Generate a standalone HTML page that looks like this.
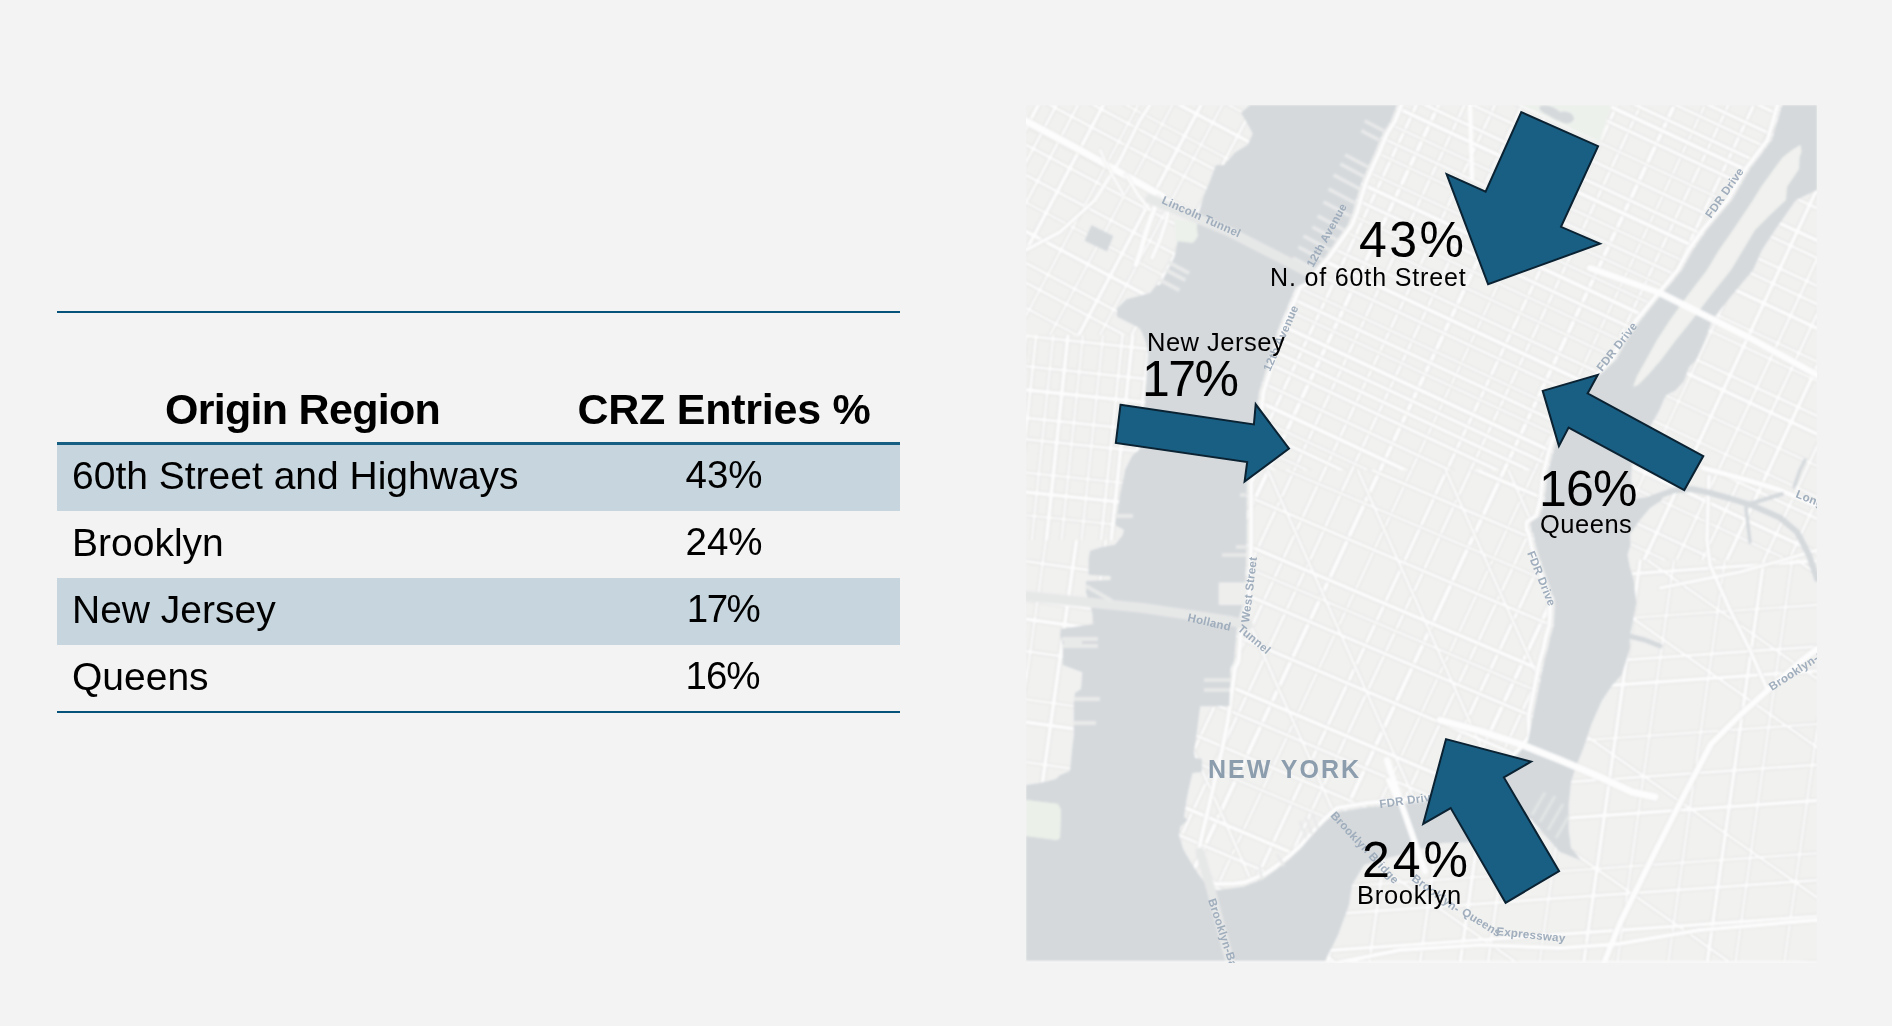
<!DOCTYPE html>
<html><head><meta charset="utf-8"><title>CRZ Entries by Origin Region</title>
<style>
html,body{margin:0;padding:0}
body{width:1892px;height:1026px;background:#f3f3f3;position:relative;overflow:hidden;-webkit-font-smoothing:antialiased;font-family:"Liberation Sans",Arial,Helvetica,sans-serif;color:#000}
.map{position:absolute;left:0;top:0;font-family:"Liberation Sans",Arial,Helvetica,sans-serif}
.rule{position:absolute;left:57px;width:843px}
.row{position:absolute;left:57px;width:843px;height:67px}
.hl{background:#c7d6de}
.c1{will-change:transform;position:absolute;left:72px;font-size:39px;letter-spacing:0px;white-space:nowrap;line-height:1}
.c2{will-change:transform;position:absolute;left:548px;width:352px;text-align:center;font-size:38.5px;white-space:nowrap;line-height:1}
.h{will-change:transform;position:absolute;font-weight:700;font-size:43px;white-space:nowrap;line-height:1;letter-spacing:-1.1px}
</style></head><body>
<div class="rule" style="top:311px;height:2px;background:#05527a"></div>
<div class="h" style="left:57px;width:491px;text-align:center;top:388px;letter-spacing:-0.7px">Origin Region</div>
<div class="h" style="left:548px;width:352px;text-align:center;top:388px;letter-spacing:-0.25px">CRZ Entries %</div>
<div class="rule" style="top:442px;height:3px;background:#165e82"></div>
<div class="row hl" style="top:445px;height:66px"></div>
<div class="row hl" style="top:578px"></div>
<div class="c1" style="top:456px">60th Street and Highways</div>
<div class="c2" style="top:456px">43%</div>
<div class="c1" style="top:523px">Brooklyn</div>
<div class="c2" style="top:523px">24%</div>
<div class="c1" style="top:590px">New Jersey</div>
<div class="c2" style="top:590px;letter-spacing:-1.5px;text-indent:-2px">17%</div>
<div class="c1" style="top:657px">Queens</div>
<div class="c2" style="top:657px;letter-spacing:-1px;text-indent:-3px">16%</div>
<div class="rule" style="top:711px;height:2px;background:#05527a"></div>
<svg class="map" width="1892" height="1026" viewBox="0 0 1892 1026">
<defs>
<clipPath id="mapclip"><rect x="1026" y="105" width="791" height="858"/></clipPath>
<clipPath id="manh"><path d="M1214.7,890.4 L1205.0,883.2 L1198.0,873.6 L1192.0,864.0 L1186.5,855.0 L1183.0,848.5 L1179.0,835.0 L1180.4,826.6 L1187.7,820.0 L1184.0,817.0 L1185.0,810.0 L1186.5,800.0 L1188.5,790.0 L1192.5,773.0 L1202.0,772.0 L1202.0,759.0 L1195.0,758.0 L1194.0,752.0 L1196.5,735.0 L1200.2,706.3 L1229.4,706.0 L1230.6,668.0 L1234.0,662.0 L1235.0,650.0 L1237.0,626.0 L1240.6,612.0 L1243.0,605.0 L1245.4,581.0 L1246.7,540.0 L1246.7,482.0 L1249.0,478.0 L1254.0,440.0 L1257.6,405.0 L1259.0,392.0 L1264.0,376.7 L1272.0,350.0 L1277.0,332.6 L1283.4,316.7 L1290.0,301.0 L1296.0,287.0 L1304.5,283.0 L1311.0,272.6 L1325.0,256.7 L1336.0,241.0 L1347.5,225.0 L1352.6,212.6 L1357.0,197.0 L1362.0,181.0 L1369.0,165.0 L1374.8,152.6 L1378.0,144.6 L1382.7,133.5 L1390.6,121.0 L1397.0,105.0 L1398.0,105.0 L1776.0,105.0 L1782.0,105.0 L1772.0,140.0 L1750.0,169.0 L1732.0,200.0 L1707.0,230.0 L1693.0,250.0 L1682.0,270.0 L1663.0,293.0 L1641.0,320.0 L1627.0,340.0 L1616.0,360.0 L1608.6,367.0 L1600.0,375.0 L1582.0,396.0 L1565.0,425.0 L1556.8,440.0 L1553.3,451.7 L1547.4,475.0 L1545.0,498.5 L1540.4,516.0 L1531.0,522.0 L1531.0,530.0 L1533.4,533.6 L1535.7,545.0 L1538.6,555.0 L1546.8,578.4 L1555.0,601.8 L1553.8,625.2 L1550.3,636.9 L1548.0,648.6 L1546.0,655.0 L1543.4,665.0 L1538.3,690.7 L1533.0,716.0 L1528.0,741.0 L1518.0,754.0 L1505.0,766.0 L1490.0,776.0 L1470.0,786.0 L1445.0,796.0 L1423.0,802.0 L1394.7,804.7 L1366.0,807.6 L1341.4,811.4 L1335.7,812.5 L1322.0,825.0 L1308.0,840.0 L1300.0,849.6 L1288.0,860.4 L1276.0,870.0 L1264.0,878.4 L1255.5,882.0 L1243.5,886.8 L1234.0,888.0 Z"/></clipPath>
<clipPath id="nj"><path d="M1026.0,105.0 L1250.0,105.0 L1241.0,113.0 L1246.0,121.0 L1252.7,133.5 L1248.0,144.6 L1235.0,152.6 L1224.0,165.0 L1216.0,165.0 L1210.0,180.9 L1203.5,196.7 L1198.8,212.6 L1197.0,225.0 L1196.0,240.0 L1177.7,241.0 L1174.5,256.7 L1166.6,272.6 L1160.0,285.0 L1156.6,285.0 L1150.0,292.9 L1126.5,299.3 L1117.0,308.8 L1117.0,316.7 L1139.0,327.8 L1142.0,332.6 L1147.0,345.0 L1148.0,354.5 L1146.6,376.7 L1145.0,405.0 L1141.0,448.0 L1132.0,456.0 L1125.0,470.0 L1124.0,476.0 L1120.0,494.3 L1118.0,510.0 L1115.0,524.7 L1124.0,530.0 L1122.7,535.0 L1115.0,544.7 L1102.0,547.0 L1090.0,550.8 L1088.6,559.0 L1088.6,575.0 L1110.5,576.0 L1110.5,580.0 L1086.0,581.0 L1086.0,592.0 L1088.6,601.0 L1092.0,612.0 L1093.5,624.0 L1060.7,629.0 L1060.0,636.0 L1062.0,641.0 L1063.0,652.0 L1062.8,665.0 L1082.3,672.3 L1081.0,689.0 L1075.0,693.0 L1073.8,701.5 L1073.8,735.0 L1072.0,750.0 L1070.0,771.0 L1060.0,775.0 L1056.0,779.0 L1040.0,783.0 L1026.0,785.0 L1026.0,800.0 L1058.0,804.0 L1061.0,810.0 L1060.0,838.0 L1057.0,840.0 L1026.0,836.0 L1026.0,963.0 Z"/></clipPath>
<clipPath id="qb"><path d="M1776.0,105.0 L1817.0,105.0 L1817.0,963.0 L1336.0,963.0 L1324.0,963.0 L1338.0,935.0 L1349.0,905.0 L1352.0,885.0 L1364.0,865.0 L1380.0,860.0 L1400.0,855.0 L1442.0,843.0 L1470.0,842.0 L1490.0,836.0 L1520.0,828.0 L1530.0,818.0 L1545.0,835.0 L1560.0,852.0 L1581.4,860.6 L1571.0,848.0 L1568.7,830.0 L1568.7,804.8 L1571.0,782.0 L1576.0,766.8 L1584.0,746.5 L1591.6,723.7 L1601.7,701.0 L1612.0,685.6 L1621.6,675.0 L1626.3,660.3 L1629.8,648.6 L1629.8,636.9 L1632.2,625.2 L1636.3,601.8 L1633.3,578.4 L1629.8,566.7 L1627.5,555.0 L1630.5,545.0 L1630.0,534.0 L1640.0,520.0 L1650.0,508.0 L1662.0,500.0 L1662.0,492.0 L1648.0,497.0 L1634.0,499.0 L1631.0,480.0 L1632.0,463.0 L1642.0,448.0 L1652.0,423.0 L1659.0,411.0 L1665.0,397.0 L1667.0,394.6 L1675.5,390.5 L1684.0,381.0 L1689.0,367.0 L1696.0,360.0 L1705.0,340.0 L1712.0,320.0 L1728.0,300.0 L1753.0,270.0 L1762.0,250.0 L1775.0,230.0 L1796.0,200.0 L1817.0,190.0 Z"/></clipPath>
</defs>
<filter id="soft" x="0" y="0" width="1" height="1"><feGaussianBlur stdDeviation="0.85"/></filter>
<g clip-path="url(#mapclip)"><g filter="url(#soft)">
<rect x="1026" y="105" width="791" height="858" fill="#f1f1f0"/>
<clipPath id="band0"><rect x="1026" y="105" width="791" height="858"/></clipPath>
<g clip-path="url(#manh)"><g clip-path="url(#band0)"><g stroke="#e4e4e3"><line x1="320.9" y1="1014.5" x2="1081.7" y2="-616.8" stroke-width="6.36"/><line x1="340.5" y1="1023.6" x2="1101.2" y2="-607.7" stroke-width="5.58"/><line x1="365.4" y1="1035.3" x2="1126.1" y2="-596.1" stroke-width="4.54"/><line x1="386.4" y1="1045.1" x2="1147.1" y2="-586.3" stroke-width="5.06"/><line x1="408.8" y1="1055.5" x2="1169.6" y2="-575.8" stroke-width="6.36"/><line x1="435.7" y1="1068.1" x2="1196.4" y2="-563.3" stroke-width="5.58"/><line x1="463.3" y1="1080.9" x2="1224.0" y2="-550.4" stroke-width="4.54"/><line x1="486.8" y1="1091.9" x2="1247.5" y2="-539.5" stroke-width="5.58"/><line x1="511.1" y1="1103.2" x2="1271.8" y2="-528.1" stroke-width="6.36"/><line x1="532.0" y1="1113.0" x2="1292.7" y2="-518.4" stroke-width="5.06"/><line x1="560.2" y1="1126.1" x2="1320.9" y2="-505.3" stroke-width="4.54"/><line x1="583.9" y1="1137.1" x2="1344.6" y2="-494.2" stroke-width="4.54"/><line x1="600.7" y1="1145.0" x2="1361.4" y2="-486.3" stroke-width="6.36"/><line x1="627.7" y1="1157.6" x2="1388.4" y2="-473.8" stroke-width="5.58"/><line x1="649.1" y1="1167.6" x2="1409.8" y2="-463.8" stroke-width="4.54"/><line x1="665.2" y1="1175.1" x2="1425.9" y2="-456.3" stroke-width="4.54"/><line x1="692.2" y1="1187.7" x2="1452.9" y2="-443.7" stroke-width="6.36"/><line x1="715.0" y1="1198.3" x2="1475.7" y2="-433.1" stroke-width="4.54"/><line x1="744.3" y1="1212.0" x2="1505.0" y2="-419.4" stroke-width="5.06"/><line x1="773.0" y1="1225.4" x2="1533.7" y2="-406.0" stroke-width="4.54"/><line x1="797.9" y1="1236.9" x2="1558.6" y2="-394.4" stroke-width="6.36"/><line x1="821.1" y1="1247.8" x2="1581.8" y2="-383.6" stroke-width="5.58"/><line x1="844.5" y1="1258.7" x2="1605.2" y2="-372.7" stroke-width="5.58"/><line x1="872.4" y1="1271.7" x2="1633.1" y2="-359.7" stroke-width="5.58"/><line x1="890.6" y1="1280.2" x2="1651.3" y2="-351.2" stroke-width="6.36"/><line x1="911.9" y1="1290.1" x2="1672.6" y2="-341.2" stroke-width="5.06"/><line x1="936.9" y1="1301.7" x2="1697.6" y2="-329.6" stroke-width="5.06"/><line x1="959.2" y1="1312.2" x2="1719.9" y2="-319.2" stroke-width="5.06"/><line x1="982.4" y1="1323.0" x2="1743.1" y2="-308.4" stroke-width="6.36"/><line x1="1008.1" y1="1335.0" x2="1768.9" y2="-296.4" stroke-width="4.54"/><line x1="1037.3" y1="1348.6" x2="1798.0" y2="-282.8" stroke-width="5.58"/><line x1="1056.7" y1="1357.6" x2="1817.4" y2="-273.7" stroke-width="5.06"/><line x1="1084.3" y1="1370.5" x2="1845.0" y2="-260.8" stroke-width="6.36"/><line x1="1109.4" y1="1382.2" x2="1870.1" y2="-249.2" stroke-width="4.54"/><line x1="1128.6" y1="1391.2" x2="1889.4" y2="-240.2" stroke-width="5.06"/><line x1="1149.4" y1="1400.9" x2="1910.2" y2="-230.5" stroke-width="5.58"/><line x1="1173.1" y1="1411.9" x2="1933.8" y2="-219.4" stroke-width="6.36"/><line x1="1191.4" y1="1420.4" x2="1952.1" y2="-210.9" stroke-width="5.06"/><line x1="1218.4" y1="1433.1" x2="1979.2" y2="-198.3" stroke-width="5.06"/><line x1="1234.7" y1="1440.7" x2="1995.5" y2="-190.7" stroke-width="4.54"/><line x1="1253.6" y1="1449.5" x2="2014.3" y2="-181.9" stroke-width="6.36"/><line x1="1270.1" y1="1457.1" x2="2030.8" y2="-174.2" stroke-width="4.54"/><line x1="1296.4" y1="1469.4" x2="2057.1" y2="-161.9" stroke-width="4.54"/><line x1="1322.5" y1="1481.6" x2="2083.2" y2="-149.8" stroke-width="4.54"/><line x1="1340.8" y1="1490.1" x2="2101.5" y2="-141.2" stroke-width="6.36"/><line x1="1360.4" y1="1499.2" x2="2121.1" y2="-132.1" stroke-width="5.06"/><line x1="1380.0" y1="1508.4" x2="2140.7" y2="-123.0" stroke-width="5.06"/><line x1="1404.1" y1="1519.6" x2="2164.8" y2="-111.7" stroke-width="5.58"/><line x1="1420.6" y1="1527.3" x2="2181.3" y2="-104.0" stroke-width="6.36"/><line x1="1441.5" y1="1537.1" x2="2202.2" y2="-94.3" stroke-width="5.06"/><line x1="1461.2" y1="1546.2" x2="2221.9" y2="-85.1" stroke-width="5.06"/><line x1="1486.5" y1="1558.1" x2="2247.2" y2="-73.3" stroke-width="5.06"/><line x1="1505.6" y1="1567.0" x2="2266.4" y2="-64.4" stroke-width="6.36"/><line x1="1527.8" y1="1577.3" x2="2288.5" y2="-54.0" stroke-width="5.58"/><line x1="1548.6" y1="1587.0" x2="2309.3" y2="-44.3" stroke-width="4.54"/><line x1="1574.9" y1="1599.3" x2="2335.6" y2="-32.1" stroke-width="4.54"/><line x1="1603.2" y1="1612.5" x2="2363.9" y2="-18.9" stroke-width="6.36"/><line x1="1631.9" y1="1625.9" x2="2392.6" y2="-5.5" stroke-width="5.06"/><line x1="1650.2" y1="1634.4" x2="2410.9" y2="3.0" stroke-width="4.54"/><line x1="1672.9" y1="1645.0" x2="2433.6" y2="13.6" stroke-width="4.54"/><line x1="1697.2" y1="1656.3" x2="2457.9" y2="24.9" stroke-width="6.36"/><line x1="1726.6" y1="1670.0" x2="2487.3" y2="38.7" stroke-width="5.58"/><line x1="1744.6" y1="1678.4" x2="2505.3" y2="47.0" stroke-width="5.06"/></g><g stroke="#fdfdfd"><line x1="320.9" y1="1014.5" x2="1081.7" y2="-616.8" stroke-width="4.16"/><line x1="340.5" y1="1023.6" x2="1101.2" y2="-607.7" stroke-width="3.38"/><line x1="365.4" y1="1035.3" x2="1126.1" y2="-596.1" stroke-width="2.34"/><line x1="386.4" y1="1045.1" x2="1147.1" y2="-586.3" stroke-width="2.86"/><line x1="408.8" y1="1055.5" x2="1169.6" y2="-575.8" stroke-width="4.16"/><line x1="435.7" y1="1068.1" x2="1196.4" y2="-563.3" stroke-width="3.38"/><line x1="463.3" y1="1080.9" x2="1224.0" y2="-550.4" stroke-width="2.34"/><line x1="486.8" y1="1091.9" x2="1247.5" y2="-539.5" stroke-width="3.38"/><line x1="511.1" y1="1103.2" x2="1271.8" y2="-528.1" stroke-width="4.16"/><line x1="532.0" y1="1113.0" x2="1292.7" y2="-518.4" stroke-width="2.86"/><line x1="560.2" y1="1126.1" x2="1320.9" y2="-505.3" stroke-width="2.34"/><line x1="583.9" y1="1137.1" x2="1344.6" y2="-494.2" stroke-width="2.34"/><line x1="600.7" y1="1145.0" x2="1361.4" y2="-486.3" stroke-width="4.16"/><line x1="627.7" y1="1157.6" x2="1388.4" y2="-473.8" stroke-width="3.38"/><line x1="649.1" y1="1167.6" x2="1409.8" y2="-463.8" stroke-width="2.34"/><line x1="665.2" y1="1175.1" x2="1425.9" y2="-456.3" stroke-width="2.34"/><line x1="692.2" y1="1187.7" x2="1452.9" y2="-443.7" stroke-width="4.16"/><line x1="715.0" y1="1198.3" x2="1475.7" y2="-433.1" stroke-width="2.34"/><line x1="744.3" y1="1212.0" x2="1505.0" y2="-419.4" stroke-width="2.86"/><line x1="773.0" y1="1225.4" x2="1533.7" y2="-406.0" stroke-width="2.34"/><line x1="797.9" y1="1236.9" x2="1558.6" y2="-394.4" stroke-width="4.16"/><line x1="821.1" y1="1247.8" x2="1581.8" y2="-383.6" stroke-width="3.38"/><line x1="844.5" y1="1258.7" x2="1605.2" y2="-372.7" stroke-width="3.38"/><line x1="872.4" y1="1271.7" x2="1633.1" y2="-359.7" stroke-width="3.38"/><line x1="890.6" y1="1280.2" x2="1651.3" y2="-351.2" stroke-width="4.16"/><line x1="911.9" y1="1290.1" x2="1672.6" y2="-341.2" stroke-width="2.86"/><line x1="936.9" y1="1301.7" x2="1697.6" y2="-329.6" stroke-width="2.86"/><line x1="959.2" y1="1312.2" x2="1719.9" y2="-319.2" stroke-width="2.86"/><line x1="982.4" y1="1323.0" x2="1743.1" y2="-308.4" stroke-width="4.16"/><line x1="1008.1" y1="1335.0" x2="1768.9" y2="-296.4" stroke-width="2.34"/><line x1="1037.3" y1="1348.6" x2="1798.0" y2="-282.8" stroke-width="3.38"/><line x1="1056.7" y1="1357.6" x2="1817.4" y2="-273.7" stroke-width="2.86"/><line x1="1084.3" y1="1370.5" x2="1845.0" y2="-260.8" stroke-width="4.16"/><line x1="1109.4" y1="1382.2" x2="1870.1" y2="-249.2" stroke-width="2.34"/><line x1="1128.6" y1="1391.2" x2="1889.4" y2="-240.2" stroke-width="2.86"/><line x1="1149.4" y1="1400.9" x2="1910.2" y2="-230.5" stroke-width="3.38"/><line x1="1173.1" y1="1411.9" x2="1933.8" y2="-219.4" stroke-width="4.16"/><line x1="1191.4" y1="1420.4" x2="1952.1" y2="-210.9" stroke-width="2.86"/><line x1="1218.4" y1="1433.1" x2="1979.2" y2="-198.3" stroke-width="2.86"/><line x1="1234.7" y1="1440.7" x2="1995.5" y2="-190.7" stroke-width="2.34"/><line x1="1253.6" y1="1449.5" x2="2014.3" y2="-181.9" stroke-width="4.16"/><line x1="1270.1" y1="1457.1" x2="2030.8" y2="-174.2" stroke-width="2.34"/><line x1="1296.4" y1="1469.4" x2="2057.1" y2="-161.9" stroke-width="2.34"/><line x1="1322.5" y1="1481.6" x2="2083.2" y2="-149.8" stroke-width="2.34"/><line x1="1340.8" y1="1490.1" x2="2101.5" y2="-141.2" stroke-width="4.16"/><line x1="1360.4" y1="1499.2" x2="2121.1" y2="-132.1" stroke-width="2.86"/><line x1="1380.0" y1="1508.4" x2="2140.7" y2="-123.0" stroke-width="2.86"/><line x1="1404.1" y1="1519.6" x2="2164.8" y2="-111.7" stroke-width="3.38"/><line x1="1420.6" y1="1527.3" x2="2181.3" y2="-104.0" stroke-width="4.16"/><line x1="1441.5" y1="1537.1" x2="2202.2" y2="-94.3" stroke-width="2.86"/><line x1="1461.2" y1="1546.2" x2="2221.9" y2="-85.1" stroke-width="2.86"/><line x1="1486.5" y1="1558.1" x2="2247.2" y2="-73.3" stroke-width="2.86"/><line x1="1505.6" y1="1567.0" x2="2266.4" y2="-64.4" stroke-width="4.16"/><line x1="1527.8" y1="1577.3" x2="2288.5" y2="-54.0" stroke-width="3.38"/><line x1="1548.6" y1="1587.0" x2="2309.3" y2="-44.3" stroke-width="2.34"/><line x1="1574.9" y1="1599.3" x2="2335.6" y2="-32.1" stroke-width="2.34"/><line x1="1603.2" y1="1612.5" x2="2363.9" y2="-18.9" stroke-width="4.16"/><line x1="1631.9" y1="1625.9" x2="2392.6" y2="-5.5" stroke-width="2.86"/><line x1="1650.2" y1="1634.4" x2="2410.9" y2="3.0" stroke-width="2.34"/><line x1="1672.9" y1="1645.0" x2="2433.6" y2="13.6" stroke-width="2.34"/><line x1="1697.2" y1="1656.3" x2="2457.9" y2="24.9" stroke-width="4.16"/><line x1="1726.6" y1="1670.0" x2="2487.3" y2="38.7" stroke-width="3.38"/><line x1="1744.6" y1="1678.4" x2="2505.3" y2="47.0" stroke-width="2.86"/></g></g></g>
<clipPath id="band1"><rect x="1026" y="105" width="791" height="365"/></clipPath>
<g clip-path="url(#manh)"><g clip-path="url(#band1)"><g stroke="#e4e4e3"><line x1="941.1" y1="-568.7" x2="2572.5" y2="192.0" stroke-width="6.10"/><line x1="932.1" y1="-549.3" x2="2563.5" y2="211.4" stroke-width="4.80"/><line x1="925.2" y1="-534.4" x2="2556.5" y2="226.3" stroke-width="5.32"/><line x1="919.6" y1="-522.4" x2="2550.9" y2="238.3" stroke-width="5.32"/><line x1="912.5" y1="-507.2" x2="2543.9" y2="253.5" stroke-width="5.32"/><line x1="903.8" y1="-488.7" x2="2535.2" y2="272.0" stroke-width="6.10"/><line x1="896.9" y1="-473.8" x2="2528.3" y2="286.9" stroke-width="4.28"/><line x1="891.8" y1="-462.8" x2="2523.2" y2="297.9" stroke-width="5.32"/><line x1="883.9" y1="-446.0" x2="2515.3" y2="314.7" stroke-width="5.32"/><line x1="874.3" y1="-425.4" x2="2505.7" y2="335.3" stroke-width="4.80"/><line x1="866.4" y1="-408.3" x2="2497.7" y2="352.4" stroke-width="6.10"/><line x1="858.4" y1="-391.3" x2="2489.8" y2="369.4" stroke-width="5.32"/><line x1="853.7" y1="-381.1" x2="2485.0" y2="379.6" stroke-width="5.32"/><line x1="848.7" y1="-370.4" x2="2480.0" y2="390.3" stroke-width="4.28"/><line x1="843.1" y1="-358.3" x2="2474.4" y2="402.4" stroke-width="4.28"/><line x1="835.4" y1="-341.9" x2="2466.7" y2="418.8" stroke-width="6.10"/><line x1="829.1" y1="-328.3" x2="2460.4" y2="432.4" stroke-width="5.32"/><line x1="820.2" y1="-309.2" x2="2451.5" y2="451.5" stroke-width="5.32"/><line x1="814.3" y1="-296.7" x2="2445.7" y2="464.0" stroke-width="4.80"/><line x1="807.1" y1="-281.3" x2="2438.5" y2="479.4" stroke-width="5.32"/><line x1="802.0" y1="-270.4" x2="2433.4" y2="490.4" stroke-width="6.10"/><line x1="796.0" y1="-257.3" x2="2427.3" y2="503.4" stroke-width="5.32"/><line x1="786.3" y1="-236.6" x2="2417.6" y2="524.1" stroke-width="4.28"/><line x1="778.1" y1="-218.9" x2="2409.4" y2="541.8" stroke-width="4.80"/><line x1="769.6" y1="-200.8" x2="2400.9" y2="560.0" stroke-width="5.32"/><line x1="763.5" y1="-187.6" x2="2394.8" y2="573.1" stroke-width="6.10"/><line x1="756.0" y1="-171.5" x2="2387.3" y2="589.2" stroke-width="4.28"/><line x1="749.3" y1="-157.2" x2="2380.6" y2="603.5" stroke-width="4.80"/><line x1="742.7" y1="-143.0" x2="2374.0" y2="617.7" stroke-width="4.28"/><line x1="733.7" y1="-123.9" x2="2365.1" y2="636.8" stroke-width="4.28"/><line x1="728.0" y1="-111.5" x2="2359.3" y2="649.2" stroke-width="6.10"/><line x1="721.0" y1="-96.5" x2="2352.3" y2="664.2" stroke-width="5.32"/><line x1="714.3" y1="-82.2" x2="2345.6" y2="678.5" stroke-width="4.28"/><line x1="706.8" y1="-66.0" x2="2338.1" y2="694.7" stroke-width="4.28"/><line x1="698.2" y1="-47.6" x2="2329.5" y2="713.1" stroke-width="4.80"/><line x1="691.8" y1="-34.0" x2="2323.2" y2="726.7" stroke-width="6.10"/><line x1="685.5" y1="-20.4" x2="2316.8" y2="740.3" stroke-width="4.80"/><line x1="677.0" y1="-2.2" x2="2308.3" y2="758.5" stroke-width="4.28"/><line x1="671.6" y1="9.3" x2="2303.0" y2="770.0" stroke-width="5.32"/><line x1="666.5" y1="20.4" x2="2297.8" y2="781.1" stroke-width="4.28"/><line x1="659.5" y1="35.4" x2="2290.8" y2="796.1" stroke-width="6.10"/><line x1="653.9" y1="47.3" x2="2285.2" y2="808.1" stroke-width="5.32"/><line x1="648.3" y1="59.4" x2="2279.6" y2="820.1" stroke-width="5.32"/><line x1="642.6" y1="71.5" x2="2274.0" y2="832.2" stroke-width="5.32"/><line x1="634.1" y1="89.8" x2="2265.5" y2="850.5" stroke-width="4.80"/><line x1="626.2" y1="106.7" x2="2257.6" y2="867.4" stroke-width="6.10"/><line x1="619.5" y1="121.0" x2="2250.9" y2="881.7" stroke-width="4.28"/><line x1="614.9" y1="131.0" x2="2246.2" y2="891.7" stroke-width="5.32"/><line x1="608.7" y1="144.3" x2="2240.0" y2="905.0" stroke-width="4.28"/><line x1="602.9" y1="156.6" x2="2234.3" y2="917.3" stroke-width="4.80"/><line x1="593.3" y1="177.4" x2="2224.6" y2="938.1" stroke-width="6.10"/><line x1="585.4" y1="194.3" x2="2216.7" y2="955.0" stroke-width="4.28"/><line x1="580.5" y1="204.8" x2="2211.8" y2="965.5" stroke-width="4.28"/><line x1="574.7" y1="217.1" x2="2206.1" y2="977.8" stroke-width="4.80"/><line x1="570.0" y1="227.2" x2="2201.4" y2="987.9" stroke-width="5.32"/><line x1="563.7" y1="240.8" x2="2195.1" y2="1001.5" stroke-width="6.10"/><line x1="557.1" y1="254.9" x2="2188.4" y2="1015.7" stroke-width="4.28"/><line x1="552.0" y1="265.9" x2="2183.3" y2="1026.6" stroke-width="5.32"/><line x1="544.1" y1="282.8" x2="2175.4" y2="1043.5" stroke-width="4.28"/><line x1="536.4" y1="299.3" x2="2167.8" y2="1060.0" stroke-width="4.80"/><line x1="528.6" y1="316.0" x2="2160.0" y2="1076.7" stroke-width="6.10"/><line x1="519.1" y1="336.4" x2="2150.5" y2="1097.1" stroke-width="4.80"/><line x1="510.3" y1="355.4" x2="2141.6" y2="1116.1" stroke-width="4.28"/><line x1="501.2" y1="374.7" x2="2132.6" y2="1135.5" stroke-width="4.28"/><line x1="493.4" y1="391.5" x2="2124.8" y2="1152.2" stroke-width="4.80"/><line x1="484.2" y1="411.3" x2="2115.5" y2="1172.0" stroke-width="6.10"/><line x1="478.2" y1="424.0" x2="2109.6" y2="1184.8" stroke-width="4.28"/><line x1="472.8" y1="435.8" x2="2104.1" y2="1196.5" stroke-width="5.32"/><line x1="463.4" y1="455.9" x2="2094.7" y2="1216.6" stroke-width="4.28"/><line x1="455.2" y1="473.3" x2="2086.6" y2="1234.1" stroke-width="4.80"/><line x1="446.1" y1="492.9" x2="2077.5" y2="1253.6" stroke-width="6.10"/><line x1="441.1" y1="503.7" x2="2072.4" y2="1264.4" stroke-width="4.28"/><line x1="435.9" y1="514.9" x2="2067.2" y2="1275.6" stroke-width="4.28"/><line x1="428.6" y1="530.4" x2="2060.0" y2="1291.1" stroke-width="4.80"/><line x1="422.8" y1="543.0" x2="2054.1" y2="1303.7" stroke-width="5.32"/><line x1="416.1" y1="557.2" x2="2047.5" y2="1317.9" stroke-width="6.10"/><line x1="407.3" y1="576.1" x2="2038.7" y2="1336.8" stroke-width="5.32"/><line x1="400.2" y1="591.4" x2="2031.5" y2="1352.2" stroke-width="5.32"/><line x1="394.6" y1="603.3" x2="2026.0" y2="1364.1" stroke-width="5.32"/><line x1="385.0" y1="623.9" x2="2016.4" y2="1384.6" stroke-width="4.28"/><line x1="379.2" y1="636.4" x2="2010.6" y2="1397.1" stroke-width="6.10"/><line x1="371.3" y1="653.4" x2="2002.6" y2="1414.2" stroke-width="5.32"/><line x1="363.5" y1="670.1" x2="1994.9" y2="1430.8" stroke-width="4.80"/><line x1="357.8" y1="682.4" x2="1989.1" y2="1443.1" stroke-width="4.28"/><line x1="349.3" y1="700.5" x2="1980.7" y2="1461.2" stroke-width="4.28"/><line x1="343.3" y1="713.4" x2="1974.7" y2="1474.1" stroke-width="6.10"/><line x1="337.4" y1="726.1" x2="1968.7" y2="1486.8" stroke-width="4.28"/><line x1="331.8" y1="738.0" x2="1963.2" y2="1498.7" stroke-width="4.80"/><line x1="324.5" y1="753.8" x2="1955.8" y2="1514.5" stroke-width="4.28"/><line x1="319.4" y1="764.8" x2="1950.7" y2="1525.5" stroke-width="4.28"/><line x1="310.2" y1="784.4" x2="1941.6" y2="1545.1" stroke-width="6.10"/><line x1="302.2" y1="801.5" x2="1933.6" y2="1562.2" stroke-width="5.32"/><line x1="294.9" y1="817.1" x2="1926.3" y2="1577.8" stroke-width="4.28"/><line x1="287.3" y1="833.5" x2="1918.7" y2="1594.2" stroke-width="4.28"/><line x1="280.2" y1="848.6" x2="1911.6" y2="1609.4" stroke-width="4.80"/><line x1="272.0" y1="866.2" x2="1903.4" y2="1626.9" stroke-width="6.10"/><line x1="267.3" y1="876.5" x2="1898.6" y2="1637.2" stroke-width="5.32"/></g><g stroke="#fdfdfd"><line x1="941.1" y1="-568.7" x2="2572.5" y2="192.0" stroke-width="3.90"/><line x1="932.1" y1="-549.3" x2="2563.5" y2="211.4" stroke-width="2.60"/><line x1="925.2" y1="-534.4" x2="2556.5" y2="226.3" stroke-width="3.12"/><line x1="919.6" y1="-522.4" x2="2550.9" y2="238.3" stroke-width="3.12"/><line x1="912.5" y1="-507.2" x2="2543.9" y2="253.5" stroke-width="3.12"/><line x1="903.8" y1="-488.7" x2="2535.2" y2="272.0" stroke-width="3.90"/><line x1="896.9" y1="-473.8" x2="2528.3" y2="286.9" stroke-width="2.08"/><line x1="891.8" y1="-462.8" x2="2523.2" y2="297.9" stroke-width="3.12"/><line x1="883.9" y1="-446.0" x2="2515.3" y2="314.7" stroke-width="3.12"/><line x1="874.3" y1="-425.4" x2="2505.7" y2="335.3" stroke-width="2.60"/><line x1="866.4" y1="-408.3" x2="2497.7" y2="352.4" stroke-width="3.90"/><line x1="858.4" y1="-391.3" x2="2489.8" y2="369.4" stroke-width="3.12"/><line x1="853.7" y1="-381.1" x2="2485.0" y2="379.6" stroke-width="3.12"/><line x1="848.7" y1="-370.4" x2="2480.0" y2="390.3" stroke-width="2.08"/><line x1="843.1" y1="-358.3" x2="2474.4" y2="402.4" stroke-width="2.08"/><line x1="835.4" y1="-341.9" x2="2466.7" y2="418.8" stroke-width="3.90"/><line x1="829.1" y1="-328.3" x2="2460.4" y2="432.4" stroke-width="3.12"/><line x1="820.2" y1="-309.2" x2="2451.5" y2="451.5" stroke-width="3.12"/><line x1="814.3" y1="-296.7" x2="2445.7" y2="464.0" stroke-width="2.60"/><line x1="807.1" y1="-281.3" x2="2438.5" y2="479.4" stroke-width="3.12"/><line x1="802.0" y1="-270.4" x2="2433.4" y2="490.4" stroke-width="3.90"/><line x1="796.0" y1="-257.3" x2="2427.3" y2="503.4" stroke-width="3.12"/><line x1="786.3" y1="-236.6" x2="2417.6" y2="524.1" stroke-width="2.08"/><line x1="778.1" y1="-218.9" x2="2409.4" y2="541.8" stroke-width="2.60"/><line x1="769.6" y1="-200.8" x2="2400.9" y2="560.0" stroke-width="3.12"/><line x1="763.5" y1="-187.6" x2="2394.8" y2="573.1" stroke-width="3.90"/><line x1="756.0" y1="-171.5" x2="2387.3" y2="589.2" stroke-width="2.08"/><line x1="749.3" y1="-157.2" x2="2380.6" y2="603.5" stroke-width="2.60"/><line x1="742.7" y1="-143.0" x2="2374.0" y2="617.7" stroke-width="2.08"/><line x1="733.7" y1="-123.9" x2="2365.1" y2="636.8" stroke-width="2.08"/><line x1="728.0" y1="-111.5" x2="2359.3" y2="649.2" stroke-width="3.90"/><line x1="721.0" y1="-96.5" x2="2352.3" y2="664.2" stroke-width="3.12"/><line x1="714.3" y1="-82.2" x2="2345.6" y2="678.5" stroke-width="2.08"/><line x1="706.8" y1="-66.0" x2="2338.1" y2="694.7" stroke-width="2.08"/><line x1="698.2" y1="-47.6" x2="2329.5" y2="713.1" stroke-width="2.60"/><line x1="691.8" y1="-34.0" x2="2323.2" y2="726.7" stroke-width="3.90"/><line x1="685.5" y1="-20.4" x2="2316.8" y2="740.3" stroke-width="2.60"/><line x1="677.0" y1="-2.2" x2="2308.3" y2="758.5" stroke-width="2.08"/><line x1="671.6" y1="9.3" x2="2303.0" y2="770.0" stroke-width="3.12"/><line x1="666.5" y1="20.4" x2="2297.8" y2="781.1" stroke-width="2.08"/><line x1="659.5" y1="35.4" x2="2290.8" y2="796.1" stroke-width="3.90"/><line x1="653.9" y1="47.3" x2="2285.2" y2="808.1" stroke-width="3.12"/><line x1="648.3" y1="59.4" x2="2279.6" y2="820.1" stroke-width="3.12"/><line x1="642.6" y1="71.5" x2="2274.0" y2="832.2" stroke-width="3.12"/><line x1="634.1" y1="89.8" x2="2265.5" y2="850.5" stroke-width="2.60"/><line x1="626.2" y1="106.7" x2="2257.6" y2="867.4" stroke-width="3.90"/><line x1="619.5" y1="121.0" x2="2250.9" y2="881.7" stroke-width="2.08"/><line x1="614.9" y1="131.0" x2="2246.2" y2="891.7" stroke-width="3.12"/><line x1="608.7" y1="144.3" x2="2240.0" y2="905.0" stroke-width="2.08"/><line x1="602.9" y1="156.6" x2="2234.3" y2="917.3" stroke-width="2.60"/><line x1="593.3" y1="177.4" x2="2224.6" y2="938.1" stroke-width="3.90"/><line x1="585.4" y1="194.3" x2="2216.7" y2="955.0" stroke-width="2.08"/><line x1="580.5" y1="204.8" x2="2211.8" y2="965.5" stroke-width="2.08"/><line x1="574.7" y1="217.1" x2="2206.1" y2="977.8" stroke-width="2.60"/><line x1="570.0" y1="227.2" x2="2201.4" y2="987.9" stroke-width="3.12"/><line x1="563.7" y1="240.8" x2="2195.1" y2="1001.5" stroke-width="3.90"/><line x1="557.1" y1="254.9" x2="2188.4" y2="1015.7" stroke-width="2.08"/><line x1="552.0" y1="265.9" x2="2183.3" y2="1026.6" stroke-width="3.12"/><line x1="544.1" y1="282.8" x2="2175.4" y2="1043.5" stroke-width="2.08"/><line x1="536.4" y1="299.3" x2="2167.8" y2="1060.0" stroke-width="2.60"/><line x1="528.6" y1="316.0" x2="2160.0" y2="1076.7" stroke-width="3.90"/><line x1="519.1" y1="336.4" x2="2150.5" y2="1097.1" stroke-width="2.60"/><line x1="510.3" y1="355.4" x2="2141.6" y2="1116.1" stroke-width="2.08"/><line x1="501.2" y1="374.7" x2="2132.6" y2="1135.5" stroke-width="2.08"/><line x1="493.4" y1="391.5" x2="2124.8" y2="1152.2" stroke-width="2.60"/><line x1="484.2" y1="411.3" x2="2115.5" y2="1172.0" stroke-width="3.90"/><line x1="478.2" y1="424.0" x2="2109.6" y2="1184.8" stroke-width="2.08"/><line x1="472.8" y1="435.8" x2="2104.1" y2="1196.5" stroke-width="3.12"/><line x1="463.4" y1="455.9" x2="2094.7" y2="1216.6" stroke-width="2.08"/><line x1="455.2" y1="473.3" x2="2086.6" y2="1234.1" stroke-width="2.60"/><line x1="446.1" y1="492.9" x2="2077.5" y2="1253.6" stroke-width="3.90"/><line x1="441.1" y1="503.7" x2="2072.4" y2="1264.4" stroke-width="2.08"/><line x1="435.9" y1="514.9" x2="2067.2" y2="1275.6" stroke-width="2.08"/><line x1="428.6" y1="530.4" x2="2060.0" y2="1291.1" stroke-width="2.60"/><line x1="422.8" y1="543.0" x2="2054.1" y2="1303.7" stroke-width="3.12"/><line x1="416.1" y1="557.2" x2="2047.5" y2="1317.9" stroke-width="3.90"/><line x1="407.3" y1="576.1" x2="2038.7" y2="1336.8" stroke-width="3.12"/><line x1="400.2" y1="591.4" x2="2031.5" y2="1352.2" stroke-width="3.12"/><line x1="394.6" y1="603.3" x2="2026.0" y2="1364.1" stroke-width="3.12"/><line x1="385.0" y1="623.9" x2="2016.4" y2="1384.6" stroke-width="2.08"/><line x1="379.2" y1="636.4" x2="2010.6" y2="1397.1" stroke-width="3.90"/><line x1="371.3" y1="653.4" x2="2002.6" y2="1414.2" stroke-width="3.12"/><line x1="363.5" y1="670.1" x2="1994.9" y2="1430.8" stroke-width="2.60"/><line x1="357.8" y1="682.4" x2="1989.1" y2="1443.1" stroke-width="2.08"/><line x1="349.3" y1="700.5" x2="1980.7" y2="1461.2" stroke-width="2.08"/><line x1="343.3" y1="713.4" x2="1974.7" y2="1474.1" stroke-width="3.90"/><line x1="337.4" y1="726.1" x2="1968.7" y2="1486.8" stroke-width="2.08"/><line x1="331.8" y1="738.0" x2="1963.2" y2="1498.7" stroke-width="2.60"/><line x1="324.5" y1="753.8" x2="1955.8" y2="1514.5" stroke-width="2.08"/><line x1="319.4" y1="764.8" x2="1950.7" y2="1525.5" stroke-width="2.08"/><line x1="310.2" y1="784.4" x2="1941.6" y2="1545.1" stroke-width="3.90"/><line x1="302.2" y1="801.5" x2="1933.6" y2="1562.2" stroke-width="3.12"/><line x1="294.9" y1="817.1" x2="1926.3" y2="1577.8" stroke-width="2.08"/><line x1="287.3" y1="833.5" x2="1918.7" y2="1594.2" stroke-width="2.08"/><line x1="280.2" y1="848.6" x2="1911.6" y2="1609.4" stroke-width="2.60"/><line x1="272.0" y1="866.2" x2="1903.4" y2="1626.9" stroke-width="3.90"/><line x1="267.3" y1="876.5" x2="1898.6" y2="1637.2" stroke-width="3.12"/></g></g></g>
<clipPath id="band2"><rect x="1026" y="470" width="791" height="493"/></clipPath>
<g clip-path="url(#manh)"><g clip-path="url(#band2)"><g stroke="#e4e4e3"><line x1="899.8" y1="-543.9" x2="2556.7" y2="159.4" stroke-width="5.84"/><line x1="887.5" y1="-514.9" x2="2544.4" y2="188.4" stroke-width="4.80"/><line x1="872.6" y1="-479.8" x2="2529.5" y2="223.5" stroke-width="4.80"/><line x1="855.2" y1="-438.9" x2="2512.1" y2="264.4" stroke-width="4.80"/><line x1="838.3" y1="-398.9" x2="2495.2" y2="304.4" stroke-width="5.84"/><line x1="828.8" y1="-376.5" x2="2485.7" y2="326.8" stroke-width="5.32"/><line x1="818.6" y1="-352.7" x2="2475.6" y2="350.6" stroke-width="4.28"/><line x1="811.2" y1="-335.1" x2="2468.1" y2="368.3" stroke-width="5.32"/><line x1="798.7" y1="-305.8" x2="2455.7" y2="397.5" stroke-width="5.84"/><line x1="781.9" y1="-266.2" x2="2438.9" y2="437.1" stroke-width="4.28"/><line x1="763.6" y1="-223.0" x2="2420.5" y2="480.3" stroke-width="5.32"/><line x1="755.8" y1="-204.6" x2="2412.7" y2="498.7" stroke-width="5.32"/><line x1="739.3" y1="-165.7" x2="2396.2" y2="537.6" stroke-width="5.84"/><line x1="724.6" y1="-131.2" x2="2381.5" y2="572.2" stroke-width="4.28"/><line x1="705.9" y1="-87.0" x2="2362.8" y2="616.3" stroke-width="5.32"/><line x1="692.6" y1="-55.8" x2="2349.5" y2="647.6" stroke-width="4.28"/><line x1="677.5" y1="-20.3" x2="2334.5" y2="683.0" stroke-width="5.84"/><line x1="670.0" y1="-2.4" x2="2326.9" y2="700.9" stroke-width="5.32"/><line x1="652.9" y1="37.8" x2="2309.8" y2="741.2" stroke-width="4.28"/><line x1="635.9" y1="77.8" x2="2292.8" y2="781.1" stroke-width="4.28"/><line x1="623.2" y1="107.8" x2="2280.1" y2="811.1" stroke-width="5.84"/><line x1="607.2" y1="145.5" x2="2264.1" y2="848.9" stroke-width="4.80"/><line x1="594.1" y1="176.4" x2="2251.0" y2="879.7" stroke-width="4.28"/><line x1="578.8" y1="212.4" x2="2235.7" y2="915.7" stroke-width="4.80"/><line x1="561.1" y1="254.0" x2="2218.1" y2="957.3" stroke-width="5.84"/><line x1="552.9" y1="273.3" x2="2209.9" y2="976.6" stroke-width="4.28"/><line x1="543.1" y1="296.4" x2="2200.1" y2="999.7" stroke-width="5.32"/><line x1="526.8" y1="334.8" x2="2183.7" y2="1038.1" stroke-width="5.32"/><line x1="507.7" y1="379.9" x2="2164.6" y2="1083.2" stroke-width="5.84"/><line x1="498.9" y1="400.6" x2="2155.8" y2="1103.9" stroke-width="4.80"/><line x1="484.9" y1="433.5" x2="2141.8" y2="1136.8" stroke-width="4.80"/><line x1="475.2" y1="456.4" x2="2132.1" y2="1159.7" stroke-width="4.28"/><line x1="457.3" y1="498.6" x2="2114.2" y2="1201.9" stroke-width="5.84"/><line x1="446.5" y1="524.0" x2="2103.4" y2="1227.4" stroke-width="4.80"/><line x1="433.2" y1="555.4" x2="2090.1" y2="1258.7" stroke-width="4.80"/><line x1="414.0" y1="600.6" x2="2070.9" y2="1303.9" stroke-width="4.80"/><line x1="403.5" y1="625.3" x2="2060.4" y2="1328.6" stroke-width="5.84"/><line x1="394.3" y1="647.0" x2="2051.2" y2="1350.3" stroke-width="5.32"/><line x1="375.1" y1="692.2" x2="2032.0" y2="1395.5" stroke-width="4.80"/><line x1="367.8" y1="709.5" x2="2024.7" y2="1412.8" stroke-width="4.28"/><line x1="353.9" y1="742.2" x2="2010.8" y2="1445.5" stroke-width="5.84"/><line x1="340.4" y1="774.1" x2="1997.3" y2="1477.4" stroke-width="5.32"/><line x1="325.8" y1="808.5" x2="1982.7" y2="1511.8" stroke-width="5.32"/><line x1="306.7" y1="853.3" x2="1963.6" y2="1556.6" stroke-width="4.28"/><line x1="297.3" y1="875.6" x2="1954.2" y2="1578.9" stroke-width="5.84"/><line x1="282.5" y1="910.5" x2="1939.4" y2="1613.8" stroke-width="4.80"/><line x1="1766.5" y1="-605.4" x2="2498.6" y2="1038.9" stroke-width="4.54"/><line x1="1676.5" y1="-565.4" x2="2408.6" y2="1079.0" stroke-width="4.54"/><line x1="1634.4" y1="-546.6" x2="2366.6" y2="1097.7" stroke-width="4.54"/><line x1="1570.1" y1="-518.0" x2="2302.2" y2="1126.4" stroke-width="4.54"/><line x1="1521.8" y1="-496.5" x2="2254.0" y2="1147.9" stroke-width="4.54"/><line x1="1466.1" y1="-471.7" x2="2198.2" y2="1172.7" stroke-width="4.54"/><line x1="1412.9" y1="-448.0" x2="2145.0" y2="1196.4" stroke-width="4.54"/><line x1="1322.3" y1="-407.7" x2="2054.4" y2="1236.7" stroke-width="4.54"/><line x1="1276.5" y1="-387.3" x2="2008.6" y2="1257.1" stroke-width="4.54"/><line x1="1212.3" y1="-358.7" x2="1944.4" y2="1285.7" stroke-width="4.54"/><line x1="1151.5" y1="-331.6" x2="1883.6" y2="1312.7" stroke-width="4.54"/><line x1="1099.1" y1="-308.3" x2="1831.3" y2="1336.1" stroke-width="4.54"/><line x1="1025.7" y1="-275.6" x2="1757.9" y2="1368.7" stroke-width="4.54"/><line x1="950.6" y1="-242.2" x2="1682.7" y2="1402.2" stroke-width="4.54"/><line x1="878.5" y1="-210.1" x2="1610.6" y2="1434.3" stroke-width="4.54"/><line x1="784.3" y1="-168.1" x2="1516.4" y2="1476.2" stroke-width="4.54"/><line x1="707.0" y1="-133.7" x2="1439.1" y2="1510.7" stroke-width="4.54"/><line x1="634.5" y1="-101.4" x2="1366.6" y2="1543.0" stroke-width="4.54"/><line x1="583.6" y1="-78.8" x2="1315.7" y2="1565.6" stroke-width="4.54"/><line x1="510.1" y1="-46.1" x2="1242.3" y2="1598.3" stroke-width="4.54"/><line x1="432.0" y1="-11.3" x2="1164.1" y2="1633.1" stroke-width="4.54"/><line x1="380.9" y1="11.5" x2="1113.0" y2="1655.9" stroke-width="4.54"/></g><g stroke="#fdfdfd"><line x1="899.8" y1="-543.9" x2="2556.7" y2="159.4" stroke-width="3.64"/><line x1="887.5" y1="-514.9" x2="2544.4" y2="188.4" stroke-width="2.60"/><line x1="872.6" y1="-479.8" x2="2529.5" y2="223.5" stroke-width="2.60"/><line x1="855.2" y1="-438.9" x2="2512.1" y2="264.4" stroke-width="2.60"/><line x1="838.3" y1="-398.9" x2="2495.2" y2="304.4" stroke-width="3.64"/><line x1="828.8" y1="-376.5" x2="2485.7" y2="326.8" stroke-width="3.12"/><line x1="818.6" y1="-352.7" x2="2475.6" y2="350.6" stroke-width="2.08"/><line x1="811.2" y1="-335.1" x2="2468.1" y2="368.3" stroke-width="3.12"/><line x1="798.7" y1="-305.8" x2="2455.7" y2="397.5" stroke-width="3.64"/><line x1="781.9" y1="-266.2" x2="2438.9" y2="437.1" stroke-width="2.08"/><line x1="763.6" y1="-223.0" x2="2420.5" y2="480.3" stroke-width="3.12"/><line x1="755.8" y1="-204.6" x2="2412.7" y2="498.7" stroke-width="3.12"/><line x1="739.3" y1="-165.7" x2="2396.2" y2="537.6" stroke-width="3.64"/><line x1="724.6" y1="-131.2" x2="2381.5" y2="572.2" stroke-width="2.08"/><line x1="705.9" y1="-87.0" x2="2362.8" y2="616.3" stroke-width="3.12"/><line x1="692.6" y1="-55.8" x2="2349.5" y2="647.6" stroke-width="2.08"/><line x1="677.5" y1="-20.3" x2="2334.5" y2="683.0" stroke-width="3.64"/><line x1="670.0" y1="-2.4" x2="2326.9" y2="700.9" stroke-width="3.12"/><line x1="652.9" y1="37.8" x2="2309.8" y2="741.2" stroke-width="2.08"/><line x1="635.9" y1="77.8" x2="2292.8" y2="781.1" stroke-width="2.08"/><line x1="623.2" y1="107.8" x2="2280.1" y2="811.1" stroke-width="3.64"/><line x1="607.2" y1="145.5" x2="2264.1" y2="848.9" stroke-width="2.60"/><line x1="594.1" y1="176.4" x2="2251.0" y2="879.7" stroke-width="2.08"/><line x1="578.8" y1="212.4" x2="2235.7" y2="915.7" stroke-width="2.60"/><line x1="561.1" y1="254.0" x2="2218.1" y2="957.3" stroke-width="3.64"/><line x1="552.9" y1="273.3" x2="2209.9" y2="976.6" stroke-width="2.08"/><line x1="543.1" y1="296.4" x2="2200.1" y2="999.7" stroke-width="3.12"/><line x1="526.8" y1="334.8" x2="2183.7" y2="1038.1" stroke-width="3.12"/><line x1="507.7" y1="379.9" x2="2164.6" y2="1083.2" stroke-width="3.64"/><line x1="498.9" y1="400.6" x2="2155.8" y2="1103.9" stroke-width="2.60"/><line x1="484.9" y1="433.5" x2="2141.8" y2="1136.8" stroke-width="2.60"/><line x1="475.2" y1="456.4" x2="2132.1" y2="1159.7" stroke-width="2.08"/><line x1="457.3" y1="498.6" x2="2114.2" y2="1201.9" stroke-width="3.64"/><line x1="446.5" y1="524.0" x2="2103.4" y2="1227.4" stroke-width="2.60"/><line x1="433.2" y1="555.4" x2="2090.1" y2="1258.7" stroke-width="2.60"/><line x1="414.0" y1="600.6" x2="2070.9" y2="1303.9" stroke-width="2.60"/><line x1="403.5" y1="625.3" x2="2060.4" y2="1328.6" stroke-width="3.64"/><line x1="394.3" y1="647.0" x2="2051.2" y2="1350.3" stroke-width="3.12"/><line x1="375.1" y1="692.2" x2="2032.0" y2="1395.5" stroke-width="2.60"/><line x1="367.8" y1="709.5" x2="2024.7" y2="1412.8" stroke-width="2.08"/><line x1="353.9" y1="742.2" x2="2010.8" y2="1445.5" stroke-width="3.64"/><line x1="340.4" y1="774.1" x2="1997.3" y2="1477.4" stroke-width="3.12"/><line x1="325.8" y1="808.5" x2="1982.7" y2="1511.8" stroke-width="3.12"/><line x1="306.7" y1="853.3" x2="1963.6" y2="1556.6" stroke-width="2.08"/><line x1="297.3" y1="875.6" x2="1954.2" y2="1578.9" stroke-width="3.64"/><line x1="282.5" y1="910.5" x2="1939.4" y2="1613.8" stroke-width="2.60"/><line x1="1766.5" y1="-605.4" x2="2498.6" y2="1038.9" stroke-width="2.34"/><line x1="1676.5" y1="-565.4" x2="2408.6" y2="1079.0" stroke-width="2.34"/><line x1="1634.4" y1="-546.6" x2="2366.6" y2="1097.7" stroke-width="2.34"/><line x1="1570.1" y1="-518.0" x2="2302.2" y2="1126.4" stroke-width="2.34"/><line x1="1521.8" y1="-496.5" x2="2254.0" y2="1147.9" stroke-width="2.34"/><line x1="1466.1" y1="-471.7" x2="2198.2" y2="1172.7" stroke-width="2.34"/><line x1="1412.9" y1="-448.0" x2="2145.0" y2="1196.4" stroke-width="2.34"/><line x1="1322.3" y1="-407.7" x2="2054.4" y2="1236.7" stroke-width="2.34"/><line x1="1276.5" y1="-387.3" x2="2008.6" y2="1257.1" stroke-width="2.34"/><line x1="1212.3" y1="-358.7" x2="1944.4" y2="1285.7" stroke-width="2.34"/><line x1="1151.5" y1="-331.6" x2="1883.6" y2="1312.7" stroke-width="2.34"/><line x1="1099.1" y1="-308.3" x2="1831.3" y2="1336.1" stroke-width="2.34"/><line x1="1025.7" y1="-275.6" x2="1757.9" y2="1368.7" stroke-width="2.34"/><line x1="950.6" y1="-242.2" x2="1682.7" y2="1402.2" stroke-width="2.34"/><line x1="878.5" y1="-210.1" x2="1610.6" y2="1434.3" stroke-width="2.34"/><line x1="784.3" y1="-168.1" x2="1516.4" y2="1476.2" stroke-width="2.34"/><line x1="707.0" y1="-133.7" x2="1439.1" y2="1510.7" stroke-width="2.34"/><line x1="634.5" y1="-101.4" x2="1366.6" y2="1543.0" stroke-width="2.34"/><line x1="583.6" y1="-78.8" x2="1315.7" y2="1565.6" stroke-width="2.34"/><line x1="510.1" y1="-46.1" x2="1242.3" y2="1598.3" stroke-width="2.34"/><line x1="432.0" y1="-11.3" x2="1164.1" y2="1633.1" stroke-width="2.34"/><line x1="380.9" y1="11.5" x2="1113.0" y2="1655.9" stroke-width="2.34"/></g></g></g>
<clipPath id="band3"><rect x="1026" y="105" width="791" height="230"/></clipPath>
<g clip-path="url(#nj)"><g clip-path="url(#band3)"><g stroke="#e4e4e3"><line x1="1000.9" y1="-594.9" x2="2590.2" y2="250.2" stroke-width="5.84"/><line x1="992.1" y1="-578.3" x2="2581.4" y2="266.7" stroke-width="4.28"/><line x1="980.7" y1="-556.8" x2="2570.0" y2="288.2" stroke-width="4.28"/><line x1="967.7" y1="-532.4" x2="2557.0" y2="312.7" stroke-width="4.28"/><line x1="960.0" y1="-518.0" x2="2549.3" y2="327.1" stroke-width="5.84"/><line x1="947.9" y1="-495.2" x2="2537.2" y2="349.8" stroke-width="4.28"/><line x1="938.1" y1="-476.7" x2="2527.4" y2="368.3" stroke-width="4.28"/><line x1="924.2" y1="-450.6" x2="2513.5" y2="394.5" stroke-width="4.28"/><line x1="916.9" y1="-436.8" x2="2506.2" y2="408.2" stroke-width="5.84"/><line x1="904.2" y1="-413.0" x2="2493.5" y2="432.1" stroke-width="4.80"/><line x1="890.6" y1="-387.4" x2="2479.9" y2="457.6" stroke-width="4.80"/><line x1="881.3" y1="-370.0" x2="2470.6" y2="475.1" stroke-width="4.28"/><line x1="871.1" y1="-350.7" x2="2460.4" y2="494.3" stroke-width="5.84"/><line x1="859.5" y1="-329.0" x2="2448.8" y2="516.1" stroke-width="4.80"/><line x1="848.2" y1="-307.7" x2="2437.5" y2="537.4" stroke-width="4.28"/><line x1="839.0" y1="-290.3" x2="2428.3" y2="554.7" stroke-width="4.80"/><line x1="827.3" y1="-268.3" x2="2416.6" y2="576.7" stroke-width="5.84"/><line x1="817.4" y1="-249.7" x2="2406.7" y2="595.4" stroke-width="4.80"/><line x1="806.8" y1="-229.8" x2="2396.1" y2="615.3" stroke-width="4.80"/><line x1="798.6" y1="-214.4" x2="2387.9" y2="630.7" stroke-width="4.80"/><line x1="790.1" y1="-198.3" x2="2379.4" y2="646.7" stroke-width="5.84"/><line x1="781.5" y1="-182.1" x2="2370.8" y2="662.9" stroke-width="4.80"/><line x1="771.9" y1="-164.1" x2="2361.2" y2="680.9" stroke-width="4.28"/><line x1="761.0" y1="-143.7" x2="2350.3" y2="701.4" stroke-width="4.28"/><line x1="750.2" y1="-123.3" x2="2339.5" y2="721.7" stroke-width="5.84"/><line x1="738.4" y1="-101.2" x2="2327.7" y2="743.9" stroke-width="4.28"/><line x1="731.2" y1="-87.6" x2="2320.5" y2="757.5" stroke-width="4.80"/><line x1="721.6" y1="-69.6" x2="2310.9" y2="775.4" stroke-width="4.80"/><line x1="708.2" y1="-44.3" x2="2297.5" y2="800.7" stroke-width="5.84"/><line x1="699.8" y1="-28.6" x2="2289.1" y2="816.4" stroke-width="4.80"/><line x1="687.3" y1="-5.0" x2="2276.6" y2="840.0" stroke-width="4.80"/><line x1="676.0" y1="16.3" x2="2265.3" y2="861.3" stroke-width="4.28"/><line x1="664.0" y1="38.9" x2="2253.3" y2="883.9" stroke-width="5.84"/><line x1="650.8" y1="63.5" x2="2240.1" y2="908.6" stroke-width="4.80"/><line x1="642.7" y1="78.9" x2="2232.0" y2="924.0" stroke-width="4.80"/><line x1="632.2" y1="98.6" x2="2221.5" y2="943.7" stroke-width="4.28"/><line x1="618.9" y1="123.5" x2="2208.3" y2="968.6" stroke-width="5.84"/><line x1="607.0" y1="146.0" x2="2196.3" y2="991.0" stroke-width="4.28"/><line x1="594.1" y1="170.3" x2="2183.4" y2="1015.4" stroke-width="4.28"/><line x1="583.2" y1="190.8" x2="2172.5" y2="1035.9" stroke-width="4.28"/><line x1="573.8" y1="208.3" x2="2163.1" y2="1053.4" stroke-width="5.84"/><line x1="565.8" y1="223.5" x2="2155.1" y2="1068.5" stroke-width="4.28"/><line x1="557.9" y1="238.3" x2="2147.2" y2="1083.4" stroke-width="4.28"/><line x1="544.7" y1="263.2" x2="2134.0" y2="1108.2" stroke-width="4.28"/><line x1="537.5" y1="276.8" x2="2126.8" y2="1121.8" stroke-width="5.84"/><line x1="523.7" y1="302.6" x2="2113.0" y2="1147.6" stroke-width="4.80"/><line x1="512.4" y1="324.0" x2="2101.7" y2="1169.0" stroke-width="4.28"/><line x1="504.7" y1="338.3" x2="2094.0" y2="1183.4" stroke-width="4.80"/><line x1="497.1" y1="352.6" x2="2086.4" y2="1197.7" stroke-width="5.84"/><line x1="483.9" y1="377.6" x2="2073.2" y2="1222.6" stroke-width="4.28"/><line x1="470.4" y1="402.9" x2="2059.7" y2="1248.0" stroke-width="4.80"/><line x1="457.5" y1="427.2" x2="2046.8" y2="1272.2" stroke-width="4.28"/><line x1="450.7" y1="439.9" x2="2040.0" y2="1284.9" stroke-width="5.84"/><line x1="442.9" y1="454.6" x2="2032.2" y2="1299.6" stroke-width="4.80"/><line x1="434.6" y1="470.2" x2="2023.9" y2="1315.3" stroke-width="4.28"/><line x1="425.7" y1="486.9" x2="2015.0" y2="1332.0" stroke-width="4.28"/><line x1="416.3" y1="504.6" x2="2005.6" y2="1349.7" stroke-width="5.84"/><line x1="404.2" y1="527.3" x2="1993.5" y2="1372.4" stroke-width="4.80"/><line x1="394.5" y1="545.7" x2="1983.8" y2="1390.8" stroke-width="4.28"/><line x1="385.9" y1="561.9" x2="1975.2" y2="1406.9" stroke-width="4.28"/><line x1="376.6" y1="579.3" x2="1965.9" y2="1424.4" stroke-width="5.84"/><line x1="365.6" y1="600.0" x2="1954.9" y2="1445.1" stroke-width="4.80"/><line x1="357.4" y1="615.4" x2="1946.7" y2="1460.5" stroke-width="4.80"/><line x1="347.6" y1="633.8" x2="1936.9" y2="1478.9" stroke-width="4.80"/><line x1="338.0" y1="651.8" x2="1927.3" y2="1496.9" stroke-width="5.84"/><line x1="330.8" y1="665.4" x2="1920.1" y2="1510.5" stroke-width="4.28"/><line x1="319.8" y1="686.2" x2="1909.1" y2="1531.2" stroke-width="4.28"/><line x1="308.3" y1="707.7" x2="1897.6" y2="1552.7" stroke-width="4.80"/><line x1="300.2" y1="722.9" x2="1889.5" y2="1568.0" stroke-width="5.84"/><line x1="286.4" y1="749.0" x2="1875.7" y2="1594.1" stroke-width="4.80"/><line x1="277.2" y1="766.2" x2="1866.5" y2="1611.2" stroke-width="4.80"/><line x1="266.7" y1="786.0" x2="1856.0" y2="1631.0" stroke-width="4.28"/><line x1="258.9" y1="800.6" x2="1848.2" y2="1645.7" stroke-width="5.84"/><line x1="251.4" y1="814.8" x2="1840.7" y2="1659.8" stroke-width="4.28"/><line x1="295.5" y1="955.4" x2="1140.6" y2="-633.9" stroke-width="5.84"/><line x1="318.4" y1="967.6" x2="1163.5" y2="-621.7" stroke-width="4.28"/><line x1="336.2" y1="977.1" x2="1181.3" y2="-612.2" stroke-width="4.80"/><line x1="354.3" y1="986.7" x2="1199.4" y2="-602.6" stroke-width="5.84"/><line x1="377.9" y1="999.2" x2="1222.9" y2="-590.1" stroke-width="4.80"/><line x1="398.6" y1="1010.2" x2="1243.6" y2="-579.1" stroke-width="4.80"/><line x1="418.2" y1="1020.6" x2="1263.2" y2="-568.7" stroke-width="5.84"/><line x1="435.9" y1="1030.0" x2="1280.9" y2="-559.3" stroke-width="4.80"/><line x1="454.9" y1="1040.2" x2="1300.0" y2="-549.1" stroke-width="4.80"/><line x1="474.1" y1="1050.4" x2="1319.1" y2="-539.0" stroke-width="5.84"/><line x1="490.2" y1="1058.9" x2="1335.3" y2="-530.4" stroke-width="4.80"/><line x1="506.5" y1="1067.6" x2="1351.5" y2="-521.7" stroke-width="4.28"/><line x1="522.1" y1="1075.9" x2="1367.1" y2="-513.4" stroke-width="5.84"/><line x1="536.2" y1="1083.4" x2="1381.3" y2="-505.9" stroke-width="4.80"/><line x1="553.0" y1="1092.3" x2="1398.1" y2="-497.0" stroke-width="4.80"/><line x1="572.8" y1="1102.9" x2="1417.9" y2="-486.5" stroke-width="5.84"/><line x1="599.9" y1="1117.2" x2="1444.9" y2="-472.1" stroke-width="4.28"/><line x1="626.6" y1="1131.5" x2="1471.6" y2="-457.9" stroke-width="4.28"/><line x1="649.0" y1="1143.3" x2="1494.0" y2="-446.0" stroke-width="5.84"/><line x1="665.4" y1="1152.1" x2="1510.5" y2="-437.2" stroke-width="4.28"/><line x1="690.3" y1="1165.3" x2="1535.3" y2="-424.0" stroke-width="4.80"/><line x1="711.7" y1="1176.7" x2="1556.7" y2="-412.6" stroke-width="5.84"/><line x1="729.5" y1="1186.1" x2="1574.5" y2="-403.2" stroke-width="4.28"/><line x1="750.4" y1="1197.3" x2="1595.5" y2="-392.0" stroke-width="4.80"/><line x1="771.6" y1="1208.6" x2="1616.7" y2="-380.7" stroke-width="5.84"/><line x1="787.2" y1="1216.8" x2="1632.2" y2="-372.5" stroke-width="4.28"/><line x1="805.1" y1="1226.4" x2="1650.1" y2="-362.9" stroke-width="4.28"/><line x1="819.3" y1="1233.9" x2="1664.3" y2="-355.4" stroke-width="5.84"/><line x1="834.8" y1="1242.1" x2="1679.8" y2="-347.2" stroke-width="4.28"/><line x1="854.8" y1="1252.8" x2="1699.9" y2="-336.5" stroke-width="4.28"/><line x1="876.5" y1="1264.4" x2="1721.6" y2="-325.0" stroke-width="5.84"/><line x1="894.9" y1="1274.1" x2="1740.0" y2="-315.2" stroke-width="4.80"/><line x1="915.2" y1="1284.9" x2="1760.2" y2="-304.4" stroke-width="4.28"/><line x1="932.7" y1="1294.2" x2="1777.8" y2="-295.1" stroke-width="5.84"/><line x1="950.0" y1="1303.4" x2="1795.1" y2="-285.9" stroke-width="4.80"/><line x1="964.8" y1="1311.3" x2="1809.8" y2="-278.0" stroke-width="4.28"/><line x1="985.8" y1="1322.4" x2="1830.9" y2="-266.9" stroke-width="5.84"/><line x1="1008.1" y1="1334.3" x2="1853.1" y2="-255.0" stroke-width="4.28"/><line x1="1034.1" y1="1348.1" x2="1879.1" y2="-241.2" stroke-width="4.80"/><line x1="1061.9" y1="1362.9" x2="1906.9" y2="-226.4" stroke-width="5.84"/><line x1="1075.9" y1="1370.4" x2="1921.0" y2="-218.9" stroke-width="4.80"/><line x1="1103.6" y1="1385.1" x2="1948.7" y2="-204.2" stroke-width="4.80"/><line x1="1122.7" y1="1395.2" x2="1967.7" y2="-194.1" stroke-width="5.84"/><line x1="1137.1" y1="1402.9" x2="1982.1" y2="-186.4" stroke-width="4.80"/><line x1="1162.7" y1="1416.5" x2="2007.8" y2="-172.8" stroke-width="4.28"/><line x1="1182.2" y1="1426.9" x2="2027.3" y2="-162.4" stroke-width="5.84"/><line x1="1198.9" y1="1435.7" x2="2043.9" y2="-153.6" stroke-width="4.28"/><line x1="1227.2" y1="1450.8" x2="2072.3" y2="-138.5" stroke-width="4.80"/><line x1="1248.7" y1="1462.2" x2="2093.8" y2="-127.1" stroke-width="5.84"/><line x1="1277.2" y1="1477.4" x2="2122.2" y2="-111.9" stroke-width="4.28"/><line x1="1291.5" y1="1485.0" x2="2136.5" y2="-104.3" stroke-width="4.28"/><line x1="1316.7" y1="1498.4" x2="2161.8" y2="-90.9" stroke-width="5.84"/><line x1="1333.9" y1="1507.5" x2="2179.0" y2="-81.8" stroke-width="4.80"/><line x1="1350.4" y1="1516.3" x2="2195.5" y2="-73.0" stroke-width="4.28"/><line x1="1373.1" y1="1528.4" x2="2218.2" y2="-60.9" stroke-width="5.84"/><line x1="1391.2" y1="1538.0" x2="2236.3" y2="-51.3" stroke-width="4.80"/><line x1="1405.5" y1="1545.6" x2="2250.5" y2="-43.7" stroke-width="4.28"/><line x1="1426.8" y1="1556.9" x2="2271.8" y2="-32.4" stroke-width="5.84"/><line x1="1446.0" y1="1567.1" x2="2291.0" y2="-22.2" stroke-width="4.80"/><line x1="1463.4" y1="1576.4" x2="2308.5" y2="-12.9" stroke-width="4.80"/><line x1="1485.3" y1="1588.0" x2="2330.3" y2="-1.3" stroke-width="5.84"/><line x1="1506.3" y1="1599.2" x2="2351.3" y2="9.9" stroke-width="4.28"/><line x1="1523.7" y1="1608.5" x2="2368.8" y2="19.2" stroke-width="4.80"/><line x1="1544.5" y1="1619.5" x2="2389.5" y2="30.2" stroke-width="5.84"/><line x1="1559.6" y1="1627.5" x2="2404.6" y2="38.2" stroke-width="4.28"/><line x1="1575.3" y1="1635.9" x2="2420.3" y2="46.6" stroke-width="4.28"/><line x1="1599.3" y1="1648.7" x2="2444.4" y2="59.3" stroke-width="5.84"/><line x1="1616.2" y1="1657.6" x2="2461.3" y2="68.3" stroke-width="4.80"/><line x1="1636.6" y1="1668.5" x2="2481.7" y2="79.2" stroke-width="4.80"/><line x1="1651.2" y1="1676.2" x2="2496.2" y2="86.9" stroke-width="5.84"/><line x1="1668.7" y1="1685.6" x2="2513.8" y2="96.3" stroke-width="4.80"/><line x1="1690.5" y1="1697.2" x2="2535.6" y2="107.9" stroke-width="4.80"/></g><g stroke="#fdfdfd"><line x1="1000.9" y1="-594.9" x2="2590.2" y2="250.2" stroke-width="3.64"/><line x1="992.1" y1="-578.3" x2="2581.4" y2="266.7" stroke-width="2.08"/><line x1="980.7" y1="-556.8" x2="2570.0" y2="288.2" stroke-width="2.08"/><line x1="967.7" y1="-532.4" x2="2557.0" y2="312.7" stroke-width="2.08"/><line x1="960.0" y1="-518.0" x2="2549.3" y2="327.1" stroke-width="3.64"/><line x1="947.9" y1="-495.2" x2="2537.2" y2="349.8" stroke-width="2.08"/><line x1="938.1" y1="-476.7" x2="2527.4" y2="368.3" stroke-width="2.08"/><line x1="924.2" y1="-450.6" x2="2513.5" y2="394.5" stroke-width="2.08"/><line x1="916.9" y1="-436.8" x2="2506.2" y2="408.2" stroke-width="3.64"/><line x1="904.2" y1="-413.0" x2="2493.5" y2="432.1" stroke-width="2.60"/><line x1="890.6" y1="-387.4" x2="2479.9" y2="457.6" stroke-width="2.60"/><line x1="881.3" y1="-370.0" x2="2470.6" y2="475.1" stroke-width="2.08"/><line x1="871.1" y1="-350.7" x2="2460.4" y2="494.3" stroke-width="3.64"/><line x1="859.5" y1="-329.0" x2="2448.8" y2="516.1" stroke-width="2.60"/><line x1="848.2" y1="-307.7" x2="2437.5" y2="537.4" stroke-width="2.08"/><line x1="839.0" y1="-290.3" x2="2428.3" y2="554.7" stroke-width="2.60"/><line x1="827.3" y1="-268.3" x2="2416.6" y2="576.7" stroke-width="3.64"/><line x1="817.4" y1="-249.7" x2="2406.7" y2="595.4" stroke-width="2.60"/><line x1="806.8" y1="-229.8" x2="2396.1" y2="615.3" stroke-width="2.60"/><line x1="798.6" y1="-214.4" x2="2387.9" y2="630.7" stroke-width="2.60"/><line x1="790.1" y1="-198.3" x2="2379.4" y2="646.7" stroke-width="3.64"/><line x1="781.5" y1="-182.1" x2="2370.8" y2="662.9" stroke-width="2.60"/><line x1="771.9" y1="-164.1" x2="2361.2" y2="680.9" stroke-width="2.08"/><line x1="761.0" y1="-143.7" x2="2350.3" y2="701.4" stroke-width="2.08"/><line x1="750.2" y1="-123.3" x2="2339.5" y2="721.7" stroke-width="3.64"/><line x1="738.4" y1="-101.2" x2="2327.7" y2="743.9" stroke-width="2.08"/><line x1="731.2" y1="-87.6" x2="2320.5" y2="757.5" stroke-width="2.60"/><line x1="721.6" y1="-69.6" x2="2310.9" y2="775.4" stroke-width="2.60"/><line x1="708.2" y1="-44.3" x2="2297.5" y2="800.7" stroke-width="3.64"/><line x1="699.8" y1="-28.6" x2="2289.1" y2="816.4" stroke-width="2.60"/><line x1="687.3" y1="-5.0" x2="2276.6" y2="840.0" stroke-width="2.60"/><line x1="676.0" y1="16.3" x2="2265.3" y2="861.3" stroke-width="2.08"/><line x1="664.0" y1="38.9" x2="2253.3" y2="883.9" stroke-width="3.64"/><line x1="650.8" y1="63.5" x2="2240.1" y2="908.6" stroke-width="2.60"/><line x1="642.7" y1="78.9" x2="2232.0" y2="924.0" stroke-width="2.60"/><line x1="632.2" y1="98.6" x2="2221.5" y2="943.7" stroke-width="2.08"/><line x1="618.9" y1="123.5" x2="2208.3" y2="968.6" stroke-width="3.64"/><line x1="607.0" y1="146.0" x2="2196.3" y2="991.0" stroke-width="2.08"/><line x1="594.1" y1="170.3" x2="2183.4" y2="1015.4" stroke-width="2.08"/><line x1="583.2" y1="190.8" x2="2172.5" y2="1035.9" stroke-width="2.08"/><line x1="573.8" y1="208.3" x2="2163.1" y2="1053.4" stroke-width="3.64"/><line x1="565.8" y1="223.5" x2="2155.1" y2="1068.5" stroke-width="2.08"/><line x1="557.9" y1="238.3" x2="2147.2" y2="1083.4" stroke-width="2.08"/><line x1="544.7" y1="263.2" x2="2134.0" y2="1108.2" stroke-width="2.08"/><line x1="537.5" y1="276.8" x2="2126.8" y2="1121.8" stroke-width="3.64"/><line x1="523.7" y1="302.6" x2="2113.0" y2="1147.6" stroke-width="2.60"/><line x1="512.4" y1="324.0" x2="2101.7" y2="1169.0" stroke-width="2.08"/><line x1="504.7" y1="338.3" x2="2094.0" y2="1183.4" stroke-width="2.60"/><line x1="497.1" y1="352.6" x2="2086.4" y2="1197.7" stroke-width="3.64"/><line x1="483.9" y1="377.6" x2="2073.2" y2="1222.6" stroke-width="2.08"/><line x1="470.4" y1="402.9" x2="2059.7" y2="1248.0" stroke-width="2.60"/><line x1="457.5" y1="427.2" x2="2046.8" y2="1272.2" stroke-width="2.08"/><line x1="450.7" y1="439.9" x2="2040.0" y2="1284.9" stroke-width="3.64"/><line x1="442.9" y1="454.6" x2="2032.2" y2="1299.6" stroke-width="2.60"/><line x1="434.6" y1="470.2" x2="2023.9" y2="1315.3" stroke-width="2.08"/><line x1="425.7" y1="486.9" x2="2015.0" y2="1332.0" stroke-width="2.08"/><line x1="416.3" y1="504.6" x2="2005.6" y2="1349.7" stroke-width="3.64"/><line x1="404.2" y1="527.3" x2="1993.5" y2="1372.4" stroke-width="2.60"/><line x1="394.5" y1="545.7" x2="1983.8" y2="1390.8" stroke-width="2.08"/><line x1="385.9" y1="561.9" x2="1975.2" y2="1406.9" stroke-width="2.08"/><line x1="376.6" y1="579.3" x2="1965.9" y2="1424.4" stroke-width="3.64"/><line x1="365.6" y1="600.0" x2="1954.9" y2="1445.1" stroke-width="2.60"/><line x1="357.4" y1="615.4" x2="1946.7" y2="1460.5" stroke-width="2.60"/><line x1="347.6" y1="633.8" x2="1936.9" y2="1478.9" stroke-width="2.60"/><line x1="338.0" y1="651.8" x2="1927.3" y2="1496.9" stroke-width="3.64"/><line x1="330.8" y1="665.4" x2="1920.1" y2="1510.5" stroke-width="2.08"/><line x1="319.8" y1="686.2" x2="1909.1" y2="1531.2" stroke-width="2.08"/><line x1="308.3" y1="707.7" x2="1897.6" y2="1552.7" stroke-width="2.60"/><line x1="300.2" y1="722.9" x2="1889.5" y2="1568.0" stroke-width="3.64"/><line x1="286.4" y1="749.0" x2="1875.7" y2="1594.1" stroke-width="2.60"/><line x1="277.2" y1="766.2" x2="1866.5" y2="1611.2" stroke-width="2.60"/><line x1="266.7" y1="786.0" x2="1856.0" y2="1631.0" stroke-width="2.08"/><line x1="258.9" y1="800.6" x2="1848.2" y2="1645.7" stroke-width="3.64"/><line x1="251.4" y1="814.8" x2="1840.7" y2="1659.8" stroke-width="2.08"/><line x1="295.5" y1="955.4" x2="1140.6" y2="-633.9" stroke-width="3.64"/><line x1="318.4" y1="967.6" x2="1163.5" y2="-621.7" stroke-width="2.08"/><line x1="336.2" y1="977.1" x2="1181.3" y2="-612.2" stroke-width="2.60"/><line x1="354.3" y1="986.7" x2="1199.4" y2="-602.6" stroke-width="3.64"/><line x1="377.9" y1="999.2" x2="1222.9" y2="-590.1" stroke-width="2.60"/><line x1="398.6" y1="1010.2" x2="1243.6" y2="-579.1" stroke-width="2.60"/><line x1="418.2" y1="1020.6" x2="1263.2" y2="-568.7" stroke-width="3.64"/><line x1="435.9" y1="1030.0" x2="1280.9" y2="-559.3" stroke-width="2.60"/><line x1="454.9" y1="1040.2" x2="1300.0" y2="-549.1" stroke-width="2.60"/><line x1="474.1" y1="1050.4" x2="1319.1" y2="-539.0" stroke-width="3.64"/><line x1="490.2" y1="1058.9" x2="1335.3" y2="-530.4" stroke-width="2.60"/><line x1="506.5" y1="1067.6" x2="1351.5" y2="-521.7" stroke-width="2.08"/><line x1="522.1" y1="1075.9" x2="1367.1" y2="-513.4" stroke-width="3.64"/><line x1="536.2" y1="1083.4" x2="1381.3" y2="-505.9" stroke-width="2.60"/><line x1="553.0" y1="1092.3" x2="1398.1" y2="-497.0" stroke-width="2.60"/><line x1="572.8" y1="1102.9" x2="1417.9" y2="-486.5" stroke-width="3.64"/><line x1="599.9" y1="1117.2" x2="1444.9" y2="-472.1" stroke-width="2.08"/><line x1="626.6" y1="1131.5" x2="1471.6" y2="-457.9" stroke-width="2.08"/><line x1="649.0" y1="1143.3" x2="1494.0" y2="-446.0" stroke-width="3.64"/><line x1="665.4" y1="1152.1" x2="1510.5" y2="-437.2" stroke-width="2.08"/><line x1="690.3" y1="1165.3" x2="1535.3" y2="-424.0" stroke-width="2.60"/><line x1="711.7" y1="1176.7" x2="1556.7" y2="-412.6" stroke-width="3.64"/><line x1="729.5" y1="1186.1" x2="1574.5" y2="-403.2" stroke-width="2.08"/><line x1="750.4" y1="1197.3" x2="1595.5" y2="-392.0" stroke-width="2.60"/><line x1="771.6" y1="1208.6" x2="1616.7" y2="-380.7" stroke-width="3.64"/><line x1="787.2" y1="1216.8" x2="1632.2" y2="-372.5" stroke-width="2.08"/><line x1="805.1" y1="1226.4" x2="1650.1" y2="-362.9" stroke-width="2.08"/><line x1="819.3" y1="1233.9" x2="1664.3" y2="-355.4" stroke-width="3.64"/><line x1="834.8" y1="1242.1" x2="1679.8" y2="-347.2" stroke-width="2.08"/><line x1="854.8" y1="1252.8" x2="1699.9" y2="-336.5" stroke-width="2.08"/><line x1="876.5" y1="1264.4" x2="1721.6" y2="-325.0" stroke-width="3.64"/><line x1="894.9" y1="1274.1" x2="1740.0" y2="-315.2" stroke-width="2.60"/><line x1="915.2" y1="1284.9" x2="1760.2" y2="-304.4" stroke-width="2.08"/><line x1="932.7" y1="1294.2" x2="1777.8" y2="-295.1" stroke-width="3.64"/><line x1="950.0" y1="1303.4" x2="1795.1" y2="-285.9" stroke-width="2.60"/><line x1="964.8" y1="1311.3" x2="1809.8" y2="-278.0" stroke-width="2.08"/><line x1="985.8" y1="1322.4" x2="1830.9" y2="-266.9" stroke-width="3.64"/><line x1="1008.1" y1="1334.3" x2="1853.1" y2="-255.0" stroke-width="2.08"/><line x1="1034.1" y1="1348.1" x2="1879.1" y2="-241.2" stroke-width="2.60"/><line x1="1061.9" y1="1362.9" x2="1906.9" y2="-226.4" stroke-width="3.64"/><line x1="1075.9" y1="1370.4" x2="1921.0" y2="-218.9" stroke-width="2.60"/><line x1="1103.6" y1="1385.1" x2="1948.7" y2="-204.2" stroke-width="2.60"/><line x1="1122.7" y1="1395.2" x2="1967.7" y2="-194.1" stroke-width="3.64"/><line x1="1137.1" y1="1402.9" x2="1982.1" y2="-186.4" stroke-width="2.60"/><line x1="1162.7" y1="1416.5" x2="2007.8" y2="-172.8" stroke-width="2.08"/><line x1="1182.2" y1="1426.9" x2="2027.3" y2="-162.4" stroke-width="3.64"/><line x1="1198.9" y1="1435.7" x2="2043.9" y2="-153.6" stroke-width="2.08"/><line x1="1227.2" y1="1450.8" x2="2072.3" y2="-138.5" stroke-width="2.60"/><line x1="1248.7" y1="1462.2" x2="2093.8" y2="-127.1" stroke-width="3.64"/><line x1="1277.2" y1="1477.4" x2="2122.2" y2="-111.9" stroke-width="2.08"/><line x1="1291.5" y1="1485.0" x2="2136.5" y2="-104.3" stroke-width="2.08"/><line x1="1316.7" y1="1498.4" x2="2161.8" y2="-90.9" stroke-width="3.64"/><line x1="1333.9" y1="1507.5" x2="2179.0" y2="-81.8" stroke-width="2.60"/><line x1="1350.4" y1="1516.3" x2="2195.5" y2="-73.0" stroke-width="2.08"/><line x1="1373.1" y1="1528.4" x2="2218.2" y2="-60.9" stroke-width="3.64"/><line x1="1391.2" y1="1538.0" x2="2236.3" y2="-51.3" stroke-width="2.60"/><line x1="1405.5" y1="1545.6" x2="2250.5" y2="-43.7" stroke-width="2.08"/><line x1="1426.8" y1="1556.9" x2="2271.8" y2="-32.4" stroke-width="3.64"/><line x1="1446.0" y1="1567.1" x2="2291.0" y2="-22.2" stroke-width="2.60"/><line x1="1463.4" y1="1576.4" x2="2308.5" y2="-12.9" stroke-width="2.60"/><line x1="1485.3" y1="1588.0" x2="2330.3" y2="-1.3" stroke-width="3.64"/><line x1="1506.3" y1="1599.2" x2="2351.3" y2="9.9" stroke-width="2.08"/><line x1="1523.7" y1="1608.5" x2="2368.8" y2="19.2" stroke-width="2.60"/><line x1="1544.5" y1="1619.5" x2="2389.5" y2="30.2" stroke-width="3.64"/><line x1="1559.6" y1="1627.5" x2="2404.6" y2="38.2" stroke-width="2.08"/><line x1="1575.3" y1="1635.9" x2="2420.3" y2="46.6" stroke-width="2.08"/><line x1="1599.3" y1="1648.7" x2="2444.4" y2="59.3" stroke-width="3.64"/><line x1="1616.2" y1="1657.6" x2="2461.3" y2="68.3" stroke-width="2.60"/><line x1="1636.6" y1="1668.5" x2="2481.7" y2="79.2" stroke-width="2.60"/><line x1="1651.2" y1="1676.2" x2="2496.2" y2="86.9" stroke-width="3.64"/><line x1="1668.7" y1="1685.6" x2="2513.8" y2="96.3" stroke-width="2.60"/><line x1="1690.5" y1="1697.2" x2="2535.6" y2="107.9" stroke-width="2.60"/></g></g></g>
<clipPath id="band4"><rect x="1026" y="335" width="791" height="205"/></clipPath>
<g clip-path="url(#nj)"><g clip-path="url(#band4)"><g stroke="#e4e4e3"><line x1="608.6" y1="-355.7" x2="2398.7" y2="-167.5" stroke-width="5.84"/><line x1="607.1" y1="-342.3" x2="2397.3" y2="-154.2" stroke-width="4.28"/><line x1="605.4" y1="-325.8" x2="2395.5" y2="-137.6" stroke-width="4.28"/><line x1="604.0" y1="-312.3" x2="2394.1" y2="-124.2" stroke-width="4.28"/><line x1="600.7" y1="-280.8" x2="2390.8" y2="-92.6" stroke-width="5.84"/><line x1="598.8" y1="-262.5" x2="2388.9" y2="-74.3" stroke-width="4.80"/><line x1="596.3" y1="-239.3" x2="2386.5" y2="-51.2" stroke-width="4.80"/><line x1="594.3" y1="-220.2" x2="2384.4" y2="-32.0" stroke-width="4.80"/><line x1="592.2" y1="-199.7" x2="2382.3" y2="-11.5" stroke-width="5.84"/><line x1="588.8" y1="-167.7" x2="2378.9" y2="20.4" stroke-width="4.80"/><line x1="586.9" y1="-149.8" x2="2377.1" y2="38.3" stroke-width="4.80"/><line x1="585.0" y1="-131.7" x2="2375.2" y2="56.4" stroke-width="4.80"/><line x1="581.7" y1="-100.5" x2="2371.9" y2="87.6" stroke-width="5.84"/><line x1="580.2" y1="-85.7" x2="2370.3" y2="102.4" stroke-width="4.80"/><line x1="577.8" y1="-63.1" x2="2367.9" y2="125.0" stroke-width="4.80"/><line x1="574.3" y1="-30.0" x2="2364.5" y2="158.1" stroke-width="4.80"/><line x1="572.0" y1="-8.2" x2="2362.2" y2="179.9" stroke-width="5.84"/><line x1="569.5" y1="15.5" x2="2359.7" y2="203.6" stroke-width="4.28"/><line x1="567.7" y1="32.8" x2="2357.9" y2="220.9" stroke-width="4.28"/><line x1="565.0" y1="59.1" x2="2355.1" y2="247.3" stroke-width="4.28"/><line x1="562.9" y1="78.4" x2="2353.1" y2="266.5" stroke-width="5.84"/><line x1="561.2" y1="94.8" x2="2351.3" y2="282.9" stroke-width="4.28"/><line x1="557.8" y1="127.1" x2="2348.0" y2="315.2" stroke-width="4.80"/><line x1="556.3" y1="141.2" x2="2346.5" y2="329.4" stroke-width="4.80"/><line x1="553.3" y1="169.9" x2="2343.4" y2="358.1" stroke-width="5.84"/><line x1="551.0" y1="191.7" x2="2341.2" y2="379.8" stroke-width="4.28"/><line x1="549.2" y1="208.7" x2="2339.4" y2="396.8" stroke-width="4.80"/><line x1="547.7" y1="223.5" x2="2337.8" y2="411.6" stroke-width="4.80"/><line x1="545.6" y1="243.3" x2="2335.7" y2="431.4" stroke-width="5.84"/><line x1="543.3" y1="264.7" x2="2333.5" y2="452.9" stroke-width="4.80"/><line x1="541.2" y1="285.1" x2="2331.3" y2="473.2" stroke-width="4.80"/><line x1="538.1" y1="315.0" x2="2328.2" y2="503.1" stroke-width="4.80"/><line x1="535.6" y1="338.3" x2="2325.8" y2="526.5" stroke-width="5.84"/><line x1="532.7" y1="366.0" x2="2322.8" y2="554.1" stroke-width="4.80"/><line x1="530.5" y1="387.2" x2="2320.6" y2="575.3" stroke-width="4.80"/><line x1="527.0" y1="420.2" x2="2317.1" y2="608.4" stroke-width="4.28"/><line x1="525.0" y1="439.5" x2="2315.1" y2="627.7" stroke-width="5.84"/><line x1="522.6" y1="462.3" x2="2312.7" y2="650.5" stroke-width="4.28"/><line x1="519.1" y1="495.8" x2="2309.2" y2="683.9" stroke-width="4.28"/><line x1="515.8" y1="526.6" x2="2306.0" y2="714.7" stroke-width="4.80"/><line x1="512.5" y1="558.4" x2="2302.6" y2="746.6" stroke-width="5.84"/><line x1="511.0" y1="572.5" x2="2301.1" y2="760.6" stroke-width="4.28"/><line x1="508.5" y1="595.8" x2="2298.7" y2="784.0" stroke-width="4.28"/><line x1="505.9" y1="621.2" x2="2296.0" y2="809.3" stroke-width="4.80"/><line x1="504.0" y1="639.3" x2="2294.1" y2="827.4" stroke-width="5.84"/><line x1="501.0" y1="667.3" x2="2291.2" y2="855.4" stroke-width="4.80"/><line x1="498.1" y1="695.0" x2="2288.3" y2="883.1" stroke-width="4.28"/><line x1="496.6" y1="709.3" x2="2286.8" y2="897.5" stroke-width="4.80"/><line x1="494.3" y1="731.8" x2="2284.4" y2="919.9" stroke-width="5.84"/><line x1="491.5" y1="758.2" x2="2281.6" y2="946.3" stroke-width="4.80"/><line x1="488.8" y1="784.1" x2="2278.9" y2="972.2" stroke-width="4.80"/><line x1="486.1" y1="809.0" x2="2276.3" y2="997.2" stroke-width="4.28"/><line x1="483.0" y1="839.3" x2="2273.1" y2="1027.5" stroke-width="5.84"/><line x1="481.5" y1="852.8" x2="2271.7" y2="1040.9" stroke-width="4.80"/><line x1="478.8" y1="879.1" x2="2268.9" y2="1067.3" stroke-width="4.28"/><line x1="477.1" y1="895.4" x2="2267.2" y2="1083.5" stroke-width="4.28"/><line x1="474.6" y1="919.2" x2="2264.7" y2="1107.4" stroke-width="5.84"/><line x1="472.4" y1="939.3" x2="2262.6" y2="1127.5" stroke-width="4.28"/><line x1="469.5" y1="967.2" x2="2259.7" y2="1155.3" stroke-width="4.80"/><line x1="467.0" y1="990.8" x2="2257.2" y2="1179.0" stroke-width="4.28"/><line x1="464.3" y1="1017.0" x2="2254.4" y2="1205.1" stroke-width="5.84"/><line x1="462.1" y1="1037.4" x2="2252.3" y2="1225.6" stroke-width="4.28"/><line x1="458.8" y1="1068.9" x2="2249.0" y2="1257.1" stroke-width="4.28"/><line x1="455.2" y1="1103.2" x2="2245.4" y2="1291.4" stroke-width="4.80"/><line x1="453.1" y1="1123.6" x2="2243.2" y2="1311.7" stroke-width="5.84"/><line x1="450.9" y1="1143.9" x2="2241.1" y2="1332.0" stroke-width="4.80"/><line x1="448.8" y1="1164.4" x2="2238.9" y2="1352.6" stroke-width="4.80"/><line x1="446.1" y1="1189.8" x2="2236.3" y2="1378.0" stroke-width="4.28"/><line x1="443.8" y1="1211.4" x2="2234.0" y2="1399.6" stroke-width="5.84"/><line x1="442.2" y1="1226.7" x2="2232.4" y2="1414.8" stroke-width="4.28"/><line x1="535.3" y1="1346.0" x2="723.4" y2="-444.2" stroke-width="5.84"/><line x1="549.9" y1="1347.5" x2="738.0" y2="-442.6" stroke-width="4.80"/><line x1="563.9" y1="1349.0" x2="752.1" y2="-441.2" stroke-width="4.80"/><line x1="573.7" y1="1350.0" x2="761.8" y2="-440.1" stroke-width="4.80"/><line x1="585.9" y1="1351.3" x2="774.0" y2="-438.9" stroke-width="5.84"/><line x1="595.7" y1="1352.3" x2="783.8" y2="-437.8" stroke-width="4.80"/><line x1="613.9" y1="1354.2" x2="802.0" y2="-435.9" stroke-width="4.28"/><line x1="633.5" y1="1356.3" x2="821.7" y2="-433.8" stroke-width="4.80"/><line x1="643.4" y1="1357.3" x2="831.6" y2="-432.8" stroke-width="5.84"/><line x1="663.1" y1="1359.4" x2="851.3" y2="-430.7" stroke-width="4.80"/><line x1="673.0" y1="1360.4" x2="861.2" y2="-429.7" stroke-width="4.28"/><line x1="691.2" y1="1362.4" x2="879.3" y2="-427.8" stroke-width="4.28"/><line x1="705.7" y1="1363.9" x2="893.9" y2="-426.3" stroke-width="5.84"/><line x1="725.7" y1="1366.0" x2="913.8" y2="-424.2" stroke-width="4.80"/><line x1="739.2" y1="1367.4" x2="927.3" y2="-422.7" stroke-width="4.80"/><line x1="757.1" y1="1369.3" x2="945.2" y2="-420.9" stroke-width="4.80"/><line x1="772.0" y1="1370.8" x2="960.1" y2="-419.3" stroke-width="5.84"/><line x1="791.6" y1="1372.9" x2="979.7" y2="-417.2" stroke-width="4.80"/><line x1="807.3" y1="1374.6" x2="995.4" y2="-415.6" stroke-width="4.80"/><line x1="827.2" y1="1376.6" x2="1015.3" y2="-413.5" stroke-width="4.28"/><line x1="842.3" y1="1378.2" x2="1030.5" y2="-411.9" stroke-width="5.84"/><line x1="857.1" y1="1379.8" x2="1045.3" y2="-410.3" stroke-width="4.80"/><line x1="870.0" y1="1381.2" x2="1058.2" y2="-409.0" stroke-width="4.80"/><line x1="884.4" y1="1382.7" x2="1072.6" y2="-407.5" stroke-width="4.28"/><line x1="901.4" y1="1384.5" x2="1089.6" y2="-405.7" stroke-width="5.84"/><line x1="915.8" y1="1386.0" x2="1103.9" y2="-404.2" stroke-width="4.80"/><line x1="925.6" y1="1387.0" x2="1113.8" y2="-403.1" stroke-width="4.80"/><line x1="942.6" y1="1388.8" x2="1130.8" y2="-401.4" stroke-width="4.28"/><line x1="957.1" y1="1390.3" x2="1145.2" y2="-399.8" stroke-width="5.84"/><line x1="972.0" y1="1391.9" x2="1160.1" y2="-398.3" stroke-width="4.28"/><line x1="991.8" y1="1393.9" x2="1179.9" y2="-396.2" stroke-width="4.28"/><line x1="1011.1" y1="1396.0" x2="1199.2" y2="-394.2" stroke-width="4.80"/><line x1="1021.1" y1="1397.0" x2="1209.3" y2="-393.1" stroke-width="5.84"/><line x1="1037.7" y1="1398.8" x2="1225.8" y2="-391.4" stroke-width="4.80"/><line x1="1053.7" y1="1400.5" x2="1241.9" y2="-389.7" stroke-width="4.80"/><line x1="1068.7" y1="1402.0" x2="1256.9" y2="-388.1" stroke-width="4.28"/><line x1="1080.8" y1="1403.3" x2="1269.0" y2="-386.8" stroke-width="5.84"/><line x1="1097.9" y1="1405.1" x2="1286.0" y2="-385.0" stroke-width="4.28"/><line x1="1110.1" y1="1406.4" x2="1298.3" y2="-383.8" stroke-width="4.80"/><line x1="1126.4" y1="1408.1" x2="1314.5" y2="-382.0" stroke-width="4.28"/><line x1="1143.8" y1="1409.9" x2="1331.9" y2="-380.2" stroke-width="5.84"/><line x1="1163.3" y1="1412.0" x2="1351.4" y2="-378.2" stroke-width="4.80"/><line x1="1174.6" y1="1413.2" x2="1362.7" y2="-377.0" stroke-width="4.80"/><line x1="1186.8" y1="1414.4" x2="1374.9" y2="-375.7" stroke-width="4.28"/><line x1="1199.0" y1="1415.7" x2="1387.1" y2="-374.4" stroke-width="5.84"/><line x1="1218.3" y1="1417.8" x2="1406.4" y2="-372.4" stroke-width="4.28"/><line x1="1234.6" y1="1419.5" x2="1422.8" y2="-370.7" stroke-width="4.80"/><line x1="1248.4" y1="1420.9" x2="1436.6" y2="-369.2" stroke-width="4.28"/><line x1="1262.3" y1="1422.4" x2="1450.5" y2="-367.8" stroke-width="5.84"/><line x1="1276.8" y1="1423.9" x2="1465.0" y2="-366.2" stroke-width="4.28"/><line x1="1287.1" y1="1425.0" x2="1475.3" y2="-365.1" stroke-width="4.28"/><line x1="1301.3" y1="1426.5" x2="1489.5" y2="-363.7" stroke-width="4.80"/><line x1="1320.7" y1="1428.5" x2="1508.8" y2="-361.6" stroke-width="5.84"/><line x1="1331.4" y1="1429.6" x2="1519.6" y2="-360.5" stroke-width="4.28"/><line x1="1342.3" y1="1430.8" x2="1530.5" y2="-359.3" stroke-width="4.28"/><line x1="1355.0" y1="1432.1" x2="1543.1" y2="-358.0" stroke-width="4.80"/><line x1="1369.2" y1="1433.6" x2="1557.4" y2="-356.5" stroke-width="5.84"/><line x1="1381.4" y1="1434.9" x2="1569.5" y2="-355.2" stroke-width="4.28"/><line x1="1400.2" y1="1436.9" x2="1588.4" y2="-353.3" stroke-width="4.80"/><line x1="1415.2" y1="1438.4" x2="1603.3" y2="-351.7" stroke-width="4.80"/><line x1="1426.8" y1="1439.7" x2="1614.9" y2="-350.5" stroke-width="5.84"/><line x1="1445.1" y1="1441.6" x2="1633.3" y2="-348.5" stroke-width="4.80"/><line x1="1457.0" y1="1442.8" x2="1645.1" y2="-347.3" stroke-width="4.80"/><line x1="1475.5" y1="1444.8" x2="1663.7" y2="-345.3" stroke-width="4.80"/><line x1="1488.4" y1="1446.1" x2="1676.6" y2="-344.0" stroke-width="5.84"/><line x1="1508.3" y1="1448.2" x2="1696.4" y2="-341.9" stroke-width="4.28"/><line x1="1525.8" y1="1450.1" x2="1714.0" y2="-340.1" stroke-width="4.80"/><line x1="1543.2" y1="1451.9" x2="1731.4" y2="-338.2" stroke-width="4.28"/><line x1="1558.5" y1="1453.5" x2="1746.6" y2="-336.6" stroke-width="5.84"/><line x1="1570.4" y1="1454.8" x2="1758.5" y2="-335.4" stroke-width="4.80"/><line x1="1585.3" y1="1456.3" x2="1773.5" y2="-333.8" stroke-width="4.80"/><line x1="1600.8" y1="1458.0" x2="1788.9" y2="-332.2" stroke-width="4.28"/><line x1="1618.0" y1="1459.8" x2="1806.2" y2="-330.4" stroke-width="5.84"/><line x1="1628.3" y1="1460.9" x2="1816.5" y2="-329.3" stroke-width="4.28"/><line x1="1646.5" y1="1462.8" x2="1834.6" y2="-327.4" stroke-width="4.28"/><line x1="1661.5" y1="1464.3" x2="1849.7" y2="-325.8" stroke-width="4.28"/><line x1="1672.3" y1="1465.5" x2="1860.4" y2="-324.7" stroke-width="5.84"/><line x1="1686.2" y1="1466.9" x2="1874.3" y2="-323.2" stroke-width="4.80"/><line x1="1696.5" y1="1468.0" x2="1884.7" y2="-322.1" stroke-width="4.28"/><line x1="1711.0" y1="1469.5" x2="1899.1" y2="-320.6" stroke-width="4.28"/><line x1="1727.3" y1="1471.3" x2="1915.4" y2="-318.9" stroke-width="5.84"/><line x1="1740.4" y1="1472.6" x2="1928.6" y2="-317.5" stroke-width="4.28"/><line x1="1750.7" y1="1473.7" x2="1938.9" y2="-316.4" stroke-width="4.28"/><line x1="1764.4" y1="1475.2" x2="1952.6" y2="-315.0" stroke-width="4.28"/><line x1="1775.7" y1="1476.3" x2="1963.8" y2="-313.8" stroke-width="5.84"/><line x1="1787.5" y1="1477.6" x2="1975.7" y2="-312.6" stroke-width="4.80"/><line x1="1802.6" y1="1479.2" x2="1990.7" y2="-311.0" stroke-width="4.28"/><line x1="1817.2" y1="1480.7" x2="2005.4" y2="-309.4" stroke-width="4.80"/><line x1="1830.6" y1="1482.1" x2="2018.7" y2="-308.0" stroke-width="5.84"/><line x1="1848.1" y1="1483.9" x2="2036.2" y2="-306.2" stroke-width="4.28"/><line x1="1858.9" y1="1485.1" x2="2047.0" y2="-305.1" stroke-width="4.28"/><line x1="1869.6" y1="1486.2" x2="2057.7" y2="-303.9" stroke-width="4.80"/><line x1="1886.9" y1="1488.0" x2="2075.0" y2="-302.1" stroke-width="5.84"/><line x1="1898.2" y1="1489.2" x2="2086.3" y2="-300.9" stroke-width="4.28"/><line x1="1917.6" y1="1491.3" x2="2105.8" y2="-298.9" stroke-width="4.28"/><line x1="1934.8" y1="1493.1" x2="2123.0" y2="-297.1" stroke-width="4.28"/><line x1="1948.1" y1="1494.5" x2="2136.3" y2="-295.7" stroke-width="5.84"/><line x1="1958.8" y1="1495.6" x2="2146.9" y2="-294.6" stroke-width="4.28"/><line x1="1973.3" y1="1497.1" x2="2161.4" y2="-293.0" stroke-width="4.28"/><line x1="1989.0" y1="1498.8" x2="2177.1" y2="-291.4" stroke-width="4.28"/><line x1="2005.8" y1="1500.5" x2="2193.9" y2="-289.6" stroke-width="5.84"/><line x1="2023.5" y1="1502.4" x2="2211.7" y2="-287.7" stroke-width="4.80"/><line x1="2033.7" y1="1503.5" x2="2221.8" y2="-286.7" stroke-width="4.80"/><line x1="2044.6" y1="1504.6" x2="2232.7" y2="-285.5" stroke-width="4.80"/><line x1="2058.5" y1="1506.1" x2="2246.7" y2="-284.1" stroke-width="5.84"/><line x1="2074.6" y1="1507.8" x2="2262.8" y2="-282.4" stroke-width="4.28"/><line x1="2088.0" y1="1509.2" x2="2276.2" y2="-281.0" stroke-width="4.80"/><line x1="2101.6" y1="1510.6" x2="2289.8" y2="-279.5" stroke-width="4.28"/><line x1="2114.9" y1="1512.0" x2="2303.1" y2="-278.1" stroke-width="5.84"/></g><g stroke="#fdfdfd"><line x1="608.6" y1="-355.7" x2="2398.7" y2="-167.5" stroke-width="3.64"/><line x1="607.1" y1="-342.3" x2="2397.3" y2="-154.2" stroke-width="2.08"/><line x1="605.4" y1="-325.8" x2="2395.5" y2="-137.6" stroke-width="2.08"/><line x1="604.0" y1="-312.3" x2="2394.1" y2="-124.2" stroke-width="2.08"/><line x1="600.7" y1="-280.8" x2="2390.8" y2="-92.6" stroke-width="3.64"/><line x1="598.8" y1="-262.5" x2="2388.9" y2="-74.3" stroke-width="2.60"/><line x1="596.3" y1="-239.3" x2="2386.5" y2="-51.2" stroke-width="2.60"/><line x1="594.3" y1="-220.2" x2="2384.4" y2="-32.0" stroke-width="2.60"/><line x1="592.2" y1="-199.7" x2="2382.3" y2="-11.5" stroke-width="3.64"/><line x1="588.8" y1="-167.7" x2="2378.9" y2="20.4" stroke-width="2.60"/><line x1="586.9" y1="-149.8" x2="2377.1" y2="38.3" stroke-width="2.60"/><line x1="585.0" y1="-131.7" x2="2375.2" y2="56.4" stroke-width="2.60"/><line x1="581.7" y1="-100.5" x2="2371.9" y2="87.6" stroke-width="3.64"/><line x1="580.2" y1="-85.7" x2="2370.3" y2="102.4" stroke-width="2.60"/><line x1="577.8" y1="-63.1" x2="2367.9" y2="125.0" stroke-width="2.60"/><line x1="574.3" y1="-30.0" x2="2364.5" y2="158.1" stroke-width="2.60"/><line x1="572.0" y1="-8.2" x2="2362.2" y2="179.9" stroke-width="3.64"/><line x1="569.5" y1="15.5" x2="2359.7" y2="203.6" stroke-width="2.08"/><line x1="567.7" y1="32.8" x2="2357.9" y2="220.9" stroke-width="2.08"/><line x1="565.0" y1="59.1" x2="2355.1" y2="247.3" stroke-width="2.08"/><line x1="562.9" y1="78.4" x2="2353.1" y2="266.5" stroke-width="3.64"/><line x1="561.2" y1="94.8" x2="2351.3" y2="282.9" stroke-width="2.08"/><line x1="557.8" y1="127.1" x2="2348.0" y2="315.2" stroke-width="2.60"/><line x1="556.3" y1="141.2" x2="2346.5" y2="329.4" stroke-width="2.60"/><line x1="553.3" y1="169.9" x2="2343.4" y2="358.1" stroke-width="3.64"/><line x1="551.0" y1="191.7" x2="2341.2" y2="379.8" stroke-width="2.08"/><line x1="549.2" y1="208.7" x2="2339.4" y2="396.8" stroke-width="2.60"/><line x1="547.7" y1="223.5" x2="2337.8" y2="411.6" stroke-width="2.60"/><line x1="545.6" y1="243.3" x2="2335.7" y2="431.4" stroke-width="3.64"/><line x1="543.3" y1="264.7" x2="2333.5" y2="452.9" stroke-width="2.60"/><line x1="541.2" y1="285.1" x2="2331.3" y2="473.2" stroke-width="2.60"/><line x1="538.1" y1="315.0" x2="2328.2" y2="503.1" stroke-width="2.60"/><line x1="535.6" y1="338.3" x2="2325.8" y2="526.5" stroke-width="3.64"/><line x1="532.7" y1="366.0" x2="2322.8" y2="554.1" stroke-width="2.60"/><line x1="530.5" y1="387.2" x2="2320.6" y2="575.3" stroke-width="2.60"/><line x1="527.0" y1="420.2" x2="2317.1" y2="608.4" stroke-width="2.08"/><line x1="525.0" y1="439.5" x2="2315.1" y2="627.7" stroke-width="3.64"/><line x1="522.6" y1="462.3" x2="2312.7" y2="650.5" stroke-width="2.08"/><line x1="519.1" y1="495.8" x2="2309.2" y2="683.9" stroke-width="2.08"/><line x1="515.8" y1="526.6" x2="2306.0" y2="714.7" stroke-width="2.60"/><line x1="512.5" y1="558.4" x2="2302.6" y2="746.6" stroke-width="3.64"/><line x1="511.0" y1="572.5" x2="2301.1" y2="760.6" stroke-width="2.08"/><line x1="508.5" y1="595.8" x2="2298.7" y2="784.0" stroke-width="2.08"/><line x1="505.9" y1="621.2" x2="2296.0" y2="809.3" stroke-width="2.60"/><line x1="504.0" y1="639.3" x2="2294.1" y2="827.4" stroke-width="3.64"/><line x1="501.0" y1="667.3" x2="2291.2" y2="855.4" stroke-width="2.60"/><line x1="498.1" y1="695.0" x2="2288.3" y2="883.1" stroke-width="2.08"/><line x1="496.6" y1="709.3" x2="2286.8" y2="897.5" stroke-width="2.60"/><line x1="494.3" y1="731.8" x2="2284.4" y2="919.9" stroke-width="3.64"/><line x1="491.5" y1="758.2" x2="2281.6" y2="946.3" stroke-width="2.60"/><line x1="488.8" y1="784.1" x2="2278.9" y2="972.2" stroke-width="2.60"/><line x1="486.1" y1="809.0" x2="2276.3" y2="997.2" stroke-width="2.08"/><line x1="483.0" y1="839.3" x2="2273.1" y2="1027.5" stroke-width="3.64"/><line x1="481.5" y1="852.8" x2="2271.7" y2="1040.9" stroke-width="2.60"/><line x1="478.8" y1="879.1" x2="2268.9" y2="1067.3" stroke-width="2.08"/><line x1="477.1" y1="895.4" x2="2267.2" y2="1083.5" stroke-width="2.08"/><line x1="474.6" y1="919.2" x2="2264.7" y2="1107.4" stroke-width="3.64"/><line x1="472.4" y1="939.3" x2="2262.6" y2="1127.5" stroke-width="2.08"/><line x1="469.5" y1="967.2" x2="2259.7" y2="1155.3" stroke-width="2.60"/><line x1="467.0" y1="990.8" x2="2257.2" y2="1179.0" stroke-width="2.08"/><line x1="464.3" y1="1017.0" x2="2254.4" y2="1205.1" stroke-width="3.64"/><line x1="462.1" y1="1037.4" x2="2252.3" y2="1225.6" stroke-width="2.08"/><line x1="458.8" y1="1068.9" x2="2249.0" y2="1257.1" stroke-width="2.08"/><line x1="455.2" y1="1103.2" x2="2245.4" y2="1291.4" stroke-width="2.60"/><line x1="453.1" y1="1123.6" x2="2243.2" y2="1311.7" stroke-width="3.64"/><line x1="450.9" y1="1143.9" x2="2241.1" y2="1332.0" stroke-width="2.60"/><line x1="448.8" y1="1164.4" x2="2238.9" y2="1352.6" stroke-width="2.60"/><line x1="446.1" y1="1189.8" x2="2236.3" y2="1378.0" stroke-width="2.08"/><line x1="443.8" y1="1211.4" x2="2234.0" y2="1399.6" stroke-width="3.64"/><line x1="442.2" y1="1226.7" x2="2232.4" y2="1414.8" stroke-width="2.08"/><line x1="535.3" y1="1346.0" x2="723.4" y2="-444.2" stroke-width="3.64"/><line x1="549.9" y1="1347.5" x2="738.0" y2="-442.6" stroke-width="2.60"/><line x1="563.9" y1="1349.0" x2="752.1" y2="-441.2" stroke-width="2.60"/><line x1="573.7" y1="1350.0" x2="761.8" y2="-440.1" stroke-width="2.60"/><line x1="585.9" y1="1351.3" x2="774.0" y2="-438.9" stroke-width="3.64"/><line x1="595.7" y1="1352.3" x2="783.8" y2="-437.8" stroke-width="2.60"/><line x1="613.9" y1="1354.2" x2="802.0" y2="-435.9" stroke-width="2.08"/><line x1="633.5" y1="1356.3" x2="821.7" y2="-433.8" stroke-width="2.60"/><line x1="643.4" y1="1357.3" x2="831.6" y2="-432.8" stroke-width="3.64"/><line x1="663.1" y1="1359.4" x2="851.3" y2="-430.7" stroke-width="2.60"/><line x1="673.0" y1="1360.4" x2="861.2" y2="-429.7" stroke-width="2.08"/><line x1="691.2" y1="1362.4" x2="879.3" y2="-427.8" stroke-width="2.08"/><line x1="705.7" y1="1363.9" x2="893.9" y2="-426.3" stroke-width="3.64"/><line x1="725.7" y1="1366.0" x2="913.8" y2="-424.2" stroke-width="2.60"/><line x1="739.2" y1="1367.4" x2="927.3" y2="-422.7" stroke-width="2.60"/><line x1="757.1" y1="1369.3" x2="945.2" y2="-420.9" stroke-width="2.60"/><line x1="772.0" y1="1370.8" x2="960.1" y2="-419.3" stroke-width="3.64"/><line x1="791.6" y1="1372.9" x2="979.7" y2="-417.2" stroke-width="2.60"/><line x1="807.3" y1="1374.6" x2="995.4" y2="-415.6" stroke-width="2.60"/><line x1="827.2" y1="1376.6" x2="1015.3" y2="-413.5" stroke-width="2.08"/><line x1="842.3" y1="1378.2" x2="1030.5" y2="-411.9" stroke-width="3.64"/><line x1="857.1" y1="1379.8" x2="1045.3" y2="-410.3" stroke-width="2.60"/><line x1="870.0" y1="1381.2" x2="1058.2" y2="-409.0" stroke-width="2.60"/><line x1="884.4" y1="1382.7" x2="1072.6" y2="-407.5" stroke-width="2.08"/><line x1="901.4" y1="1384.5" x2="1089.6" y2="-405.7" stroke-width="3.64"/><line x1="915.8" y1="1386.0" x2="1103.9" y2="-404.2" stroke-width="2.60"/><line x1="925.6" y1="1387.0" x2="1113.8" y2="-403.1" stroke-width="2.60"/><line x1="942.6" y1="1388.8" x2="1130.8" y2="-401.4" stroke-width="2.08"/><line x1="957.1" y1="1390.3" x2="1145.2" y2="-399.8" stroke-width="3.64"/><line x1="972.0" y1="1391.9" x2="1160.1" y2="-398.3" stroke-width="2.08"/><line x1="991.8" y1="1393.9" x2="1179.9" y2="-396.2" stroke-width="2.08"/><line x1="1011.1" y1="1396.0" x2="1199.2" y2="-394.2" stroke-width="2.60"/><line x1="1021.1" y1="1397.0" x2="1209.3" y2="-393.1" stroke-width="3.64"/><line x1="1037.7" y1="1398.8" x2="1225.8" y2="-391.4" stroke-width="2.60"/><line x1="1053.7" y1="1400.5" x2="1241.9" y2="-389.7" stroke-width="2.60"/><line x1="1068.7" y1="1402.0" x2="1256.9" y2="-388.1" stroke-width="2.08"/><line x1="1080.8" y1="1403.3" x2="1269.0" y2="-386.8" stroke-width="3.64"/><line x1="1097.9" y1="1405.1" x2="1286.0" y2="-385.0" stroke-width="2.08"/><line x1="1110.1" y1="1406.4" x2="1298.3" y2="-383.8" stroke-width="2.60"/><line x1="1126.4" y1="1408.1" x2="1314.5" y2="-382.0" stroke-width="2.08"/><line x1="1143.8" y1="1409.9" x2="1331.9" y2="-380.2" stroke-width="3.64"/><line x1="1163.3" y1="1412.0" x2="1351.4" y2="-378.2" stroke-width="2.60"/><line x1="1174.6" y1="1413.2" x2="1362.7" y2="-377.0" stroke-width="2.60"/><line x1="1186.8" y1="1414.4" x2="1374.9" y2="-375.7" stroke-width="2.08"/><line x1="1199.0" y1="1415.7" x2="1387.1" y2="-374.4" stroke-width="3.64"/><line x1="1218.3" y1="1417.8" x2="1406.4" y2="-372.4" stroke-width="2.08"/><line x1="1234.6" y1="1419.5" x2="1422.8" y2="-370.7" stroke-width="2.60"/><line x1="1248.4" y1="1420.9" x2="1436.6" y2="-369.2" stroke-width="2.08"/><line x1="1262.3" y1="1422.4" x2="1450.5" y2="-367.8" stroke-width="3.64"/><line x1="1276.8" y1="1423.9" x2="1465.0" y2="-366.2" stroke-width="2.08"/><line x1="1287.1" y1="1425.0" x2="1475.3" y2="-365.1" stroke-width="2.08"/><line x1="1301.3" y1="1426.5" x2="1489.5" y2="-363.7" stroke-width="2.60"/><line x1="1320.7" y1="1428.5" x2="1508.8" y2="-361.6" stroke-width="3.64"/><line x1="1331.4" y1="1429.6" x2="1519.6" y2="-360.5" stroke-width="2.08"/><line x1="1342.3" y1="1430.8" x2="1530.5" y2="-359.3" stroke-width="2.08"/><line x1="1355.0" y1="1432.1" x2="1543.1" y2="-358.0" stroke-width="2.60"/><line x1="1369.2" y1="1433.6" x2="1557.4" y2="-356.5" stroke-width="3.64"/><line x1="1381.4" y1="1434.9" x2="1569.5" y2="-355.2" stroke-width="2.08"/><line x1="1400.2" y1="1436.9" x2="1588.4" y2="-353.3" stroke-width="2.60"/><line x1="1415.2" y1="1438.4" x2="1603.3" y2="-351.7" stroke-width="2.60"/><line x1="1426.8" y1="1439.7" x2="1614.9" y2="-350.5" stroke-width="3.64"/><line x1="1445.1" y1="1441.6" x2="1633.3" y2="-348.5" stroke-width="2.60"/><line x1="1457.0" y1="1442.8" x2="1645.1" y2="-347.3" stroke-width="2.60"/><line x1="1475.5" y1="1444.8" x2="1663.7" y2="-345.3" stroke-width="2.60"/><line x1="1488.4" y1="1446.1" x2="1676.6" y2="-344.0" stroke-width="3.64"/><line x1="1508.3" y1="1448.2" x2="1696.4" y2="-341.9" stroke-width="2.08"/><line x1="1525.8" y1="1450.1" x2="1714.0" y2="-340.1" stroke-width="2.60"/><line x1="1543.2" y1="1451.9" x2="1731.4" y2="-338.2" stroke-width="2.08"/><line x1="1558.5" y1="1453.5" x2="1746.6" y2="-336.6" stroke-width="3.64"/><line x1="1570.4" y1="1454.8" x2="1758.5" y2="-335.4" stroke-width="2.60"/><line x1="1585.3" y1="1456.3" x2="1773.5" y2="-333.8" stroke-width="2.60"/><line x1="1600.8" y1="1458.0" x2="1788.9" y2="-332.2" stroke-width="2.08"/><line x1="1618.0" y1="1459.8" x2="1806.2" y2="-330.4" stroke-width="3.64"/><line x1="1628.3" y1="1460.9" x2="1816.5" y2="-329.3" stroke-width="2.08"/><line x1="1646.5" y1="1462.8" x2="1834.6" y2="-327.4" stroke-width="2.08"/><line x1="1661.5" y1="1464.3" x2="1849.7" y2="-325.8" stroke-width="2.08"/><line x1="1672.3" y1="1465.5" x2="1860.4" y2="-324.7" stroke-width="3.64"/><line x1="1686.2" y1="1466.9" x2="1874.3" y2="-323.2" stroke-width="2.60"/><line x1="1696.5" y1="1468.0" x2="1884.7" y2="-322.1" stroke-width="2.08"/><line x1="1711.0" y1="1469.5" x2="1899.1" y2="-320.6" stroke-width="2.08"/><line x1="1727.3" y1="1471.3" x2="1915.4" y2="-318.9" stroke-width="3.64"/><line x1="1740.4" y1="1472.6" x2="1928.6" y2="-317.5" stroke-width="2.08"/><line x1="1750.7" y1="1473.7" x2="1938.9" y2="-316.4" stroke-width="2.08"/><line x1="1764.4" y1="1475.2" x2="1952.6" y2="-315.0" stroke-width="2.08"/><line x1="1775.7" y1="1476.3" x2="1963.8" y2="-313.8" stroke-width="3.64"/><line x1="1787.5" y1="1477.6" x2="1975.7" y2="-312.6" stroke-width="2.60"/><line x1="1802.6" y1="1479.2" x2="1990.7" y2="-311.0" stroke-width="2.08"/><line x1="1817.2" y1="1480.7" x2="2005.4" y2="-309.4" stroke-width="2.60"/><line x1="1830.6" y1="1482.1" x2="2018.7" y2="-308.0" stroke-width="3.64"/><line x1="1848.1" y1="1483.9" x2="2036.2" y2="-306.2" stroke-width="2.08"/><line x1="1858.9" y1="1485.1" x2="2047.0" y2="-305.1" stroke-width="2.08"/><line x1="1869.6" y1="1486.2" x2="2057.7" y2="-303.9" stroke-width="2.60"/><line x1="1886.9" y1="1488.0" x2="2075.0" y2="-302.1" stroke-width="3.64"/><line x1="1898.2" y1="1489.2" x2="2086.3" y2="-300.9" stroke-width="2.08"/><line x1="1917.6" y1="1491.3" x2="2105.8" y2="-298.9" stroke-width="2.08"/><line x1="1934.8" y1="1493.1" x2="2123.0" y2="-297.1" stroke-width="2.08"/><line x1="1948.1" y1="1494.5" x2="2136.3" y2="-295.7" stroke-width="3.64"/><line x1="1958.8" y1="1495.6" x2="2146.9" y2="-294.6" stroke-width="2.08"/><line x1="1973.3" y1="1497.1" x2="2161.4" y2="-293.0" stroke-width="2.08"/><line x1="1989.0" y1="1498.8" x2="2177.1" y2="-291.4" stroke-width="2.08"/><line x1="2005.8" y1="1500.5" x2="2193.9" y2="-289.6" stroke-width="3.64"/><line x1="2023.5" y1="1502.4" x2="2211.7" y2="-287.7" stroke-width="2.60"/><line x1="2033.7" y1="1503.5" x2="2221.8" y2="-286.7" stroke-width="2.60"/><line x1="2044.6" y1="1504.6" x2="2232.7" y2="-285.5" stroke-width="2.60"/><line x1="2058.5" y1="1506.1" x2="2246.7" y2="-284.1" stroke-width="3.64"/><line x1="2074.6" y1="1507.8" x2="2262.8" y2="-282.4" stroke-width="2.08"/><line x1="2088.0" y1="1509.2" x2="2276.2" y2="-281.0" stroke-width="2.60"/><line x1="2101.6" y1="1510.6" x2="2289.8" y2="-279.5" stroke-width="2.08"/><line x1="2114.9" y1="1512.0" x2="2303.1" y2="-278.1" stroke-width="3.64"/></g></g></g>
<clipPath id="band5"><rect x="1026" y="540" width="791" height="423"/></clipPath>
<g clip-path="url(#nj)"><g clip-path="url(#band5)"><g stroke="#e4e4e3"><line x1="640.1" y1="-383.5" x2="2422.6" y2="-133.0" stroke-width="5.84"/><line x1="634.2" y1="-341.7" x2="2416.7" y2="-91.2" stroke-width="4.28"/><line x1="630.7" y1="-316.7" x2="2413.2" y2="-66.1" stroke-width="4.80"/><line x1="625.4" y1="-278.9" x2="2407.9" y2="-28.3" stroke-width="5.84"/><line x1="619.1" y1="-234.3" x2="2401.6" y2="16.2" stroke-width="4.80"/><line x1="616.4" y1="-214.8" x2="2398.9" y2="35.7" stroke-width="4.80"/><line x1="613.4" y1="-193.3" x2="2395.9" y2="57.2" stroke-width="5.84"/><line x1="608.3" y1="-157.4" x2="2390.8" y2="93.1" stroke-width="4.28"/><line x1="603.5" y1="-123.3" x2="2386.0" y2="127.2" stroke-width="4.80"/><line x1="597.4" y1="-79.8" x2="2379.9" y2="170.7" stroke-width="5.84"/><line x1="592.5" y1="-44.7" x2="2375.0" y2="205.8" stroke-width="4.80"/><line x1="587.6" y1="-10.3" x2="2370.1" y2="240.3" stroke-width="4.28"/><line x1="582.5" y1="26.5" x2="2365.0" y2="277.0" stroke-width="5.84"/><line x1="578.1" y1="57.5" x2="2360.6" y2="308.1" stroke-width="4.28"/><line x1="572.6" y1="96.5" x2="2355.1" y2="347.1" stroke-width="4.80"/><line x1="569.7" y1="117.3" x2="2352.2" y2="367.8" stroke-width="5.84"/><line x1="564.7" y1="152.8" x2="2347.2" y2="403.4" stroke-width="4.28"/><line x1="559.0" y1="193.5" x2="2341.5" y2="444.0" stroke-width="4.28"/><line x1="554.1" y1="228.4" x2="2336.6" y2="478.9" stroke-width="5.84"/><line x1="548.0" y1="271.7" x2="2330.5" y2="522.2" stroke-width="4.28"/><line x1="542.1" y1="313.6" x2="2324.6" y2="564.1" stroke-width="4.80"/><line x1="537.7" y1="345.3" x2="2320.2" y2="595.8" stroke-width="5.84"/><line x1="532.5" y1="382.4" x2="2314.9" y2="632.9" stroke-width="4.80"/><line x1="528.0" y1="414.3" x2="2310.5" y2="664.8" stroke-width="4.80"/><line x1="524.2" y1="441.4" x2="2306.7" y2="691.9" stroke-width="5.84"/><line x1="517.4" y1="489.8" x2="2299.8" y2="740.3" stroke-width="4.80"/><line x1="512.1" y1="527.4" x2="2294.6" y2="777.9" stroke-width="4.80"/><line x1="509.4" y1="546.5" x2="2291.9" y2="797.0" stroke-width="5.84"/><line x1="505.0" y1="578.0" x2="2287.5" y2="828.5" stroke-width="4.80"/><line x1="498.3" y1="625.2" x2="2280.8" y2="875.7" stroke-width="4.28"/><line x1="495.2" y1="647.5" x2="2277.7" y2="898.0" stroke-width="5.84"/><line x1="489.7" y1="686.8" x2="2272.2" y2="937.3" stroke-width="4.28"/><line x1="486.1" y1="711.9" x2="2268.6" y2="962.5" stroke-width="4.28"/><line x1="479.8" y1="757.2" x2="2262.3" y2="1007.8" stroke-width="5.84"/><line x1="476.3" y1="782.2" x2="2258.8" y2="1032.7" stroke-width="4.80"/><line x1="472.1" y1="811.9" x2="2254.6" y2="1062.4" stroke-width="4.80"/><line x1="467.4" y1="845.4" x2="2249.9" y2="1095.9" stroke-width="5.84"/><line x1="462.8" y1="878.0" x2="2245.3" y2="1128.5" stroke-width="4.80"/><line x1="458.3" y1="910.1" x2="2240.8" y2="1160.6" stroke-width="4.80"/><line x1="453.6" y1="943.9" x2="2236.0" y2="1194.4" stroke-width="5.84"/><line x1="447.3" y1="988.7" x2="2229.7" y2="1239.2" stroke-width="4.80"/><line x1="442.9" y1="1019.9" x2="2225.4" y2="1270.4" stroke-width="4.28"/><line x1="437.3" y1="1059.8" x2="2219.7" y2="1310.3" stroke-width="5.84"/><line x1="432.2" y1="1095.7" x2="2214.7" y2="1346.2" stroke-width="4.28"/><line x1="426.4" y1="1136.8" x2="2208.9" y2="1387.3" stroke-width="4.80"/><line x1="421.6" y1="1171.0" x2="2204.1" y2="1421.5" stroke-width="5.84"/><line x1="507.5" y1="1314.6" x2="758.0" y2="-467.9" stroke-width="5.84"/><line x1="541.5" y1="1319.4" x2="792.0" y2="-463.1" stroke-width="4.80"/><line x1="573.9" y1="1323.9" x2="824.4" y2="-458.6" stroke-width="4.28"/><line x1="593.6" y1="1326.7" x2="844.1" y2="-455.8" stroke-width="5.84"/><line x1="611.1" y1="1329.2" x2="861.6" y2="-453.3" stroke-width="4.28"/><line x1="644.4" y1="1333.8" x2="894.9" y2="-448.6" stroke-width="4.28"/><line x1="687.1" y1="1339.8" x2="937.6" y2="-442.6" stroke-width="5.84"/><line x1="722.6" y1="1344.8" x2="973.1" y2="-437.6" stroke-width="4.28"/><line x1="760.0" y1="1350.1" x2="1010.5" y2="-432.4" stroke-width="4.28"/><line x1="794.2" y1="1354.9" x2="1044.7" y2="-427.6" stroke-width="5.84"/><line x1="814.4" y1="1357.7" x2="1064.9" y2="-424.8" stroke-width="4.28"/><line x1="846.7" y1="1362.3" x2="1097.2" y2="-420.2" stroke-width="4.80"/><line x1="872.8" y1="1365.9" x2="1123.3" y2="-416.5" stroke-width="5.84"/><line x1="889.9" y1="1368.3" x2="1140.4" y2="-414.1" stroke-width="4.80"/><line x1="928.8" y1="1373.8" x2="1179.3" y2="-408.7" stroke-width="4.28"/><line x1="958.8" y1="1378.0" x2="1209.3" y2="-404.5" stroke-width="5.84"/><line x1="987.5" y1="1382.1" x2="1238.1" y2="-400.4" stroke-width="4.80"/><line x1="1025.7" y1="1387.4" x2="1276.2" y2="-395.1" stroke-width="4.80"/><line x1="1053.6" y1="1391.3" x2="1304.1" y2="-391.1" stroke-width="5.84"/><line x1="1071.4" y1="1393.9" x2="1321.9" y2="-388.6" stroke-width="4.80"/><line x1="1093.0" y1="1396.9" x2="1343.6" y2="-385.6" stroke-width="4.80"/><line x1="1132.6" y1="1402.4" x2="1383.1" y2="-380.0" stroke-width="5.84"/><line x1="1150.5" y1="1405.0" x2="1401.0" y2="-377.5" stroke-width="4.28"/><line x1="1170.2" y1="1407.7" x2="1420.7" y2="-374.7" stroke-width="4.28"/><line x1="1187.8" y1="1410.2" x2="1438.3" y2="-372.3" stroke-width="5.84"/><line x1="1214.0" y1="1413.9" x2="1464.5" y2="-368.6" stroke-width="4.28"/><line x1="1253.2" y1="1419.4" x2="1503.7" y2="-363.1" stroke-width="4.80"/><line x1="1272.3" y1="1422.1" x2="1522.8" y2="-360.4" stroke-width="5.84"/><line x1="1313.9" y1="1427.9" x2="1564.4" y2="-354.6" stroke-width="4.80"/><line x1="1345.7" y1="1432.4" x2="1596.3" y2="-350.1" stroke-width="4.28"/><line x1="1371.5" y1="1436.0" x2="1622.0" y2="-346.5" stroke-width="5.84"/><line x1="1409.0" y1="1441.3" x2="1659.6" y2="-341.2" stroke-width="4.28"/><line x1="1443.5" y1="1446.2" x2="1694.0" y2="-336.3" stroke-width="4.80"/><line x1="1469.2" y1="1449.8" x2="1719.7" y2="-332.7" stroke-width="5.84"/><line x1="1494.8" y1="1453.4" x2="1745.3" y2="-329.1" stroke-width="4.80"/><line x1="1527.3" y1="1457.9" x2="1777.8" y2="-324.6" stroke-width="4.28"/><line x1="1569.5" y1="1463.8" x2="1820.0" y2="-318.6" stroke-width="5.84"/><line x1="1601.0" y1="1468.3" x2="1851.5" y2="-314.2" stroke-width="4.28"/><line x1="1643.3" y1="1474.2" x2="1893.8" y2="-308.3" stroke-width="4.80"/><line x1="1660.5" y1="1476.7" x2="1911.1" y2="-305.8" stroke-width="5.84"/><line x1="1698.7" y1="1482.0" x2="1949.2" y2="-300.5" stroke-width="4.28"/><line x1="1733.6" y1="1486.9" x2="1984.1" y2="-295.6" stroke-width="4.80"/><line x1="1751.2" y1="1489.4" x2="2001.8" y2="-293.1" stroke-width="5.84"/><line x1="1772.0" y1="1492.3" x2="2022.5" y2="-290.2" stroke-width="4.80"/><line x1="1792.8" y1="1495.2" x2="2043.3" y2="-287.2" stroke-width="4.28"/><line x1="1810.9" y1="1497.8" x2="2061.5" y2="-284.7" stroke-width="5.84"/><line x1="1850.8" y1="1503.4" x2="2101.3" y2="-279.1" stroke-width="4.80"/><line x1="1881.7" y1="1507.7" x2="2132.2" y2="-274.7" stroke-width="4.80"/><line x1="1911.2" y1="1511.9" x2="2161.7" y2="-270.6" stroke-width="5.84"/><line x1="1944.9" y1="1516.6" x2="2195.4" y2="-265.9" stroke-width="4.80"/><line x1="1962.0" y1="1519.0" x2="2212.5" y2="-263.5" stroke-width="4.28"/><line x1="2004.1" y1="1524.9" x2="2254.7" y2="-257.5" stroke-width="5.84"/><line x1="2026.8" y1="1528.1" x2="2277.4" y2="-254.4" stroke-width="4.28"/><line x1="2047.1" y1="1531.0" x2="2297.6" y2="-251.5" stroke-width="4.80"/><line x1="2074.2" y1="1534.8" x2="2324.7" y2="-247.7" stroke-width="5.84"/></g><g stroke="#fdfdfd"><line x1="640.1" y1="-383.5" x2="2422.6" y2="-133.0" stroke-width="3.64"/><line x1="634.2" y1="-341.7" x2="2416.7" y2="-91.2" stroke-width="2.08"/><line x1="630.7" y1="-316.7" x2="2413.2" y2="-66.1" stroke-width="2.60"/><line x1="625.4" y1="-278.9" x2="2407.9" y2="-28.3" stroke-width="3.64"/><line x1="619.1" y1="-234.3" x2="2401.6" y2="16.2" stroke-width="2.60"/><line x1="616.4" y1="-214.8" x2="2398.9" y2="35.7" stroke-width="2.60"/><line x1="613.4" y1="-193.3" x2="2395.9" y2="57.2" stroke-width="3.64"/><line x1="608.3" y1="-157.4" x2="2390.8" y2="93.1" stroke-width="2.08"/><line x1="603.5" y1="-123.3" x2="2386.0" y2="127.2" stroke-width="2.60"/><line x1="597.4" y1="-79.8" x2="2379.9" y2="170.7" stroke-width="3.64"/><line x1="592.5" y1="-44.7" x2="2375.0" y2="205.8" stroke-width="2.60"/><line x1="587.6" y1="-10.3" x2="2370.1" y2="240.3" stroke-width="2.08"/><line x1="582.5" y1="26.5" x2="2365.0" y2="277.0" stroke-width="3.64"/><line x1="578.1" y1="57.5" x2="2360.6" y2="308.1" stroke-width="2.08"/><line x1="572.6" y1="96.5" x2="2355.1" y2="347.1" stroke-width="2.60"/><line x1="569.7" y1="117.3" x2="2352.2" y2="367.8" stroke-width="3.64"/><line x1="564.7" y1="152.8" x2="2347.2" y2="403.4" stroke-width="2.08"/><line x1="559.0" y1="193.5" x2="2341.5" y2="444.0" stroke-width="2.08"/><line x1="554.1" y1="228.4" x2="2336.6" y2="478.9" stroke-width="3.64"/><line x1="548.0" y1="271.7" x2="2330.5" y2="522.2" stroke-width="2.08"/><line x1="542.1" y1="313.6" x2="2324.6" y2="564.1" stroke-width="2.60"/><line x1="537.7" y1="345.3" x2="2320.2" y2="595.8" stroke-width="3.64"/><line x1="532.5" y1="382.4" x2="2314.9" y2="632.9" stroke-width="2.60"/><line x1="528.0" y1="414.3" x2="2310.5" y2="664.8" stroke-width="2.60"/><line x1="524.2" y1="441.4" x2="2306.7" y2="691.9" stroke-width="3.64"/><line x1="517.4" y1="489.8" x2="2299.8" y2="740.3" stroke-width="2.60"/><line x1="512.1" y1="527.4" x2="2294.6" y2="777.9" stroke-width="2.60"/><line x1="509.4" y1="546.5" x2="2291.9" y2="797.0" stroke-width="3.64"/><line x1="505.0" y1="578.0" x2="2287.5" y2="828.5" stroke-width="2.60"/><line x1="498.3" y1="625.2" x2="2280.8" y2="875.7" stroke-width="2.08"/><line x1="495.2" y1="647.5" x2="2277.7" y2="898.0" stroke-width="3.64"/><line x1="489.7" y1="686.8" x2="2272.2" y2="937.3" stroke-width="2.08"/><line x1="486.1" y1="711.9" x2="2268.6" y2="962.5" stroke-width="2.08"/><line x1="479.8" y1="757.2" x2="2262.3" y2="1007.8" stroke-width="3.64"/><line x1="476.3" y1="782.2" x2="2258.8" y2="1032.7" stroke-width="2.60"/><line x1="472.1" y1="811.9" x2="2254.6" y2="1062.4" stroke-width="2.60"/><line x1="467.4" y1="845.4" x2="2249.9" y2="1095.9" stroke-width="3.64"/><line x1="462.8" y1="878.0" x2="2245.3" y2="1128.5" stroke-width="2.60"/><line x1="458.3" y1="910.1" x2="2240.8" y2="1160.6" stroke-width="2.60"/><line x1="453.6" y1="943.9" x2="2236.0" y2="1194.4" stroke-width="3.64"/><line x1="447.3" y1="988.7" x2="2229.7" y2="1239.2" stroke-width="2.60"/><line x1="442.9" y1="1019.9" x2="2225.4" y2="1270.4" stroke-width="2.08"/><line x1="437.3" y1="1059.8" x2="2219.7" y2="1310.3" stroke-width="3.64"/><line x1="432.2" y1="1095.7" x2="2214.7" y2="1346.2" stroke-width="2.08"/><line x1="426.4" y1="1136.8" x2="2208.9" y2="1387.3" stroke-width="2.60"/><line x1="421.6" y1="1171.0" x2="2204.1" y2="1421.5" stroke-width="3.64"/><line x1="507.5" y1="1314.6" x2="758.0" y2="-467.9" stroke-width="3.64"/><line x1="541.5" y1="1319.4" x2="792.0" y2="-463.1" stroke-width="2.60"/><line x1="573.9" y1="1323.9" x2="824.4" y2="-458.6" stroke-width="2.08"/><line x1="593.6" y1="1326.7" x2="844.1" y2="-455.8" stroke-width="3.64"/><line x1="611.1" y1="1329.2" x2="861.6" y2="-453.3" stroke-width="2.08"/><line x1="644.4" y1="1333.8" x2="894.9" y2="-448.6" stroke-width="2.08"/><line x1="687.1" y1="1339.8" x2="937.6" y2="-442.6" stroke-width="3.64"/><line x1="722.6" y1="1344.8" x2="973.1" y2="-437.6" stroke-width="2.08"/><line x1="760.0" y1="1350.1" x2="1010.5" y2="-432.4" stroke-width="2.08"/><line x1="794.2" y1="1354.9" x2="1044.7" y2="-427.6" stroke-width="3.64"/><line x1="814.4" y1="1357.7" x2="1064.9" y2="-424.8" stroke-width="2.08"/><line x1="846.7" y1="1362.3" x2="1097.2" y2="-420.2" stroke-width="2.60"/><line x1="872.8" y1="1365.9" x2="1123.3" y2="-416.5" stroke-width="3.64"/><line x1="889.9" y1="1368.3" x2="1140.4" y2="-414.1" stroke-width="2.60"/><line x1="928.8" y1="1373.8" x2="1179.3" y2="-408.7" stroke-width="2.08"/><line x1="958.8" y1="1378.0" x2="1209.3" y2="-404.5" stroke-width="3.64"/><line x1="987.5" y1="1382.1" x2="1238.1" y2="-400.4" stroke-width="2.60"/><line x1="1025.7" y1="1387.4" x2="1276.2" y2="-395.1" stroke-width="2.60"/><line x1="1053.6" y1="1391.3" x2="1304.1" y2="-391.1" stroke-width="3.64"/><line x1="1071.4" y1="1393.9" x2="1321.9" y2="-388.6" stroke-width="2.60"/><line x1="1093.0" y1="1396.9" x2="1343.6" y2="-385.6" stroke-width="2.60"/><line x1="1132.6" y1="1402.4" x2="1383.1" y2="-380.0" stroke-width="3.64"/><line x1="1150.5" y1="1405.0" x2="1401.0" y2="-377.5" stroke-width="2.08"/><line x1="1170.2" y1="1407.7" x2="1420.7" y2="-374.7" stroke-width="2.08"/><line x1="1187.8" y1="1410.2" x2="1438.3" y2="-372.3" stroke-width="3.64"/><line x1="1214.0" y1="1413.9" x2="1464.5" y2="-368.6" stroke-width="2.08"/><line x1="1253.2" y1="1419.4" x2="1503.7" y2="-363.1" stroke-width="2.60"/><line x1="1272.3" y1="1422.1" x2="1522.8" y2="-360.4" stroke-width="3.64"/><line x1="1313.9" y1="1427.9" x2="1564.4" y2="-354.6" stroke-width="2.60"/><line x1="1345.7" y1="1432.4" x2="1596.3" y2="-350.1" stroke-width="2.08"/><line x1="1371.5" y1="1436.0" x2="1622.0" y2="-346.5" stroke-width="3.64"/><line x1="1409.0" y1="1441.3" x2="1659.6" y2="-341.2" stroke-width="2.08"/><line x1="1443.5" y1="1446.2" x2="1694.0" y2="-336.3" stroke-width="2.60"/><line x1="1469.2" y1="1449.8" x2="1719.7" y2="-332.7" stroke-width="3.64"/><line x1="1494.8" y1="1453.4" x2="1745.3" y2="-329.1" stroke-width="2.60"/><line x1="1527.3" y1="1457.9" x2="1777.8" y2="-324.6" stroke-width="2.08"/><line x1="1569.5" y1="1463.8" x2="1820.0" y2="-318.6" stroke-width="3.64"/><line x1="1601.0" y1="1468.3" x2="1851.5" y2="-314.2" stroke-width="2.08"/><line x1="1643.3" y1="1474.2" x2="1893.8" y2="-308.3" stroke-width="2.60"/><line x1="1660.5" y1="1476.7" x2="1911.1" y2="-305.8" stroke-width="3.64"/><line x1="1698.7" y1="1482.0" x2="1949.2" y2="-300.5" stroke-width="2.08"/><line x1="1733.6" y1="1486.9" x2="1984.1" y2="-295.6" stroke-width="2.60"/><line x1="1751.2" y1="1489.4" x2="2001.8" y2="-293.1" stroke-width="3.64"/><line x1="1772.0" y1="1492.3" x2="2022.5" y2="-290.2" stroke-width="2.60"/><line x1="1792.8" y1="1495.2" x2="2043.3" y2="-287.2" stroke-width="2.08"/><line x1="1810.9" y1="1497.8" x2="2061.5" y2="-284.7" stroke-width="3.64"/><line x1="1850.8" y1="1503.4" x2="2101.3" y2="-279.1" stroke-width="2.60"/><line x1="1881.7" y1="1507.7" x2="2132.2" y2="-274.7" stroke-width="2.60"/><line x1="1911.2" y1="1511.9" x2="2161.7" y2="-270.6" stroke-width="3.64"/><line x1="1944.9" y1="1516.6" x2="2195.4" y2="-265.9" stroke-width="2.60"/><line x1="1962.0" y1="1519.0" x2="2212.5" y2="-263.5" stroke-width="2.08"/><line x1="2004.1" y1="1524.9" x2="2254.7" y2="-257.5" stroke-width="3.64"/><line x1="2026.8" y1="1528.1" x2="2277.4" y2="-254.4" stroke-width="2.08"/><line x1="2047.1" y1="1531.0" x2="2297.6" y2="-251.5" stroke-width="2.60"/><line x1="2074.2" y1="1534.8" x2="2324.7" y2="-247.7" stroke-width="3.64"/></g></g></g>
<clipPath id="band6"><rect x="1026" y="105" width="791" height="455"/></clipPath>
<g clip-path="url(#qb)"><g clip-path="url(#band6)"><g stroke="#e4e4e3"><line x1="942.4" y1="-571.4" x2="2573.8" y2="189.3" stroke-width="5.84"/><line x1="930.1" y1="-545.0" x2="2561.5" y2="215.7" stroke-width="4.80"/><line x1="921.4" y1="-526.4" x2="2552.8" y2="234.3" stroke-width="4.80"/><line x1="914.1" y1="-510.6" x2="2545.4" y2="250.1" stroke-width="4.28"/><line x1="905.7" y1="-492.7" x2="2537.1" y2="268.0" stroke-width="5.84"/><line x1="897.3" y1="-474.7" x2="2528.7" y2="286.0" stroke-width="4.80"/><line x1="886.2" y1="-450.8" x2="2517.5" y2="309.9" stroke-width="4.80"/><line x1="878.6" y1="-434.6" x2="2510.0" y2="326.1" stroke-width="4.28"/><line x1="871.0" y1="-418.3" x2="2502.4" y2="342.4" stroke-width="5.84"/><line x1="863.4" y1="-401.9" x2="2494.7" y2="358.8" stroke-width="4.28"/><line x1="854.4" y1="-382.7" x2="2485.8" y2="378.0" stroke-width="4.28"/><line x1="841.6" y1="-355.1" x2="2472.9" y2="405.6" stroke-width="4.28"/><line x1="832.8" y1="-336.3" x2="2464.1" y2="424.4" stroke-width="5.84"/><line x1="822.6" y1="-314.4" x2="2453.9" y2="446.3" stroke-width="4.80"/><line x1="811.4" y1="-290.5" x2="2442.8" y2="470.2" stroke-width="4.28"/><line x1="800.0" y1="-266.0" x2="2431.4" y2="494.7" stroke-width="4.80"/><line x1="787.6" y1="-239.5" x2="2419.0" y2="521.2" stroke-width="5.84"/><line x1="780.9" y1="-225.1" x2="2412.3" y2="535.6" stroke-width="4.80"/><line x1="770.3" y1="-202.2" x2="2401.6" y2="558.5" stroke-width="4.80"/><line x1="763.3" y1="-187.3" x2="2394.7" y2="573.4" stroke-width="4.80"/><line x1="754.1" y1="-167.5" x2="2385.4" y2="593.2" stroke-width="5.84"/><line x1="741.3" y1="-140.1" x2="2372.7" y2="620.6" stroke-width="4.28"/><line x1="733.9" y1="-124.2" x2="2365.2" y2="636.5" stroke-width="4.28"/><line x1="720.5" y1="-95.5" x2="2351.8" y2="665.2" stroke-width="4.80"/><line x1="713.5" y1="-80.5" x2="2344.8" y2="680.2" stroke-width="5.84"/><line x1="701.3" y1="-54.4" x2="2332.7" y2="706.4" stroke-width="4.28"/><line x1="689.4" y1="-28.8" x2="2320.8" y2="731.9" stroke-width="4.28"/><line x1="681.0" y1="-10.9" x2="2312.4" y2="749.8" stroke-width="4.80"/><line x1="667.9" y1="17.2" x2="2299.3" y2="777.9" stroke-width="5.84"/><line x1="660.1" y1="33.9" x2="2291.5" y2="794.7" stroke-width="4.28"/><line x1="647.1" y1="61.9" x2="2278.4" y2="822.6" stroke-width="4.80"/><line x1="638.1" y1="81.2" x2="2269.5" y2="841.9" stroke-width="4.28"/><line x1="626.2" y1="106.8" x2="2257.5" y2="867.5" stroke-width="5.84"/><line x1="619.4" y1="121.2" x2="2250.8" y2="881.9" stroke-width="4.80"/><line x1="609.5" y1="142.6" x2="2240.8" y2="903.3" stroke-width="4.28"/><line x1="597.7" y1="167.8" x2="2229.1" y2="928.5" stroke-width="4.80"/><line x1="589.3" y1="185.9" x2="2220.7" y2="946.6" stroke-width="5.84"/><line x1="582.6" y1="200.3" x2="2213.9" y2="961.0" stroke-width="4.28"/><line x1="573.1" y1="220.6" x2="2204.5" y2="981.3" stroke-width="4.80"/><line x1="565.2" y1="237.5" x2="2196.6" y2="998.2" stroke-width="4.80"/><line x1="551.8" y1="266.3" x2="2183.1" y2="1027.0" stroke-width="5.84"/><line x1="538.8" y1="294.2" x2="2170.1" y2="1055.0" stroke-width="4.28"/><line x1="526.2" y1="321.2" x2="2157.5" y2="1081.9" stroke-width="4.80"/><line x1="513.9" y1="347.6" x2="2145.2" y2="1108.3" stroke-width="4.80"/><line x1="501.5" y1="374.1" x2="2132.9" y2="1134.8" stroke-width="5.84"/><line x1="493.8" y1="390.7" x2="2125.1" y2="1151.4" stroke-width="4.80"/><line x1="486.5" y1="406.2" x2="2117.9" y2="1166.9" stroke-width="4.80"/><line x1="474.0" y1="433.1" x2="2105.3" y2="1193.9" stroke-width="4.80"/><line x1="464.0" y1="454.6" x2="2095.3" y2="1215.3" stroke-width="5.84"/><line x1="453.5" y1="477.0" x2="2084.9" y2="1237.7" stroke-width="4.28"/><line x1="445.3" y1="494.6" x2="2076.7" y2="1255.3" stroke-width="4.80"/><line x1="434.7" y1="517.5" x2="2066.0" y2="1278.2" stroke-width="4.80"/><line x1="427.7" y1="532.4" x2="2059.1" y2="1293.1" stroke-width="5.84"/><line x1="417.0" y1="555.4" x2="2048.3" y2="1316.1" stroke-width="4.80"/><line x1="408.8" y1="573.0" x2="2040.2" y2="1333.7" stroke-width="4.80"/><line x1="398.5" y1="594.9" x2="2029.9" y2="1355.7" stroke-width="4.80"/><line x1="391.4" y1="610.3" x2="2022.8" y2="1371.0" stroke-width="5.84"/><line x1="379.5" y1="635.8" x2="2010.8" y2="1396.6" stroke-width="4.28"/><line x1="369.4" y1="657.3" x2="2000.8" y2="1418.0" stroke-width="4.28"/><line x1="356.0" y1="686.2" x2="1987.3" y2="1447.0" stroke-width="4.28"/><line x1="342.6" y1="715.0" x2="1973.9" y2="1475.7" stroke-width="5.84"/><line x1="335.6" y1="730.0" x2="1966.9" y2="1490.7" stroke-width="4.80"/><line x1="322.1" y1="758.8" x2="1953.5" y2="1519.5" stroke-width="4.28"/><line x1="308.9" y1="787.1" x2="1940.3" y2="1547.8" stroke-width="4.28"/><line x1="298.0" y1="810.6" x2="1929.4" y2="1571.3" stroke-width="5.84"/><line x1="290.2" y1="827.3" x2="1921.5" y2="1588.0" stroke-width="4.28"/><line x1="281.4" y1="846.1" x2="1912.8" y2="1606.8" stroke-width="4.80"/><line x1="271.7" y1="867.1" x2="1903.0" y2="1627.8" stroke-width="4.28"/><line x1="322.8" y1="1015.4" x2="1083.5" y2="-616.0" stroke-width="5.84"/><line x1="342.8" y1="1024.7" x2="1103.5" y2="-606.6" stroke-width="4.80"/><line x1="366.8" y1="1035.9" x2="1127.5" y2="-595.4" stroke-width="4.28"/><line x1="402.6" y1="1052.6" x2="1163.3" y2="-578.7" stroke-width="5.84"/><line x1="423.8" y1="1062.5" x2="1184.5" y2="-568.9" stroke-width="4.80"/><line x1="450.1" y1="1074.8" x2="1210.9" y2="-556.6" stroke-width="4.80"/><line x1="471.6" y1="1084.8" x2="1232.3" y2="-546.6" stroke-width="5.84"/><line x1="495.4" y1="1095.9" x2="1256.1" y2="-535.5" stroke-width="4.28"/><line x1="529.6" y1="1111.8" x2="1290.3" y2="-519.5" stroke-width="4.28"/><line x1="550.4" y1="1121.6" x2="1311.2" y2="-509.8" stroke-width="5.84"/><line x1="582.1" y1="1136.3" x2="1342.8" y2="-495.0" stroke-width="4.28"/><line x1="615.2" y1="1151.8" x2="1375.9" y2="-479.6" stroke-width="4.80"/><line x1="637.0" y1="1161.9" x2="1397.7" y2="-469.4" stroke-width="5.84"/><line x1="659.7" y1="1172.5" x2="1420.4" y2="-458.8" stroke-width="4.80"/><line x1="695.9" y1="1189.4" x2="1456.7" y2="-441.9" stroke-width="4.28"/><line x1="728.3" y1="1204.5" x2="1489.0" y2="-426.9" stroke-width="5.84"/><line x1="756.2" y1="1217.5" x2="1516.9" y2="-413.8" stroke-width="4.80"/><line x1="789.6" y1="1233.1" x2="1550.3" y2="-398.3" stroke-width="4.80"/><line x1="817.8" y1="1246.2" x2="1578.5" y2="-385.1" stroke-width="5.84"/><line x1="844.5" y1="1258.7" x2="1605.3" y2="-372.7" stroke-width="4.28"/><line x1="871.7" y1="1271.3" x2="1632.4" y2="-360.0" stroke-width="4.28"/><line x1="892.9" y1="1281.3" x2="1653.7" y2="-350.1" stroke-width="5.84"/><line x1="913.1" y1="1290.7" x2="1673.8" y2="-340.7" stroke-width="4.80"/><line x1="941.7" y1="1304.0" x2="1702.4" y2="-327.3" stroke-width="4.28"/><line x1="970.6" y1="1317.5" x2="1731.3" y2="-313.9" stroke-width="5.84"/><line x1="1003.3" y1="1332.7" x2="1764.0" y2="-298.6" stroke-width="4.80"/><line x1="1022.7" y1="1341.8" x2="1783.4" y2="-289.6" stroke-width="4.28"/><line x1="1049.4" y1="1354.2" x2="1810.1" y2="-277.1" stroke-width="5.84"/><line x1="1068.6" y1="1363.2" x2="1829.3" y2="-268.2" stroke-width="4.28"/><line x1="1096.6" y1="1376.2" x2="1857.3" y2="-255.1" stroke-width="4.28"/><line x1="1132.0" y1="1392.8" x2="1892.7" y2="-238.6" stroke-width="5.84"/><line x1="1164.8" y1="1408.0" x2="1925.5" y2="-223.3" stroke-width="4.28"/><line x1="1201.2" y1="1425.0" x2="1961.9" y2="-206.3" stroke-width="4.28"/><line x1="1233.6" y1="1440.1" x2="1994.3" y2="-191.2" stroke-width="5.84"/><line x1="1260.4" y1="1452.6" x2="2021.1" y2="-178.8" stroke-width="4.80"/><line x1="1281.5" y1="1462.4" x2="2042.2" y2="-168.9" stroke-width="4.80"/><line x1="1301.6" y1="1471.8" x2="2062.3" y2="-159.5" stroke-width="5.84"/><line x1="1332.2" y1="1486.1" x2="2092.9" y2="-145.2" stroke-width="4.80"/><line x1="1352.6" y1="1495.6" x2="2113.3" y2="-135.7" stroke-width="4.80"/><line x1="1384.2" y1="1510.4" x2="2144.9" y2="-121.0" stroke-width="5.84"/><line x1="1419.2" y1="1526.7" x2="2180.0" y2="-104.7" stroke-width="4.80"/><line x1="1455.8" y1="1543.8" x2="2216.6" y2="-87.6" stroke-width="4.28"/><line x1="1490.6" y1="1560.0" x2="2251.3" y2="-71.4" stroke-width="5.84"/><line x1="1511.1" y1="1569.5" x2="2271.8" y2="-61.8" stroke-width="4.28"/><line x1="1540.5" y1="1583.2" x2="2301.2" y2="-48.1" stroke-width="4.80"/><line x1="1558.2" y1="1591.5" x2="2319.0" y2="-39.9" stroke-width="5.84"/><line x1="1586.4" y1="1604.6" x2="2347.1" y2="-26.7" stroke-width="4.28"/><line x1="1618.7" y1="1619.7" x2="2379.4" y2="-11.7" stroke-width="4.80"/><line x1="1644.4" y1="1631.7" x2="2405.1" y2="0.3" stroke-width="5.84"/><line x1="1671.2" y1="1644.2" x2="2431.9" y2="12.8" stroke-width="4.80"/><line x1="1705.4" y1="1660.1" x2="2466.1" y2="28.8" stroke-width="4.28"/><line x1="1727.3" y1="1670.3" x2="2488.0" y2="39.0" stroke-width="5.84"/><line x1="1763.2" y1="1687.1" x2="2523.9" y2="55.7" stroke-width="4.80"/></g><g stroke="#fdfdfd"><line x1="942.4" y1="-571.4" x2="2573.8" y2="189.3" stroke-width="3.64"/><line x1="930.1" y1="-545.0" x2="2561.5" y2="215.7" stroke-width="2.60"/><line x1="921.4" y1="-526.4" x2="2552.8" y2="234.3" stroke-width="2.60"/><line x1="914.1" y1="-510.6" x2="2545.4" y2="250.1" stroke-width="2.08"/><line x1="905.7" y1="-492.7" x2="2537.1" y2="268.0" stroke-width="3.64"/><line x1="897.3" y1="-474.7" x2="2528.7" y2="286.0" stroke-width="2.60"/><line x1="886.2" y1="-450.8" x2="2517.5" y2="309.9" stroke-width="2.60"/><line x1="878.6" y1="-434.6" x2="2510.0" y2="326.1" stroke-width="2.08"/><line x1="871.0" y1="-418.3" x2="2502.4" y2="342.4" stroke-width="3.64"/><line x1="863.4" y1="-401.9" x2="2494.7" y2="358.8" stroke-width="2.08"/><line x1="854.4" y1="-382.7" x2="2485.8" y2="378.0" stroke-width="2.08"/><line x1="841.6" y1="-355.1" x2="2472.9" y2="405.6" stroke-width="2.08"/><line x1="832.8" y1="-336.3" x2="2464.1" y2="424.4" stroke-width="3.64"/><line x1="822.6" y1="-314.4" x2="2453.9" y2="446.3" stroke-width="2.60"/><line x1="811.4" y1="-290.5" x2="2442.8" y2="470.2" stroke-width="2.08"/><line x1="800.0" y1="-266.0" x2="2431.4" y2="494.7" stroke-width="2.60"/><line x1="787.6" y1="-239.5" x2="2419.0" y2="521.2" stroke-width="3.64"/><line x1="780.9" y1="-225.1" x2="2412.3" y2="535.6" stroke-width="2.60"/><line x1="770.3" y1="-202.2" x2="2401.6" y2="558.5" stroke-width="2.60"/><line x1="763.3" y1="-187.3" x2="2394.7" y2="573.4" stroke-width="2.60"/><line x1="754.1" y1="-167.5" x2="2385.4" y2="593.2" stroke-width="3.64"/><line x1="741.3" y1="-140.1" x2="2372.7" y2="620.6" stroke-width="2.08"/><line x1="733.9" y1="-124.2" x2="2365.2" y2="636.5" stroke-width="2.08"/><line x1="720.5" y1="-95.5" x2="2351.8" y2="665.2" stroke-width="2.60"/><line x1="713.5" y1="-80.5" x2="2344.8" y2="680.2" stroke-width="3.64"/><line x1="701.3" y1="-54.4" x2="2332.7" y2="706.4" stroke-width="2.08"/><line x1="689.4" y1="-28.8" x2="2320.8" y2="731.9" stroke-width="2.08"/><line x1="681.0" y1="-10.9" x2="2312.4" y2="749.8" stroke-width="2.60"/><line x1="667.9" y1="17.2" x2="2299.3" y2="777.9" stroke-width="3.64"/><line x1="660.1" y1="33.9" x2="2291.5" y2="794.7" stroke-width="2.08"/><line x1="647.1" y1="61.9" x2="2278.4" y2="822.6" stroke-width="2.60"/><line x1="638.1" y1="81.2" x2="2269.5" y2="841.9" stroke-width="2.08"/><line x1="626.2" y1="106.8" x2="2257.5" y2="867.5" stroke-width="3.64"/><line x1="619.4" y1="121.2" x2="2250.8" y2="881.9" stroke-width="2.60"/><line x1="609.5" y1="142.6" x2="2240.8" y2="903.3" stroke-width="2.08"/><line x1="597.7" y1="167.8" x2="2229.1" y2="928.5" stroke-width="2.60"/><line x1="589.3" y1="185.9" x2="2220.7" y2="946.6" stroke-width="3.64"/><line x1="582.6" y1="200.3" x2="2213.9" y2="961.0" stroke-width="2.08"/><line x1="573.1" y1="220.6" x2="2204.5" y2="981.3" stroke-width="2.60"/><line x1="565.2" y1="237.5" x2="2196.6" y2="998.2" stroke-width="2.60"/><line x1="551.8" y1="266.3" x2="2183.1" y2="1027.0" stroke-width="3.64"/><line x1="538.8" y1="294.2" x2="2170.1" y2="1055.0" stroke-width="2.08"/><line x1="526.2" y1="321.2" x2="2157.5" y2="1081.9" stroke-width="2.60"/><line x1="513.9" y1="347.6" x2="2145.2" y2="1108.3" stroke-width="2.60"/><line x1="501.5" y1="374.1" x2="2132.9" y2="1134.8" stroke-width="3.64"/><line x1="493.8" y1="390.7" x2="2125.1" y2="1151.4" stroke-width="2.60"/><line x1="486.5" y1="406.2" x2="2117.9" y2="1166.9" stroke-width="2.60"/><line x1="474.0" y1="433.1" x2="2105.3" y2="1193.9" stroke-width="2.60"/><line x1="464.0" y1="454.6" x2="2095.3" y2="1215.3" stroke-width="3.64"/><line x1="453.5" y1="477.0" x2="2084.9" y2="1237.7" stroke-width="2.08"/><line x1="445.3" y1="494.6" x2="2076.7" y2="1255.3" stroke-width="2.60"/><line x1="434.7" y1="517.5" x2="2066.0" y2="1278.2" stroke-width="2.60"/><line x1="427.7" y1="532.4" x2="2059.1" y2="1293.1" stroke-width="3.64"/><line x1="417.0" y1="555.4" x2="2048.3" y2="1316.1" stroke-width="2.60"/><line x1="408.8" y1="573.0" x2="2040.2" y2="1333.7" stroke-width="2.60"/><line x1="398.5" y1="594.9" x2="2029.9" y2="1355.7" stroke-width="2.60"/><line x1="391.4" y1="610.3" x2="2022.8" y2="1371.0" stroke-width="3.64"/><line x1="379.5" y1="635.8" x2="2010.8" y2="1396.6" stroke-width="2.08"/><line x1="369.4" y1="657.3" x2="2000.8" y2="1418.0" stroke-width="2.08"/><line x1="356.0" y1="686.2" x2="1987.3" y2="1447.0" stroke-width="2.08"/><line x1="342.6" y1="715.0" x2="1973.9" y2="1475.7" stroke-width="3.64"/><line x1="335.6" y1="730.0" x2="1966.9" y2="1490.7" stroke-width="2.60"/><line x1="322.1" y1="758.8" x2="1953.5" y2="1519.5" stroke-width="2.08"/><line x1="308.9" y1="787.1" x2="1940.3" y2="1547.8" stroke-width="2.08"/><line x1="298.0" y1="810.6" x2="1929.4" y2="1571.3" stroke-width="3.64"/><line x1="290.2" y1="827.3" x2="1921.5" y2="1588.0" stroke-width="2.08"/><line x1="281.4" y1="846.1" x2="1912.8" y2="1606.8" stroke-width="2.60"/><line x1="271.7" y1="867.1" x2="1903.0" y2="1627.8" stroke-width="2.08"/><line x1="322.8" y1="1015.4" x2="1083.5" y2="-616.0" stroke-width="3.64"/><line x1="342.8" y1="1024.7" x2="1103.5" y2="-606.6" stroke-width="2.60"/><line x1="366.8" y1="1035.9" x2="1127.5" y2="-595.4" stroke-width="2.08"/><line x1="402.6" y1="1052.6" x2="1163.3" y2="-578.7" stroke-width="3.64"/><line x1="423.8" y1="1062.5" x2="1184.5" y2="-568.9" stroke-width="2.60"/><line x1="450.1" y1="1074.8" x2="1210.9" y2="-556.6" stroke-width="2.60"/><line x1="471.6" y1="1084.8" x2="1232.3" y2="-546.6" stroke-width="3.64"/><line x1="495.4" y1="1095.9" x2="1256.1" y2="-535.5" stroke-width="2.08"/><line x1="529.6" y1="1111.8" x2="1290.3" y2="-519.5" stroke-width="2.08"/><line x1="550.4" y1="1121.6" x2="1311.2" y2="-509.8" stroke-width="3.64"/><line x1="582.1" y1="1136.3" x2="1342.8" y2="-495.0" stroke-width="2.08"/><line x1="615.2" y1="1151.8" x2="1375.9" y2="-479.6" stroke-width="2.60"/><line x1="637.0" y1="1161.9" x2="1397.7" y2="-469.4" stroke-width="3.64"/><line x1="659.7" y1="1172.5" x2="1420.4" y2="-458.8" stroke-width="2.60"/><line x1="695.9" y1="1189.4" x2="1456.7" y2="-441.9" stroke-width="2.08"/><line x1="728.3" y1="1204.5" x2="1489.0" y2="-426.9" stroke-width="3.64"/><line x1="756.2" y1="1217.5" x2="1516.9" y2="-413.8" stroke-width="2.60"/><line x1="789.6" y1="1233.1" x2="1550.3" y2="-398.3" stroke-width="2.60"/><line x1="817.8" y1="1246.2" x2="1578.5" y2="-385.1" stroke-width="3.64"/><line x1="844.5" y1="1258.7" x2="1605.3" y2="-372.7" stroke-width="2.08"/><line x1="871.7" y1="1271.3" x2="1632.4" y2="-360.0" stroke-width="2.08"/><line x1="892.9" y1="1281.3" x2="1653.7" y2="-350.1" stroke-width="3.64"/><line x1="913.1" y1="1290.7" x2="1673.8" y2="-340.7" stroke-width="2.60"/><line x1="941.7" y1="1304.0" x2="1702.4" y2="-327.3" stroke-width="2.08"/><line x1="970.6" y1="1317.5" x2="1731.3" y2="-313.9" stroke-width="3.64"/><line x1="1003.3" y1="1332.7" x2="1764.0" y2="-298.6" stroke-width="2.60"/><line x1="1022.7" y1="1341.8" x2="1783.4" y2="-289.6" stroke-width="2.08"/><line x1="1049.4" y1="1354.2" x2="1810.1" y2="-277.1" stroke-width="3.64"/><line x1="1068.6" y1="1363.2" x2="1829.3" y2="-268.2" stroke-width="2.08"/><line x1="1096.6" y1="1376.2" x2="1857.3" y2="-255.1" stroke-width="2.08"/><line x1="1132.0" y1="1392.8" x2="1892.7" y2="-238.6" stroke-width="3.64"/><line x1="1164.8" y1="1408.0" x2="1925.5" y2="-223.3" stroke-width="2.08"/><line x1="1201.2" y1="1425.0" x2="1961.9" y2="-206.3" stroke-width="2.08"/><line x1="1233.6" y1="1440.1" x2="1994.3" y2="-191.2" stroke-width="3.64"/><line x1="1260.4" y1="1452.6" x2="2021.1" y2="-178.8" stroke-width="2.60"/><line x1="1281.5" y1="1462.4" x2="2042.2" y2="-168.9" stroke-width="2.60"/><line x1="1301.6" y1="1471.8" x2="2062.3" y2="-159.5" stroke-width="3.64"/><line x1="1332.2" y1="1486.1" x2="2092.9" y2="-145.2" stroke-width="2.60"/><line x1="1352.6" y1="1495.6" x2="2113.3" y2="-135.7" stroke-width="2.60"/><line x1="1384.2" y1="1510.4" x2="2144.9" y2="-121.0" stroke-width="3.64"/><line x1="1419.2" y1="1526.7" x2="2180.0" y2="-104.7" stroke-width="2.60"/><line x1="1455.8" y1="1543.8" x2="2216.6" y2="-87.6" stroke-width="2.08"/><line x1="1490.6" y1="1560.0" x2="2251.3" y2="-71.4" stroke-width="3.64"/><line x1="1511.1" y1="1569.5" x2="2271.8" y2="-61.8" stroke-width="2.08"/><line x1="1540.5" y1="1583.2" x2="2301.2" y2="-48.1" stroke-width="2.60"/><line x1="1558.2" y1="1591.5" x2="2319.0" y2="-39.9" stroke-width="3.64"/><line x1="1586.4" y1="1604.6" x2="2347.1" y2="-26.7" stroke-width="2.08"/><line x1="1618.7" y1="1619.7" x2="2379.4" y2="-11.7" stroke-width="2.60"/><line x1="1644.4" y1="1631.7" x2="2405.1" y2="0.3" stroke-width="3.64"/><line x1="1671.2" y1="1644.2" x2="2431.9" y2="12.8" stroke-width="2.60"/><line x1="1705.4" y1="1660.1" x2="2466.1" y2="28.8" stroke-width="2.08"/><line x1="1727.3" y1="1670.3" x2="2488.0" y2="39.0" stroke-width="3.64"/><line x1="1763.2" y1="1687.1" x2="2523.9" y2="55.7" stroke-width="2.60"/></g></g></g>
<clipPath id="band7"><rect x="1026" y="560" width="791" height="403"/></clipPath>
<g clip-path="url(#qb)"><g clip-path="url(#band7)"><g stroke="#e4e4e3"><line x1="466.4" y1="-201.3" x2="2262.0" y2="-326.8" stroke-width="5.58"/><line x1="469.8" y1="-152.3" x2="2265.4" y2="-277.8" stroke-width="4.28"/><line x1="472.6" y1="-112.0" x2="2268.2" y2="-237.6" stroke-width="4.80"/><line x1="475.1" y1="-77.0" x2="2270.7" y2="-202.5" stroke-width="5.58"/><line x1="478.1" y1="-34.4" x2="2273.7" y2="-159.9" stroke-width="4.80"/><line x1="480.0" y1="-7.0" x2="2275.6" y2="-132.6" stroke-width="4.80"/><line x1="482.4" y1="27.4" x2="2278.0" y2="-98.2" stroke-width="5.58"/><line x1="485.9" y1="78.0" x2="2281.5" y2="-47.6" stroke-width="4.80"/><line x1="489.6" y1="130.6" x2="2285.2" y2="5.0" stroke-width="4.28"/><line x1="492.5" y1="172.7" x2="2288.2" y2="47.1" stroke-width="5.58"/><line x1="496.2" y1="224.7" x2="2291.8" y2="99.1" stroke-width="4.28"/><line x1="498.1" y1="252.3" x2="2293.7" y2="126.7" stroke-width="4.80"/><line x1="500.6" y1="288.6" x2="2296.3" y2="163.0" stroke-width="5.58"/><line x1="504.1" y1="338.2" x2="2299.7" y2="212.6" stroke-width="4.80"/><line x1="505.8" y1="362.7" x2="2301.4" y2="237.1" stroke-width="4.80"/><line x1="509.2" y1="410.7" x2="2304.8" y2="285.2" stroke-width="5.58"/><line x1="511.8" y1="448.7" x2="2307.5" y2="323.2" stroke-width="4.80"/><line x1="514.8" y1="490.9" x2="2310.4" y2="365.3" stroke-width="4.28"/><line x1="518.2" y1="540.1" x2="2313.8" y2="414.5" stroke-width="5.58"/><line x1="520.4" y1="571.5" x2="2316.0" y2="445.9" stroke-width="4.28"/><line x1="523.9" y1="621.0" x2="2319.5" y2="495.4" stroke-width="4.80"/><line x1="526.0" y1="651.1" x2="2321.6" y2="525.5" stroke-width="5.58"/><line x1="529.1" y1="695.0" x2="2324.7" y2="569.4" stroke-width="4.28"/><line x1="532.0" y1="736.4" x2="2327.6" y2="610.8" stroke-width="4.80"/><line x1="533.6" y1="760.6" x2="2329.3" y2="635.0" stroke-width="5.58"/><line x1="537.3" y1="813.4" x2="2333.0" y2="687.9" stroke-width="4.28"/><line x1="540.2" y1="854.0" x2="2335.8" y2="728.4" stroke-width="4.80"/><line x1="542.7" y1="889.7" x2="2338.3" y2="764.1" stroke-width="5.58"/><line x1="546.3" y1="942.1" x2="2342.0" y2="816.5" stroke-width="4.28"/><line x1="548.2" y1="968.9" x2="2343.8" y2="843.4" stroke-width="4.80"/><line x1="550.7" y1="1004.9" x2="2346.3" y2="879.3" stroke-width="5.58"/><line x1="553.9" y1="1050.4" x2="2349.5" y2="924.8" stroke-width="4.80"/><line x1="557.7" y1="1104.2" x2="2353.3" y2="978.6" stroke-width="4.80"/><line x1="560.0" y1="1137.2" x2="2355.6" y2="1011.6" stroke-width="5.58"/><line x1="562.3" y1="1170.5" x2="2357.9" y2="1044.9" stroke-width="4.28"/><line x1="565.0" y1="1209.2" x2="2360.6" y2="1083.6" stroke-width="4.80"/><line x1="567.4" y1="1242.9" x2="2363.0" y2="1117.4" stroke-width="5.58"/><line x1="569.2" y1="1269.4" x2="2364.8" y2="1143.8" stroke-width="4.80"/><line x1="572.4" y1="1315.2" x2="2368.0" y2="1189.7" stroke-width="4.80"/><line x1="574.3" y1="1342.4" x2="2369.9" y2="1216.9" stroke-width="5.58"/><line x1="577.1" y1="1381.3" x2="2372.7" y2="1255.8" stroke-width="4.80"/><line x1="511.4" y1="1315.2" x2="762.0" y2="-467.3" stroke-width="5.58"/><line x1="541.8" y1="1319.4" x2="792.4" y2="-463.1" stroke-width="4.28"/><line x1="590.7" y1="1326.3" x2="841.2" y2="-456.2" stroke-width="4.28"/><line x1="614.1" y1="1329.6" x2="864.6" y2="-452.9" stroke-width="5.58"/><line x1="666.6" y1="1337.0" x2="917.1" y2="-445.5" stroke-width="4.28"/><line x1="692.9" y1="1340.7" x2="943.4" y2="-441.8" stroke-width="4.80"/><line x1="744.1" y1="1347.9" x2="994.6" y2="-434.6" stroke-width="5.58"/><line x1="779.1" y1="1352.8" x2="1029.6" y2="-429.7" stroke-width="4.28"/><line x1="811.2" y1="1357.3" x2="1061.7" y2="-425.2" stroke-width="4.80"/><line x1="843.7" y1="1361.8" x2="1094.2" y2="-420.6" stroke-width="5.58"/><line x1="885.1" y1="1367.7" x2="1135.6" y2="-414.8" stroke-width="4.80"/><line x1="919.9" y1="1372.6" x2="1170.4" y2="-409.9" stroke-width="4.28"/><line x1="959.7" y1="1378.2" x2="1210.2" y2="-404.3" stroke-width="5.58"/><line x1="988.4" y1="1382.2" x2="1238.9" y2="-400.3" stroke-width="4.28"/><line x1="1016.7" y1="1386.2" x2="1267.2" y2="-396.3" stroke-width="4.80"/><line x1="1048.5" y1="1390.6" x2="1299.0" y2="-391.9" stroke-width="5.58"/><line x1="1076.0" y1="1394.5" x2="1326.5" y2="-388.0" stroke-width="4.28"/><line x1="1125.8" y1="1401.5" x2="1376.3" y2="-381.0" stroke-width="4.80"/><line x1="1169.6" y1="1407.7" x2="1420.1" y2="-374.8" stroke-width="5.58"/><line x1="1209.5" y1="1413.3" x2="1460.0" y2="-369.2" stroke-width="4.28"/><line x1="1232.4" y1="1416.5" x2="1483.0" y2="-366.0" stroke-width="4.80"/><line x1="1263.4" y1="1420.8" x2="1513.9" y2="-361.6" stroke-width="5.58"/><line x1="1304.1" y1="1426.6" x2="1554.6" y2="-355.9" stroke-width="4.80"/><line x1="1353.9" y1="1433.6" x2="1604.4" y2="-348.9" stroke-width="4.80"/><line x1="1393.2" y1="1439.1" x2="1643.8" y2="-343.4" stroke-width="5.58"/><line x1="1420.5" y1="1442.9" x2="1671.0" y2="-339.6" stroke-width="4.80"/><line x1="1471.1" y1="1450.0" x2="1721.6" y2="-332.5" stroke-width="4.28"/><line x1="1514.4" y1="1456.1" x2="1764.9" y2="-326.4" stroke-width="5.58"/><line x1="1547.4" y1="1460.7" x2="1797.9" y2="-321.7" stroke-width="4.28"/><line x1="1597.3" y1="1467.8" x2="1847.8" y2="-314.7" stroke-width="4.28"/><line x1="1635.5" y1="1473.1" x2="1886.0" y2="-309.4" stroke-width="5.58"/><line x1="1663.2" y1="1477.0" x2="1913.8" y2="-305.5" stroke-width="4.28"/><line x1="1711.1" y1="1483.8" x2="1961.6" y2="-298.7" stroke-width="4.28"/><line x1="1757.3" y1="1490.2" x2="2007.8" y2="-292.2" stroke-width="5.58"/><line x1="1779.9" y1="1493.4" x2="2030.4" y2="-289.1" stroke-width="4.80"/><line x1="1822.7" y1="1499.4" x2="2073.2" y2="-283.0" stroke-width="4.80"/><line x1="1874.0" y1="1506.6" x2="2124.5" y2="-275.8" stroke-width="5.58"/><line x1="1921.7" y1="1513.4" x2="2172.2" y2="-269.1" stroke-width="4.28"/><line x1="1947.8" y1="1517.0" x2="2198.3" y2="-265.5" stroke-width="4.80"/><line x1="1987.2" y1="1522.6" x2="2237.7" y2="-259.9" stroke-width="5.58"/><line x1="2012.0" y1="1526.0" x2="2262.5" y2="-256.4" stroke-width="4.28"/><line x1="2037.3" y1="1529.6" x2="2287.9" y2="-252.9" stroke-width="4.80"/><line x1="2079.3" y1="1535.5" x2="2329.8" y2="-247.0" stroke-width="5.58"/><line x1="1124.4" y1="-613.0" x2="2598.9" y2="419.5" stroke-width="4.54"/><line x1="1058.8" y1="-519.2" x2="2533.2" y2="513.2" stroke-width="4.54"/><line x1="1018.8" y1="-462.1" x2="2493.2" y2="570.3" stroke-width="4.54"/><line x1="979.8" y1="-406.4" x2="2454.3" y2="626.0" stroke-width="4.54"/><line x1="919.7" y1="-320.5" x2="2394.1" y2="711.9" stroke-width="4.54"/><line x1="855.4" y1="-228.8" x2="2329.9" y2="803.7" stroke-width="4.54"/><line x1="794.5" y1="-141.8" x2="2269.0" y2="890.6" stroke-width="4.54"/><line x1="745.3" y1="-71.5" x2="2219.8" y2="960.9" stroke-width="4.54"/><line x1="713.2" y1="-25.6" x2="2187.6" y2="1006.8" stroke-width="4.54"/><line x1="642.6" y1="75.1" x2="2117.1" y2="1107.6" stroke-width="4.54"/><line x1="583.5" y1="159.6" x2="2058.0" y2="1192.0" stroke-width="4.54"/><line x1="513.2" y1="260.0" x2="1987.6" y2="1292.4" stroke-width="4.54"/><line x1="453.8" y1="344.8" x2="1928.3" y2="1377.2" stroke-width="4.54"/><line x1="388.0" y1="438.7" x2="1862.5" y2="1471.2" stroke-width="4.54"/><line x1="328.9" y1="523.2" x2="1803.4" y2="1555.6" stroke-width="4.54"/><line x1="294.8" y1="571.8" x2="1769.3" y2="1604.2" stroke-width="4.54"/><line x1="236.6" y1="655.0" x2="1711.1" y2="1687.4" stroke-width="4.54"/></g><g stroke="#fdfdfd"><line x1="466.4" y1="-201.3" x2="2262.0" y2="-326.8" stroke-width="3.38"/><line x1="469.8" y1="-152.3" x2="2265.4" y2="-277.8" stroke-width="2.08"/><line x1="472.6" y1="-112.0" x2="2268.2" y2="-237.6" stroke-width="2.60"/><line x1="475.1" y1="-77.0" x2="2270.7" y2="-202.5" stroke-width="3.38"/><line x1="478.1" y1="-34.4" x2="2273.7" y2="-159.9" stroke-width="2.60"/><line x1="480.0" y1="-7.0" x2="2275.6" y2="-132.6" stroke-width="2.60"/><line x1="482.4" y1="27.4" x2="2278.0" y2="-98.2" stroke-width="3.38"/><line x1="485.9" y1="78.0" x2="2281.5" y2="-47.6" stroke-width="2.60"/><line x1="489.6" y1="130.6" x2="2285.2" y2="5.0" stroke-width="2.08"/><line x1="492.5" y1="172.7" x2="2288.2" y2="47.1" stroke-width="3.38"/><line x1="496.2" y1="224.7" x2="2291.8" y2="99.1" stroke-width="2.08"/><line x1="498.1" y1="252.3" x2="2293.7" y2="126.7" stroke-width="2.60"/><line x1="500.6" y1="288.6" x2="2296.3" y2="163.0" stroke-width="3.38"/><line x1="504.1" y1="338.2" x2="2299.7" y2="212.6" stroke-width="2.60"/><line x1="505.8" y1="362.7" x2="2301.4" y2="237.1" stroke-width="2.60"/><line x1="509.2" y1="410.7" x2="2304.8" y2="285.2" stroke-width="3.38"/><line x1="511.8" y1="448.7" x2="2307.5" y2="323.2" stroke-width="2.60"/><line x1="514.8" y1="490.9" x2="2310.4" y2="365.3" stroke-width="2.08"/><line x1="518.2" y1="540.1" x2="2313.8" y2="414.5" stroke-width="3.38"/><line x1="520.4" y1="571.5" x2="2316.0" y2="445.9" stroke-width="2.08"/><line x1="523.9" y1="621.0" x2="2319.5" y2="495.4" stroke-width="2.60"/><line x1="526.0" y1="651.1" x2="2321.6" y2="525.5" stroke-width="3.38"/><line x1="529.1" y1="695.0" x2="2324.7" y2="569.4" stroke-width="2.08"/><line x1="532.0" y1="736.4" x2="2327.6" y2="610.8" stroke-width="2.60"/><line x1="533.6" y1="760.6" x2="2329.3" y2="635.0" stroke-width="3.38"/><line x1="537.3" y1="813.4" x2="2333.0" y2="687.9" stroke-width="2.08"/><line x1="540.2" y1="854.0" x2="2335.8" y2="728.4" stroke-width="2.60"/><line x1="542.7" y1="889.7" x2="2338.3" y2="764.1" stroke-width="3.38"/><line x1="546.3" y1="942.1" x2="2342.0" y2="816.5" stroke-width="2.08"/><line x1="548.2" y1="968.9" x2="2343.8" y2="843.4" stroke-width="2.60"/><line x1="550.7" y1="1004.9" x2="2346.3" y2="879.3" stroke-width="3.38"/><line x1="553.9" y1="1050.4" x2="2349.5" y2="924.8" stroke-width="2.60"/><line x1="557.7" y1="1104.2" x2="2353.3" y2="978.6" stroke-width="2.60"/><line x1="560.0" y1="1137.2" x2="2355.6" y2="1011.6" stroke-width="3.38"/><line x1="562.3" y1="1170.5" x2="2357.9" y2="1044.9" stroke-width="2.08"/><line x1="565.0" y1="1209.2" x2="2360.6" y2="1083.6" stroke-width="2.60"/><line x1="567.4" y1="1242.9" x2="2363.0" y2="1117.4" stroke-width="3.38"/><line x1="569.2" y1="1269.4" x2="2364.8" y2="1143.8" stroke-width="2.60"/><line x1="572.4" y1="1315.2" x2="2368.0" y2="1189.7" stroke-width="2.60"/><line x1="574.3" y1="1342.4" x2="2369.9" y2="1216.9" stroke-width="3.38"/><line x1="577.1" y1="1381.3" x2="2372.7" y2="1255.8" stroke-width="2.60"/><line x1="511.4" y1="1315.2" x2="762.0" y2="-467.3" stroke-width="3.38"/><line x1="541.8" y1="1319.4" x2="792.4" y2="-463.1" stroke-width="2.08"/><line x1="590.7" y1="1326.3" x2="841.2" y2="-456.2" stroke-width="2.08"/><line x1="614.1" y1="1329.6" x2="864.6" y2="-452.9" stroke-width="3.38"/><line x1="666.6" y1="1337.0" x2="917.1" y2="-445.5" stroke-width="2.08"/><line x1="692.9" y1="1340.7" x2="943.4" y2="-441.8" stroke-width="2.60"/><line x1="744.1" y1="1347.9" x2="994.6" y2="-434.6" stroke-width="3.38"/><line x1="779.1" y1="1352.8" x2="1029.6" y2="-429.7" stroke-width="2.08"/><line x1="811.2" y1="1357.3" x2="1061.7" y2="-425.2" stroke-width="2.60"/><line x1="843.7" y1="1361.8" x2="1094.2" y2="-420.6" stroke-width="3.38"/><line x1="885.1" y1="1367.7" x2="1135.6" y2="-414.8" stroke-width="2.60"/><line x1="919.9" y1="1372.6" x2="1170.4" y2="-409.9" stroke-width="2.08"/><line x1="959.7" y1="1378.2" x2="1210.2" y2="-404.3" stroke-width="3.38"/><line x1="988.4" y1="1382.2" x2="1238.9" y2="-400.3" stroke-width="2.08"/><line x1="1016.7" y1="1386.2" x2="1267.2" y2="-396.3" stroke-width="2.60"/><line x1="1048.5" y1="1390.6" x2="1299.0" y2="-391.9" stroke-width="3.38"/><line x1="1076.0" y1="1394.5" x2="1326.5" y2="-388.0" stroke-width="2.08"/><line x1="1125.8" y1="1401.5" x2="1376.3" y2="-381.0" stroke-width="2.60"/><line x1="1169.6" y1="1407.7" x2="1420.1" y2="-374.8" stroke-width="3.38"/><line x1="1209.5" y1="1413.3" x2="1460.0" y2="-369.2" stroke-width="2.08"/><line x1="1232.4" y1="1416.5" x2="1483.0" y2="-366.0" stroke-width="2.60"/><line x1="1263.4" y1="1420.8" x2="1513.9" y2="-361.6" stroke-width="3.38"/><line x1="1304.1" y1="1426.6" x2="1554.6" y2="-355.9" stroke-width="2.60"/><line x1="1353.9" y1="1433.6" x2="1604.4" y2="-348.9" stroke-width="2.60"/><line x1="1393.2" y1="1439.1" x2="1643.8" y2="-343.4" stroke-width="3.38"/><line x1="1420.5" y1="1442.9" x2="1671.0" y2="-339.6" stroke-width="2.60"/><line x1="1471.1" y1="1450.0" x2="1721.6" y2="-332.5" stroke-width="2.08"/><line x1="1514.4" y1="1456.1" x2="1764.9" y2="-326.4" stroke-width="3.38"/><line x1="1547.4" y1="1460.7" x2="1797.9" y2="-321.7" stroke-width="2.08"/><line x1="1597.3" y1="1467.8" x2="1847.8" y2="-314.7" stroke-width="2.08"/><line x1="1635.5" y1="1473.1" x2="1886.0" y2="-309.4" stroke-width="3.38"/><line x1="1663.2" y1="1477.0" x2="1913.8" y2="-305.5" stroke-width="2.08"/><line x1="1711.1" y1="1483.8" x2="1961.6" y2="-298.7" stroke-width="2.08"/><line x1="1757.3" y1="1490.2" x2="2007.8" y2="-292.2" stroke-width="3.38"/><line x1="1779.9" y1="1493.4" x2="2030.4" y2="-289.1" stroke-width="2.60"/><line x1="1822.7" y1="1499.4" x2="2073.2" y2="-283.0" stroke-width="2.60"/><line x1="1874.0" y1="1506.6" x2="2124.5" y2="-275.8" stroke-width="3.38"/><line x1="1921.7" y1="1513.4" x2="2172.2" y2="-269.1" stroke-width="2.08"/><line x1="1947.8" y1="1517.0" x2="2198.3" y2="-265.5" stroke-width="2.60"/><line x1="1987.2" y1="1522.6" x2="2237.7" y2="-259.9" stroke-width="3.38"/><line x1="2012.0" y1="1526.0" x2="2262.5" y2="-256.4" stroke-width="2.08"/><line x1="2037.3" y1="1529.6" x2="2287.9" y2="-252.9" stroke-width="2.60"/><line x1="2079.3" y1="1535.5" x2="2329.8" y2="-247.0" stroke-width="3.38"/><line x1="1124.4" y1="-613.0" x2="2598.9" y2="419.5" stroke-width="2.34"/><line x1="1058.8" y1="-519.2" x2="2533.2" y2="513.2" stroke-width="2.34"/><line x1="1018.8" y1="-462.1" x2="2493.2" y2="570.3" stroke-width="2.34"/><line x1="979.8" y1="-406.4" x2="2454.3" y2="626.0" stroke-width="2.34"/><line x1="919.7" y1="-320.5" x2="2394.1" y2="711.9" stroke-width="2.34"/><line x1="855.4" y1="-228.8" x2="2329.9" y2="803.7" stroke-width="2.34"/><line x1="794.5" y1="-141.8" x2="2269.0" y2="890.6" stroke-width="2.34"/><line x1="745.3" y1="-71.5" x2="2219.8" y2="960.9" stroke-width="2.34"/><line x1="713.2" y1="-25.6" x2="2187.6" y2="1006.8" stroke-width="2.34"/><line x1="642.6" y1="75.1" x2="2117.1" y2="1107.6" stroke-width="2.34"/><line x1="583.5" y1="159.6" x2="2058.0" y2="1192.0" stroke-width="2.34"/><line x1="513.2" y1="260.0" x2="1987.6" y2="1292.4" stroke-width="2.34"/><line x1="453.8" y1="344.8" x2="1928.3" y2="1377.2" stroke-width="2.34"/><line x1="388.0" y1="438.7" x2="1862.5" y2="1471.2" stroke-width="2.34"/><line x1="328.9" y1="523.2" x2="1803.4" y2="1555.6" stroke-width="2.34"/><line x1="294.8" y1="571.8" x2="1769.3" y2="1604.2" stroke-width="2.34"/><line x1="236.6" y1="655.0" x2="1711.1" y2="1687.4" stroke-width="2.34"/></g></g></g>
<polyline points="1026.0,121.0 1080.0,150.0 1130.0,178.0 1162.0,196.0" fill="none" stroke="#e4e4e3" stroke-width="9.1" stroke-linejoin="round" stroke-linecap="round" />
<polyline points="1026.0,250.0 1060.0,232.0 1095.0,200.0 1120.0,160.0 1140.0,120.0 1150.0,105.0" fill="none" stroke="#e4e4e3" stroke-width="5.1" stroke-linejoin="round" stroke-linecap="round" />
<polyline points="1401.5,105.0 1395.1,121.0 1387.2,133.5 1382.5,144.6 1379.3,152.6 1373.5,165.0 1366.5,181.0 1361.5,197.0 1357.1,212.6 1352.0,225.0 1340.5,241.0 1329.5,256.7 1315.5,272.6 1309.0,283.0 1300.5,287.0 1294.5,301.0 1287.9,316.7 1281.5,332.6 1276.5,350.0 1268.5,376.7 1263.5,392.0 1262.1,405.0 1258.5,440.0 1253.5,478.0 1251.2,482.0 1251.2,540.0 1249.9,581.0 1247.5,605.0 1245.1,612.0 1241.5,626.0 1239.5,650.0 1238.5,662.0 1235.1,668.0 1228.0,720.0 1222.0,750.0 1215.0,780.0 1208.0,810.0 1202.0,835.0 1199.0,850.0" fill="none" stroke="#e4e4e3" stroke-width="5.6" stroke-linejoin="round" stroke-linecap="round" />
<polyline points="1205.0,872.0 1214.0,884.0 1235.0,883.5 1244.5,882.3 1256.5,877.5 1265.0,873.9 1277.0,865.5 1289.0,855.9 1301.0,845.1 1309.0,835.5 1323.0,820.5 1336.7,808.0 1342.4,806.9 1367.0,803.1 1395.7,800.2 1424.0,797.5 1446.0,791.5 1471.0,781.5 1491.0,771.5 1506.0,761.5 1519.0,749.5 1529.0,736.5 1528.5,716.0 1533.8,690.7 1538.9,665.0 1541.5,655.0 1543.5,648.6 1545.8,636.9 1549.3,625.2 1550.5,601.8 1542.3,578.4 1534.1,555.0 1531.2,545.0 1528.9,533.6 1526.5,530.0 1526.5,522.0 1535.9,516.0 1540.5,498.5 1542.9,475.0 1548.8,451.7 1552.3,440.0 1560.5,425.0 1577.5,396.0 1595.5,375.0 1604.1,367.0 1611.5,360.0 1622.5,340.0 1636.5,320.0 1658.5,293.0 1677.5,270.0 1688.5,250.0 1702.5,230.0 1727.5,200.0 1745.5,169.0 1767.5,140.0 1777.5,105.0" fill="none" stroke="#e4e4e3" stroke-width="5.6" stroke-linejoin="round" stroke-linecap="round" />
<polyline points="1440.0,720.0 1480.0,731.0 1520.0,744.0 1560.0,760.0 1600.0,777.0 1632.0,792.0 1655.0,797.0" fill="none" stroke="#e4e4e3" stroke-width="8.6" stroke-linejoin="round" stroke-linecap="round" />
<polyline points="1590.0,268.0 1660.0,293.0 1700.0,313.0 1750.0,338.0 1817.0,375.0" fill="none" stroke="#e4e4e3" stroke-width="8.1" stroke-linejoin="round" stroke-linecap="round" />
<polyline points="1388.0,780.0 1400.0,806.0 1414.0,840.0 1425.0,870.0" fill="none" stroke="#e4e4e3" stroke-width="6.6" stroke-linejoin="round" stroke-linecap="round" />
<polyline points="1604.0,963.0 1620.0,923.0 1650.0,862.0 1683.0,797.0 1711.0,744.0 1740.0,715.0 1768.0,690.0 1800.0,662.0 1817.0,649.0" fill="none" stroke="#e4e4e3" stroke-width="7.6" stroke-linejoin="round" stroke-linecap="round" />
<polyline points="1703.0,468.0 1740.0,478.0 1780.0,490.0 1817.0,506.0" fill="none" stroke="#e4e4e3" stroke-width="6.6" stroke-linejoin="round" stroke-linecap="round" />
<polyline points="1709.0,476.0 1707.0,540.0 1710.0,565.0 1730.0,610.0 1750.0,650.0 1767.0,689.0" fill="none" stroke="#e4e4e3" stroke-width="5.1" stroke-linejoin="round" stroke-linecap="round" />
<polyline points="1660.0,588.0 1700.0,580.0 1740.0,572.0 1790.0,558.0 1817.0,550.0" fill="none" stroke="#e4e4e3" stroke-width="4.6" stroke-linejoin="round" stroke-linecap="round" />
<polyline points="1336.0,963.0 1400.0,950.0 1480.0,945.0 1560.0,948.0 1618.0,944.0 1700.0,930.0 1817.0,920.0" fill="none" stroke="#e4e4e3" stroke-width="5.6" stroke-linejoin="round" stroke-linecap="round" />
<polyline points="1026.0,121.0 1080.0,150.0 1130.0,178.0 1162.0,196.0" fill="none" stroke="#fdfdfd" stroke-width="7.5" stroke-linejoin="round" stroke-linecap="round" />
<polyline points="1026.0,250.0 1060.0,232.0 1095.0,200.0 1120.0,160.0 1140.0,120.0 1150.0,105.0" fill="none" stroke="#fdfdfd" stroke-width="3.5" stroke-linejoin="round" stroke-linecap="round" />
<polyline points="1401.5,105.0 1395.1,121.0 1387.2,133.5 1382.5,144.6 1379.3,152.6 1373.5,165.0 1366.5,181.0 1361.5,197.0 1357.1,212.6 1352.0,225.0 1340.5,241.0 1329.5,256.7 1315.5,272.6 1309.0,283.0 1300.5,287.0 1294.5,301.0 1287.9,316.7 1281.5,332.6 1276.5,350.0 1268.5,376.7 1263.5,392.0 1262.1,405.0 1258.5,440.0 1253.5,478.0 1251.2,482.0 1251.2,540.0 1249.9,581.0 1247.5,605.0 1245.1,612.0 1241.5,626.0 1239.5,650.0 1238.5,662.0 1235.1,668.0 1228.0,720.0 1222.0,750.0 1215.0,780.0 1208.0,810.0 1202.0,835.0 1199.0,850.0" fill="none" stroke="#fdfdfd" stroke-width="4" stroke-linejoin="round" stroke-linecap="round" />
<polyline points="1205.0,872.0 1214.0,884.0 1235.0,883.5 1244.5,882.3 1256.5,877.5 1265.0,873.9 1277.0,865.5 1289.0,855.9 1301.0,845.1 1309.0,835.5 1323.0,820.5 1336.7,808.0 1342.4,806.9 1367.0,803.1 1395.7,800.2 1424.0,797.5 1446.0,791.5 1471.0,781.5 1491.0,771.5 1506.0,761.5 1519.0,749.5 1529.0,736.5 1528.5,716.0 1533.8,690.7 1538.9,665.0 1541.5,655.0 1543.5,648.6 1545.8,636.9 1549.3,625.2 1550.5,601.8 1542.3,578.4 1534.1,555.0 1531.2,545.0 1528.9,533.6 1526.5,530.0 1526.5,522.0 1535.9,516.0 1540.5,498.5 1542.9,475.0 1548.8,451.7 1552.3,440.0 1560.5,425.0 1577.5,396.0 1595.5,375.0 1604.1,367.0 1611.5,360.0 1622.5,340.0 1636.5,320.0 1658.5,293.0 1677.5,270.0 1688.5,250.0 1702.5,230.0 1727.5,200.0 1745.5,169.0 1767.5,140.0 1777.5,105.0" fill="none" stroke="#fdfdfd" stroke-width="4" stroke-linejoin="round" stroke-linecap="round" />
<polyline points="1440.0,720.0 1480.0,731.0 1520.0,744.0 1560.0,760.0 1600.0,777.0 1632.0,792.0 1655.0,797.0" fill="none" stroke="#fdfdfd" stroke-width="7" stroke-linejoin="round" stroke-linecap="round" />
<polyline points="1590.0,268.0 1660.0,293.0 1700.0,313.0 1750.0,338.0 1817.0,375.0" fill="none" stroke="#fdfdfd" stroke-width="6.5" stroke-linejoin="round" stroke-linecap="round" />
<polyline points="1388.0,780.0 1400.0,806.0 1414.0,840.0 1425.0,870.0" fill="none" stroke="#fdfdfd" stroke-width="5" stroke-linejoin="round" stroke-linecap="round" />
<polyline points="1604.0,963.0 1620.0,923.0 1650.0,862.0 1683.0,797.0 1711.0,744.0 1740.0,715.0 1768.0,690.0 1800.0,662.0 1817.0,649.0" fill="none" stroke="#fdfdfd" stroke-width="6" stroke-linejoin="round" stroke-linecap="round" />
<polyline points="1703.0,468.0 1740.0,478.0 1780.0,490.0 1817.0,506.0" fill="none" stroke="#fdfdfd" stroke-width="5" stroke-linejoin="round" stroke-linecap="round" />
<polyline points="1709.0,476.0 1707.0,540.0 1710.0,565.0 1730.0,610.0 1750.0,650.0 1767.0,689.0" fill="none" stroke="#fdfdfd" stroke-width="3.5" stroke-linejoin="round" stroke-linecap="round" />
<polyline points="1660.0,588.0 1700.0,580.0 1740.0,572.0 1790.0,558.0 1817.0,550.0" fill="none" stroke="#fdfdfd" stroke-width="3" stroke-linejoin="round" stroke-linecap="round" />
<polyline points="1336.0,963.0 1400.0,950.0 1480.0,945.0 1560.0,948.0 1618.0,944.0 1700.0,930.0 1817.0,920.0" fill="none" stroke="#fdfdfd" stroke-width="4" stroke-linejoin="round" stroke-linecap="round" />
<path d="M1397.0,105.0 L1390.6,121.0 L1382.7,133.5 L1378.0,144.6 L1374.8,152.6 L1369.0,165.0 L1362.0,181.0 L1357.0,197.0 L1352.6,212.6 L1347.5,225.0 L1336.0,241.0 L1325.0,256.7 L1311.0,272.6 L1304.5,283.0 L1296.0,287.0 L1290.0,301.0 L1283.4,316.7 L1277.0,332.6 L1272.0,350.0 L1264.0,376.7 L1259.0,392.0 L1257.6,405.0 L1254.0,440.0 L1249.0,478.0 L1246.7,482.0 L1246.7,540.0 L1245.4,581.0 L1243.0,605.0 L1240.6,612.0 L1237.0,626.0 L1235.0,650.0 L1234.0,662.0 L1230.6,668.0 L1229.4,706.0 L1200.2,706.3 L1196.5,735.0 L1194.0,752.0 L1195.0,758.0 L1202.0,759.0 L1202.0,772.0 L1192.5,773.0 L1188.5,790.0 L1186.5,800.0 L1185.0,810.0 L1184.0,817.0 L1187.7,820.0 L1180.4,826.6 L1179.0,835.0 L1183.0,848.5 L1186.5,855.0 L1192.0,864.0 L1198.0,873.6 L1205.0,883.2 L1214.7,890.4 L1234.0,888.0 L1243.5,886.8 L1255.5,882.0 L1264.0,878.4 L1276.0,870.0 L1288.0,860.4 L1300.0,849.6 L1308.0,840.0 L1322.0,825.0 L1335.7,812.5 L1341.4,811.4 L1366.0,807.6 L1394.7,804.7 L1423.0,802.0 L1445.0,796.0 L1470.0,786.0 L1490.0,776.0 L1505.0,766.0 L1518.0,754.0 L1528.0,741.0 L1533.0,716.0 L1538.3,690.7 L1543.4,665.0 L1546.0,655.0 L1548.0,648.6 L1550.3,636.9 L1553.8,625.2 L1555.0,601.8 L1546.8,578.4 L1538.6,555.0 L1535.7,545.0 L1533.4,533.6 L1531.0,530.0 L1531.0,522.0 L1540.4,516.0 L1545.0,498.5 L1547.4,475.0 L1553.3,451.7 L1556.8,440.0 L1565.0,425.0 L1582.0,396.0 L1600.0,375.0 L1608.6,367.0 L1616.0,360.0 L1627.0,340.0 L1641.0,320.0 L1663.0,293.0 L1682.0,270.0 L1693.0,250.0 L1707.0,230.0 L1732.0,200.0 L1750.0,169.0 L1772.0,140.0 L1782.0,105.0 L1817.0,105.0 L1817.0,190.0 L1796.0,200.0 L1775.0,230.0 L1762.0,250.0 L1753.0,270.0 L1728.0,300.0 L1712.0,320.0 L1705.0,340.0 L1696.0,360.0 L1689.0,367.0 L1684.0,381.0 L1675.5,390.5 L1667.0,394.6 L1665.0,397.0 L1659.0,411.0 L1652.0,423.0 L1642.0,448.0 L1632.0,463.0 L1631.0,480.0 L1634.0,499.0 L1648.0,497.0 L1662.0,492.0 L1662.0,500.0 L1650.0,508.0 L1640.0,520.0 L1630.0,534.0 L1630.5,545.0 L1627.5,555.0 L1629.8,566.7 L1633.3,578.4 L1636.3,601.8 L1632.2,625.2 L1629.8,636.9 L1629.8,648.6 L1626.3,660.3 L1621.6,675.0 L1612.0,685.6 L1601.7,701.0 L1591.6,723.7 L1584.0,746.5 L1576.0,766.8 L1571.0,782.0 L1568.7,804.8 L1568.7,830.0 L1571.0,848.0 L1581.4,860.6 L1560.0,852.0 L1545.0,835.0 L1530.0,818.0 L1520.0,828.0 L1490.0,836.0 L1470.0,842.0 L1442.0,843.0 L1400.0,855.0 L1380.0,860.0 L1364.0,865.0 L1352.0,885.0 L1349.0,905.0 L1338.0,935.0 L1324.0,963.0 L1026.0,963.0 L1026.0,836.0 L1057.0,840.0 L1060.0,838.0 L1061.0,810.0 L1058.0,804.0 L1026.0,800.0 L1026.0,785.0 L1040.0,783.0 L1056.0,779.0 L1060.0,775.0 L1070.0,771.0 L1072.0,750.0 L1073.8,735.0 L1073.8,701.5 L1075.0,693.0 L1081.0,689.0 L1082.3,672.3 L1062.8,665.0 L1063.0,652.0 L1062.0,641.0 L1060.0,636.0 L1060.7,629.0 L1093.5,624.0 L1092.0,612.0 L1088.6,601.0 L1086.0,592.0 L1086.0,581.0 L1110.5,580.0 L1110.5,576.0 L1088.6,575.0 L1088.6,559.0 L1090.0,550.8 L1102.0,547.0 L1115.0,544.7 L1122.7,535.0 L1124.0,530.0 L1115.0,524.7 L1118.0,510.0 L1120.0,494.3 L1124.0,476.0 L1125.0,470.0 L1132.0,456.0 L1141.0,448.0 L1145.0,405.0 L1146.6,376.7 L1148.0,354.5 L1147.0,345.0 L1142.0,332.6 L1139.0,327.8 L1117.0,316.7 L1117.0,308.8 L1126.5,299.3 L1150.0,292.9 L1156.6,285.0 L1160.0,285.0 L1166.6,272.6 L1174.5,256.7 L1177.7,241.0 L1196.0,240.0 L1197.0,225.0 L1198.8,212.6 L1203.5,196.7 L1210.0,180.9 L1216.0,165.0 L1224.0,165.0 L1235.0,152.6 L1248.0,144.6 L1252.7,133.5 L1246.0,121.0 L1241.0,113.0 L1250.0,105.0 Z" fill="#d5d9dc"/>
<polyline points="1650.0,499.0 1674.0,490.3 1692.0,489.0 1709.0,492.6 1730.0,498.5 1753.0,505.7 1779.6,517.4 1797.0,532.0 1809.0,555.0 1817.0,579.0" fill="none" stroke="#d5d9dc" stroke-width="6" stroke-linejoin="round" stroke-linecap="round" />
<polyline points="1746.0,505.0 1782.0,494.0" fill="none" stroke="#d5d9dc" stroke-width="4" stroke-linejoin="round" stroke-linecap="round" />
<polyline points="1746.0,508.0 1748.0,525.0 1750.0,542.0" fill="none" stroke="#d5d9dc" stroke-width="3.5" stroke-linejoin="round" stroke-linecap="round" />
<polyline points="1794.0,487.0 1800.0,470.0 1805.0,460.0" fill="none" stroke="#d5d9dc" stroke-width="3.5" stroke-linejoin="round" stroke-linecap="round" />
<polyline points="1629.0,636.0 1645.0,640.0 1660.0,646.0" fill="none" stroke="#d5d9dc" stroke-width="5" stroke-linejoin="round" stroke-linecap="round" />
<path d="M1800.6,144.7 L1801.5,152.0 L1799.5,157.5 L1799.0,169.0 L1787.0,187.0 L1786.0,200.0 L1770.0,215.0 L1755.0,230.0 L1743.0,250.0 L1731.0,270.0 L1711.0,295.0 L1692.0,320.0 L1676.0,340.0 L1661.0,360.0 L1648.0,375.0 L1638.0,385.0 L1633.0,387.0 L1637.0,376.0 L1646.0,360.0 L1657.0,340.0 L1670.0,320.0 L1688.0,295.0 L1707.0,270.0 L1719.0,250.0 L1733.0,230.0 L1743.0,215.0 L1753.0,200.0 L1761.0,187.0 L1774.0,169.0 L1782.5,157.5 L1792.0,150.0 Z" fill="#f1f2ef"/>
<path d="M1026.0,800.0 L1058.0,804.0 L1061.0,810.0 L1060.0,838.0 L1057.0,840.0 L1026.0,836.0 Z" fill="#ebf0e9"/>
<path d="M1218.7,582.4 L1245.4,582.4 L1245.4,605.0 L1218.7,605.0 Z" fill="#eeeeed"/>
<path d="M1091.5,225 L1113.4,236 L1107,251.6 L1084.5,240.7 Z" fill="#d5d9dc"/>
<path d="M1174,219 L1196,222 L1198,236 L1193,243 L1176,241 Z" fill="#ecf1eb"/>
<polyline points="1158.0,198.0 1152.0,215.0 1146.0,232.0 1141.0,250.0 1136.0,265.0" fill="none" stroke="#e4e4e3" stroke-width="6.2" stroke-linejoin="round" stroke-linecap="round" />
<polyline points="1158.0,198.0 1152.0,215.0 1146.0,232.0 1141.0,250.0 1136.0,265.0" fill="none" stroke="#fdfdfd" stroke-width="5" stroke-linejoin="round" stroke-linecap="round" />
<polyline points="1170.0,203.0 1166.0,222.0 1160.0,240.0 1152.0,258.0" fill="none" stroke="#e4e4e3" stroke-width="4.7" stroke-linejoin="round" stroke-linecap="round" />
<polyline points="1170.0,203.0 1166.0,222.0 1160.0,240.0 1152.0,258.0" fill="none" stroke="#fdfdfd" stroke-width="3.5" stroke-linejoin="round" stroke-linecap="round" />
<polyline points="1126.0,175.0 1138.0,195.0 1150.0,210.0" fill="none" stroke="#e4e4e3" stroke-width="4.2" stroke-linejoin="round" stroke-linecap="round" />
<polyline points="1126.0,175.0 1138.0,195.0 1150.0,210.0" fill="none" stroke="#fdfdfd" stroke-width="3" stroke-linejoin="round" stroke-linecap="round" />
<polyline points="1100.0,150.0 1112.0,175.0 1124.0,195.0" fill="none" stroke="#e4e4e3" stroke-width="3.7" stroke-linejoin="round" stroke-linecap="round" />
<polyline points="1100.0,150.0 1112.0,175.0 1124.0,195.0" fill="none" stroke="#fdfdfd" stroke-width="2.5" stroke-linejoin="round" stroke-linecap="round" />
<polyline points="1150.0,199.0 1230.0,232.0 1306.0,271.0" fill="none" stroke="#e6e7e7" stroke-width="10" stroke-linejoin="round" stroke-linecap="round" stroke-linecap="butt"/>
<polyline points="1026.0,596.0 1143.0,608.0 1231.0,621.0 1248.0,625.0" fill="none" stroke="#e6e7e7" stroke-width="10" stroke-linejoin="round" stroke-linecap="round" stroke-linecap="butt"/>
<polyline points="1200.0,852.0 1211.0,890.0 1230.3,963.0" fill="none" stroke="#e6e7e7" stroke-width="9" stroke-linejoin="round" stroke-linecap="round" stroke-linecap="butt"/>
<line x1="1384.0" y1="131.0" x2="1364.6" y2="120.7" stroke="#e8e9e9" stroke-width="3.5"/>
<line x1="1379.0" y1="140.0" x2="1361.3" y2="130.6" stroke="#e8e9e9" stroke-width="3.5"/>
<line x1="1368.0" y1="167.0" x2="1345.0" y2="154.8" stroke="#e8e9e9" stroke-width="3.5"/>
<line x1="1365.0" y1="177.0" x2="1340.3" y2="163.9" stroke="#e8e9e9" stroke-width="3.5"/>
<line x1="1360.0" y1="189.0" x2="1333.5" y2="174.9" stroke="#e8e9e9" stroke-width="3.5"/>
<line x1="1355.0" y1="203.0" x2="1328.5" y2="188.9" stroke="#e8e9e9" stroke-width="3.5"/>
<line x1="1350.0" y1="216.0" x2="1323.5" y2="201.9" stroke="#e8e9e9" stroke-width="3.5"/>
<line x1="1344.0" y1="230.0" x2="1317.5" y2="215.9" stroke="#e8e9e9" stroke-width="3.5"/>
<line x1="1337.0" y1="240.0" x2="1312.3" y2="226.9" stroke="#e8e9e9" stroke-width="3.5"/>
<line x1="1330.0" y1="250.0" x2="1303.5" y2="235.9" stroke="#e8e9e9" stroke-width="3.5"/>
<line x1="1323.0" y1="260.0" x2="1298.3" y2="246.9" stroke="#e8e9e9" stroke-width="3.5"/>
<line x1="1316.0" y1="270.0" x2="1293.0" y2="257.8" stroke="#e8e9e9" stroke-width="3.5"/>
<line x1="1246.0" y1="555.0" x2="1222.0" y2="555.0" stroke="#e8e9e9" stroke-width="3.5"/>
<line x1="1246.0" y1="547.0" x2="1236.0" y2="547.0" stroke="#e8e9e9" stroke-width="3.5"/>
<line x1="1230.0" y1="680.0" x2="1204.0" y2="680.0" stroke="#e8e9e9" stroke-width="3.5"/>
<line x1="1230.0" y1="690.0" x2="1204.0" y2="690.0" stroke="#e8e9e9" stroke-width="3.5"/>
<line x1="1246.0" y1="495.0" x2="1240.0" y2="495.0" stroke="#e8e9e9" stroke-width="3.5"/>
<line x1="1168.0" y1="262.0" x2="1189.2" y2="273.3" stroke="#e8e9e9" stroke-width="4"/>
<line x1="1166.0" y1="270.0" x2="1185.4" y2="280.3" stroke="#e8e9e9" stroke-width="4"/>
<line x1="1160.0" y1="280.0" x2="1179.4" y2="290.3" stroke="#e8e9e9" stroke-width="4"/>
<line x1="1115.0" y1="516.0" x2="1133.0" y2="516.0" stroke="#e8e9e9" stroke-width="4"/>
<line x1="1086.0" y1="586.0" x2="1112.0" y2="601.0" stroke="#e8e9e9" stroke-width="4"/>
<line x1="1062.0" y1="639.0" x2="1098.0" y2="639.0" stroke="#e8e9e9" stroke-width="4"/>
<line x1="1062.0" y1="646.0" x2="1098.0" y2="646.0" stroke="#e8e9e9" stroke-width="4"/>
<line x1="1074.0" y1="699.0" x2="1100.0" y2="699.0" stroke="#e8e9e9" stroke-width="4"/>
<line x1="1074.0" y1="723.0" x2="1096.0" y2="723.0" stroke="#e8e9e9" stroke-width="4"/>
<line x1="1064.0" y1="643.0" x2="1082.0" y2="643.0" stroke="#e8e9e9" stroke-width="4"/>
<line x1="1306.0" y1="838.0" x2="1299.8" y2="821.1" stroke="#e8e9e9" stroke-width="2.5"/>
<line x1="1312.0" y1="834.0" x2="1305.8" y2="817.1" stroke="#e8e9e9" stroke-width="2.5"/>
<line x1="1318.0" y1="829.0" x2="1311.8" y2="812.1" stroke="#e8e9e9" stroke-width="2.5"/>
<line x1="1284.0" y1="866.0" x2="1277.0" y2="853.9" stroke="#e8e9e9" stroke-width="2.5"/>
<line x1="1262.0" y1="880.0" x2="1259.9" y2="868.2" stroke="#e8e9e9" stroke-width="2.5"/>
<line x1="1540.0" y1="822.0" x2="1555.0" y2="796.0" stroke="#e3e5e5" stroke-width="3"/>
<line x1="1548.0" y1="830.0" x2="1563.0" y2="804.0" stroke="#e3e5e5" stroke-width="3"/>
<line x1="1556.0" y1="838.0" x2="1569.0" y2="815.5" stroke="#e3e5e5" stroke-width="3"/>
<line x1="1532.0" y1="815.0" x2="1545.0" y2="792.5" stroke="#e3e5e5" stroke-width="3"/>
<path d="M1521,105 L1612,105 L1600,143 Z" fill="#edf1ec"/>
<path d="M1540,106 C1548,104 1556,108 1560,112 C1566,110 1574,113 1574,119 C1572,124 1565,125 1560,121 C1555,120 1550,116 1546,114 C1542,112 1538,109 1540,106 Z" fill="#d5d9dc"/>
<polyline points="1470.0,105.0 1471.0,140.0 1472.0,178.0" fill="none" stroke="#fdfdfd" stroke-width="4" stroke-linejoin="round" stroke-linecap="round" />
<polyline points="1440.0,720.0 1480.0,731.0 1520.0,744.0 1560.0,760.0 1600.0,777.0 1632.0,792.0 1655.0,797.0" fill="none" stroke="#fdfdfd" stroke-width="7" stroke-linejoin="round" stroke-linecap="round" />
<polyline points="1590.0,268.0 1660.0,293.0 1700.0,313.0 1750.0,338.0 1817.0,375.0" fill="none" stroke="#fdfdfd" stroke-width="6.5" stroke-linejoin="round" stroke-linecap="round" />
<polyline points="1387.0,760.0 1400.0,800.0 1414.0,840.0 1425.0,871.0" fill="none" stroke="#fdfdfd" stroke-width="6" stroke-linejoin="round" stroke-linecap="round" />
<rect x="1026" y="961" width="791" height="2" fill="#fafafa"/>
</g></g>
<g clip-path="url(#mapclip)">
<text x="1161" y="203" transform="rotate(24 1161 203)" font-size="11.5" font-weight="600" fill="#9fadbc" letter-spacing="0.3">Lincoln Tunnel</text>
<text x="1313" y="268" transform="rotate(-61 1313 268)" font-size="11.5" font-weight="600" fill="#9fadbc" letter-spacing="0.3">12th Avenue</text>
<text x="1270" y="372" transform="rotate(-66 1270 372)" font-size="11.5" font-weight="600" fill="#9fadbc" letter-spacing="0.3">12th Avenue</text>
<text x="1249" y="623" transform="rotate(-83 1249 623)" font-size="11.5" font-weight="600" fill="#9fadbc" letter-spacing="0.3">West Street</text>
<text x="1187" y="621" transform="rotate(13 1187 621)" font-size="11.5" font-weight="600" fill="#9fadbc" letter-spacing="0.3">Holland</text>
<text x="1237" y="630" transform="rotate(40 1237 630)" font-size="11.5" font-weight="600" fill="#9fadbc" letter-spacing="0.3">Tunnel</text>
<text x="1711" y="219" transform="rotate(-55 1711 219)" font-size="11.5" font-weight="600" fill="#9fadbc" letter-spacing="0.3">FDR Drive</text>
<text x="1602" y="372" transform="rotate(-52 1602 372)" font-size="11.5" font-weight="600" fill="#9fadbc" letter-spacing="0.3">FDR Drive</text>
<text x="1527" y="553" transform="rotate(68 1527 553)" font-size="11.5" font-weight="600" fill="#9fadbc" letter-spacing="0.3">FDR Drive</text>
<text x="1380" y="808" transform="rotate(-8 1380 808)" font-size="11.5" font-weight="600" fill="#9fadbc" letter-spacing="0.3">FDR Drive</text>
<text x="1330" y="816" transform="rotate(47 1330 816)" font-size="11.5" font-weight="600" fill="#9fadbc" letter-spacing="0.3">Brooklyn Bridge</text>
<text x="1411" y="880" transform="rotate(36 1411 880)" font-size="11.5" font-weight="600" fill="#9fadbc" letter-spacing="0.3">Brooklyn-</text>
<text x="1461" y="914" transform="rotate(32 1461 914)" font-size="11.5" font-weight="600" fill="#9fadbc" letter-spacing="0.3">Queens</text>
<text x="1496" y="935" transform="rotate(6 1496 935)" font-size="11.5" font-weight="600" fill="#9fadbc" letter-spacing="0.3">Expressway</text>
<text x="1208" y="900" transform="rotate(72 1208 900)" font-size="11.5" font-weight="600" fill="#9fadbc" letter-spacing="0.3">Brooklyn-Battery</text>
<text x="1795" y="497" transform="rotate(22 1795 497)" font-size="11.5" font-weight="600" fill="#9fadbc" letter-spacing="0.3">Long Island</text>
<text x="1772" y="691" transform="rotate(-33 1772 691)" font-size="11.5" font-weight="600" fill="#9fadbc" letter-spacing="0.3">Brooklyn-Queens</text>
</g>
<path d="M1521.3,112.1 L1598.1,146.2 L1561.0,226.8 L1600.0,243.7 L1488.1,284.3 L1446.6,174.1 L1485.6,191.7 Z" fill="#195f83" stroke="#0a2232" stroke-width="2" stroke-linejoin="miter"/>
<path d="M1120.5,404.8 L1253.9,424.4 L1255.7,404.3 L1289.0,448.6 L1244.6,481.6 L1247.2,462.0 L1115.8,442.9 Z" fill="#195f83" stroke="#0a2232" stroke-width="2" stroke-linejoin="miter"/>
<path d="M1542.7,390.9 L1597.8,374.8 L1587.6,393.4 L1703.3,456.1 L1684.3,490.1 L1568.6,427.6 L1558.9,446.0 Z" fill="#195f83" stroke="#0a2232" stroke-width="2" stroke-linejoin="miter"/>
<path d="M1446.0,739.1 L1531.1,761.6 L1503.9,777.4 L1559.1,871.2 L1505.6,902.8 L1450.7,808.1 L1423.2,823.9 Z" fill="#195f83" stroke="#0a2232" stroke-width="2" stroke-linejoin="miter"/>
<text x="1208" y="778" font-size="25" font-weight="700" fill="#8c9dae" letter-spacing="2">NEW YORK</text>
<text x="1359" y="256.5" font-size="50" font-weight="400" fill="#000" letter-spacing="2.5">43%</text>
<text x="1270" y="285.6" font-size="25" font-weight="400" fill="#000" letter-spacing="0.85">N. of 60th Street</text>
<text x="1147" y="351.4" font-size="25.5" font-weight="400" fill="#000" letter-spacing="0.5">New Jersey</text>
<text x="1142" y="395.5" font-size="50" font-weight="400" fill="#000" letter-spacing="-1.5">17%</text>
<text x="1539" y="505.9" font-size="50" font-weight="400" fill="#000" letter-spacing="-0.8">16%</text>
<text x="1540" y="532.6" font-size="25.5" font-weight="400" fill="#000" letter-spacing="0.5">Queens</text>
<text x="1362" y="877.2" font-size="50" font-weight="400" fill="#000" letter-spacing="3">24%</text>
<text x="1357" y="903.7" font-size="25.5" font-weight="400" fill="#000" letter-spacing="0.7">Brooklyn</text>
</svg>
</body></html>
